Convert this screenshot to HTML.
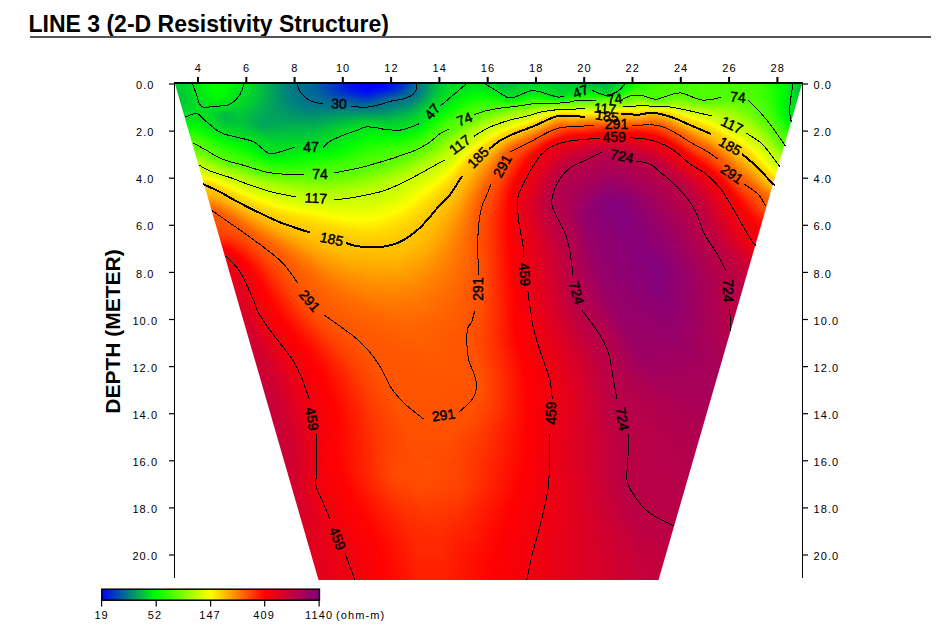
<!DOCTYPE html>
<html><head><meta charset="utf-8"><style>
html,body{margin:0;padding:0;background:#fff;}
body{width:947px;height:637px;position:relative;overflow:hidden;font-family:"Liberation Sans",sans-serif;}
#title{position:absolute;left:28.5px;top:8.8px;font-weight:bold;font-size:23px;line-height:30px;white-space:nowrap;color:#000;}
#rule{position:absolute;left:30px;top:36px;width:901px;height:2px;background:#555;}
#fld{position:absolute;left:175px;top:84px;width:627px;height:496px;clip-path:polygon(0 0,627px 0,483.5px 496px,143.5px 496px);}
#fld i{display:block;height:1px;}
svg{position:absolute;left:0;top:0;}
.t{font-size:11px;letter-spacing:1.1px;}
#cont path{fill:none;stroke:#000;stroke-linejoin:round;shape-rendering:crispEdges;}
#cont text{font-size:14px;stroke:#000;stroke-width:0.45px;text-anchor:middle;dominant-baseline:central;}
</style></head><body>
<div id="title">LINE 3 (2-D Resistivity Structure)</div>
<div id="rule"></div>
<div id="fld">
<i style="background:linear-gradient(90deg,#00c936 0.5px,#00dc23 14.5px,#00fb04 33.5px,#05ff00 41.5px,#00fc03 51.5px,#00e31c 66.5px,#00d827 76.5px,#007e81 112.5px,#00718e 124.5px,#00619e 140.5px,#0010ef 177.5px,#0002fd 190.5px,#0003fc 206.5px,#0014eb 214.5px,#0024db 221.5px,#0031ce 227.5px,#006a95 239.5px,#00906f 250.5px,#00c837 264.5px,#00dd22 275.5px,#00e31c 305.5px,#00de21 317.5px,#00c03f 326.5px,#00c43b 334.5px,#00d926 348.5px,#00d728 373.5px,#00ce31 386.5px,#00d42b 402.5px,#00bc43 422.5px,#00b946 428.5px,#00c738 435.5px,#00df20 444.5px,#00e41b 450.5px,#02ff00 455.5px,#24ff00 462.5px,#36ff00 472.5px,#4eff00 498.5px,#48ff00 560.5px,#48ff00 577.5px,#33ff00 590.5px,#00fe01 608.5px,#00db24 619.5px,#00c33c 625.5px,#00c13e 626.5px)"></i>
<i style="background:linear-gradient(90deg,#00c936 0.5px,#00da25 13.5px,#00f906 32.5px,#05ff00 40.5px,#00fc03 51.5px,#00e31c 65.5px,#00d926 75.5px,#007e81 112.5px,#00718e 124.5px,#00619e 140.5px,#000df2 179.5px,#0001fe 195.5px,#0008f7 209.5px,#0024db 220.5px,#0033cc 227.5px,#006798 238.5px,#00916e 250.5px,#00c837 264.5px,#00dd22 275.5px,#00e41b 306.5px,#00dd22 318.5px,#00c03f 326.5px,#00c33c 333.5px,#00d926 348.5px,#00d728 373.5px,#00cf30 387.5px,#00d629 402.5px,#00c03f 421.5px,#00bb44 428.5px,#00c837 435.5px,#00e01f 444.5px,#00e619 450.5px,#00fe01 454.5px,#23ff00 461.5px,#35ff00 470.5px,#4eff00 498.5px,#48ff00 559.5px,#48ff00 577.5px,#38ff00 588.5px,#00fe01 608.5px,#00db24 619.5px,#00c33c 625.5px,#00c13e 626.5px)"></i>
<i style="background:linear-gradient(90deg,#00c936 0.5px,#00d629 11.5px,#00f906 32.5px,#05ff00 40.5px,#00fc03 51.5px,#00e31c 65.5px,#00d926 75.5px,#00807f 111.5px,#00728d 123.5px,#00649b 139.5px,#000ef1 179.5px,#0003fc 194.5px,#000af5 209.5px,#0029d6 222.5px,#0035ca 227.5px,#00659a 237.5px,#008877 248.5px,#00c639 263.5px,#00dc23 274.5px,#00e619 304.5px,#00dc23 319.5px,#00c03f 326.5px,#00c639 334.5px,#00db24 349.5px,#00d827 373.5px,#00cf30 386.5px,#00d728 403.5px,#00c23d 422.5px,#00bd42 430.5px,#00e01f 444.5px,#00e619 449.5px,#00fd02 453.5px,#23ff00 460.5px,#37ff00 470.5px,#4fff00 499.5px,#48ff00 558.5px,#48ff00 578.5px,#31ff00 591.5px,#00fd02 608.5px,#00da25 619.5px,#00c33c 625.5px,#00c13e 626.5px)"></i>
<i style="background:linear-gradient(90deg,#00c837 0.5px,#00d827 12.5px,#00f609 31.5px,#04ff00 38.5px,#02ff00 48.5px,#00e21d 66.5px,#00d728 76.5px,#00837c 110.5px,#00728d 121.5px,#006996 136.5px,#0048b7 152.5px,#0014eb 176.5px,#0004fb 193.5px,#0010ef 211.5px,#0039c6 227.5px,#006798 237.5px,#00857a 247.5px,#00c33c 262.5px,#00dc23 273.5px,#00e817 304.5px,#00dc23 320.5px,#00c03f 327.5px,#00cc33 337.5px,#00dc23 349.5px,#00d926 373.5px,#00d02f 385.5px,#00d926 403.5px,#00c837 422.5px,#00bf40 430.5px,#00e11e 444.5px,#00e619 448.5px,#00fc03 452.5px,#27ff00 460.5px,#38ff00 469.5px,#43ff00 484.5px,#4fff00 498.5px,#48ff00 556.5px,#4aff00 576.5px,#34ff00 590.5px,#00fd02 608.5px,#00da25 619.5px,#00c23d 625.5px,#00c13e 626.5px)"></i>
<i style="background:linear-gradient(90deg,#00c837 0.5px,#00d52a 11.5px,#00f30c 30.5px,#02ff00 37.5px,#02ff00 48.5px,#00e31c 65.5px,#00d827 75.5px,#007f80 112.5px,#00728d 123.5px,#006699 138.5px,#003ac5 159.5px,#001ae5 173.5px,#0005fa 192.5px,#0015ea 212.5px,#0039c6 226.5px,#006996 237.5px,#007d82 245.5px,#00c43b 262.5px,#00db24 272.5px,#00ea15 304.5px,#00dc23 321.5px,#00c03f 328.5px,#00dd22 348.5px,#00db24 372.5px,#00d02f 385.5px,#00db24 403.5px,#00cf30 422.5px,#00c13e 430.5px,#00e11e 443.5px,#00e619 447.5px,#00fd02 451.5px,#26ff00 458.5px,#39ff00 468.5px,#44ff00 484.5px,#50ff00 499.5px,#4aff00 544.5px,#49ff00 578.5px,#34ff00 590.5px,#00fc03 608.5px,#00da25 619.5px,#00c43b 624.5px,#00c13e 626.5px)"></i>
<i style="background:linear-gradient(90deg,#00c738 0.5px,#00d629 12.5px,#00f50a 31.5px,#02ff00 37.5px,#02ff00 48.5px,#00e31c 64.5px,#00d629 76.5px,#007f80 112.5px,#00718e 126.5px,#00619e 142.5px,#001ee1 172.5px,#0005fa 192.5px,#001de2 214.5px,#002cd3 220.5px,#0050af 230.5px,#006d92 238.5px,#007986 244.5px,#00c23d 261.5px,#00da25 271.5px,#00ec13 304.5px,#00df20 321.5px,#00cf30 325.5px,#00c43b 328.5px,#00df20 350.5px,#00db24 373.5px,#00d12e 385.5px,#00dd22 404.5px,#00d629 422.5px,#00c33c 430.5px,#00e11e 443.5px,#00eb14 447.5px,#00ff00 450.5px,#25ff00 456.5px,#38ff00 464.5px,#43ff00 483.5px,#50ff00 497.5px,#4dff00 519.5px,#4bff00 563.5px,#4aff00 577.5px,#37ff00 589.5px,#00ff00 607.5px,#00d926 619.5px,#00c53a 624.5px,#00c13e 626.5px)"></i>
<i style="background:linear-gradient(90deg,#00c738 0.5px,#00d22d 10.5px,#00f40b 31.5px,#02ff00 37.5px,#03ff00 47.5px,#00e31c 64.5px,#00d728 75.5px,#00827d 111.5px,#00728d 123.5px,#006798 139.5px,#002fd0 165.5px,#001de2 175.5px,#0005fa 192.5px,#001be4 209.5px,#002ed1 219.5px,#006d92 237.5px,#007689 243.5px,#00c33c 261.5px,#00db24 271.5px,#00ec13 295.5px,#00ec13 310.5px,#00dc23 324.5px,#00cb34 328.5px,#00d827 341.5px,#00e11e 355.5px,#00dc23 373.5px,#00d22d 384.5px,#00e01f 405.5px,#00dc23 422.5px,#00c639 430.5px,#00cf30 434.5px,#00de21 440.5px,#00e718 445.5px,#02ff00 449.5px,#2aff00 455.5px,#39ff00 461.5px,#40ff00 473.5px,#44ff00 483.5px,#51ff00 497.5px,#4cff00 522.5px,#4aff00 578.5px,#35ff00 590.5px,#00fe01 607.5px,#00d32c 620.5px,#00c43b 625.5px,#00c33c 626.5px)"></i>
<i style="background:linear-gradient(90deg,#00c639 0.5px,#00d12e 10.5px,#00e21d 20.5px,#00f10e 30.5px,#03ff00 38.5px,#02ff00 47.5px,#00e31c 63.5px,#00d629 75.5px,#00807f 112.5px,#00728d 124.5px,#006699 140.5px,#0035ca 164.5px,#0023dc 173.5px,#0009f6 190.5px,#0009f6 193.5px,#001fe0 206.5px,#0031ce 218.5px,#006f90 237.5px,#007788 243.5px,#00c53a 261.5px,#00dc23 271.5px,#00e916 290.5px,#00f30c 303.5px,#00e01f 324.5px,#00d12e 329.5px,#00d728 339.5px,#00e41b 358.5px,#00da25 377.5px,#00d32c 384.5px,#00e51a 410.5px,#00e21d 421.5px,#00d728 426.5px,#00c936 430.5px,#00d32c 434.5px,#00dd22 438.5px,#00e718 444.5px,#04ff00 448.5px,#2eff00 454.5px,#3bff00 458.5px,#42ff00 470.5px,#44ff00 482.5px,#52ff00 497.5px,#4eff00 519.5px,#4bff00 578.5px,#35ff00 590.5px,#00fd02 607.5px,#00c639 624.5px,#00c43b 626.5px)"></i>
<i style="background:linear-gradient(90deg,#00c53a 0.5px,#00d02f 10.5px,#00e21d 20.5px,#00f10e 30.5px,#02ff00 38.5px,#03ff00 46.5px,#00f609 52.5px,#00e31c 63.5px,#00d629 75.5px,#00807f 112.5px,#00718e 127.5px,#006699 141.5px,#0028d7 173.5px,#000cf3 192.5px,#0026d9 206.5px,#0039c6 218.5px,#006f90 236.5px,#007887 243.5px,#00c33c 260.5px,#00db24 270.5px,#00e817 288.5px,#00f609 303.5px,#00ed12 315.5px,#00da25 327.5px,#00d629 335.5px,#00e817 360.5px,#00d827 379.5px,#00d42b 384.5px,#00e11e 399.5px,#00ed12 412.5px,#00e916 419.5px,#00dc23 426.5px,#00cd32 430.5px,#00d728 434.5px,#00e01f 437.5px,#00e41b 442.5px,#00fe01 446.5px,#2dff00 452.5px,#40ff00 456.5px,#46ff00 469.5px,#44ff00 481.5px,#52ff00 495.5px,#50ff00 516.5px,#4cff00 536.5px,#4cff00 577.5px,#39ff00 589.5px,#00fd02 607.5px,#00c738 624.5px,#00c53a 626.5px)"></i>
<i style="background:linear-gradient(90deg,#00c53a 0.5px,#00cd32 9.5px,#00e21d 21.5px,#00f609 33.5px,#03ff00 40.5px,#00fd02 48.5px,#00e41b 61.5px,#00d728 74.5px,#00817e 112.5px,#00728d 125.5px,#006798 141.5px,#003ac5 165.5px,#0012ed 192.5px,#002fd0 207.5px,#0044bb 219.5px,#006f90 235.5px,#007a85 243.5px,#00c53a 260.5px,#00dc23 270.5px,#00e916 287.5px,#00fa05 302.5px,#00f20d 314.5px,#00d827 333.5px,#00e817 353.5px,#00ef10 359.5px,#00e31c 369.5px,#00d827 380.5px,#00d728 385.5px,#00dd22 391.5px,#00eb14 403.5px,#00f609 411.5px,#00f00f 419.5px,#00db24 427.5px,#00d42b 431.5px,#00e619 438.5px,#00ec13 442.5px,#02ff00 445.5px,#33ff00 451.5px,#48ff00 456.5px,#4aff00 469.5px,#44ff00 480.5px,#53ff00 495.5px,#52ff00 514.5px,#4dff00 534.5px,#4dff00 577.5px,#3cff00 588.5px,#08ff00 604.5px,#00f906 608.5px,#00c738 625.5px,#00c639 626.5px)"></i>
<i style="background:linear-gradient(90deg,#00c43b 1.5px,#00d02f 11.5px,#00e11e 20.5px,#00ef10 30.5px,#01ff00 40.5px,#00fb04 48.5px,#00e31c 61.5px,#00d629 74.5px,#00817e 112.5px,#00728d 127.5px,#006699 143.5px,#0034cb 172.5px,#0019e6 191.5px,#003ac5 209.5px,#0050af 220.5px,#006e91 233.5px,#007986 242.5px,#00c738 260.5px,#00dd22 270.5px,#00e916 286.5px,#00fd02 300.5px,#00fa05 312.5px,#00e01f 328.5px,#00dc23 338.5px,#00e51a 349.5px,#00f609 358.5px,#00e11e 374.5px,#00da25 380.5px,#00d926 385.5px,#00e01f 390.5px,#00e31c 396.5px,#00fe01 408.5px,#00fd02 418.5px,#00eb14 424.5px,#00df20 427.5px,#00df20 434.5px,#01ff00 443.5px,#39ff00 450.5px,#50ff00 456.5px,#50ff00 468.5px,#45ff00 480.5px,#53ff00 492.5px,#55ff00 508.5px,#4dff00 531.5px,#4fff00 576.5px,#3dff00 588.5px,#04ff00 605.5px,#00f50a 609.5px,#00c837 625.5px)"></i>
<i style="background:linear-gradient(90deg,#00c33c 1.5px,#00cd32 10.5px,#00e11e 20.5px,#00f10e 32.5px,#00ff00 42.5px,#00f30c 51.5px,#00e21d 62.5px,#00d728 73.5px,#00827d 112.5px,#00728d 126.5px,#006897 142.5px,#0048b7 162.5px,#0020df 191.5px,#0044bb 210.5px,#00708f 233.5px,#007986 241.5px,#009f60 250.5px,#00cf30 262.5px,#00e01f 272.5px,#00e817 284.5px,#00ff00 298.5px,#03ff00 309.5px,#00f708 317.5px,#00e31c 327.5px,#00df20 339.5px,#00ea15 349.5px,#00fe01 357.5px,#00f807 363.5px,#00e51a 373.5px,#00db24 384.5px,#00eb14 396.5px,#00ff00 403.5px,#0cff00 412.5px,#05ff00 421.5px,#00ff00 423.5px,#00f00f 426.5px,#00f20d 436.5px,#02ff00 439.5px,#18ff00 444.5px,#44ff00 450.5px,#56ff00 458.5px,#56ff00 467.5px,#4eff00 473.5px,#47ff00 480.5px,#53ff00 490.5px,#59ff00 506.5px,#4eff00 530.5px,#52ff00 569.5px,#48ff00 583.5px,#29ff00 595.5px,#00ff00 606.5px,#00cb34 624.5px,#00ca35 625.5px)"></i>
<i style="background:linear-gradient(90deg,#00c23d 1.5px,#00ca35 9.5px,#00e11e 21.5px,#00fc03 41.5px,#00f30c 50.5px,#00e21d 61.5px,#00da25 71.5px,#00847b 111.5px,#00728d 127.5px,#006897 144.5px,#003fc0 173.5px,#0027d8 191.5px,#004bb4 209.5px,#00708f 230.5px,#007689 239.5px,#00946b 247.5px,#00cb34 260.5px,#00df20 270.5px,#00eb14 284.5px,#02ff00 296.5px,#08ff00 308.5px,#00fb04 318.5px,#00e11e 331.5px,#00e31c 342.5px,#00f807 351.5px,#03ff00 354.5px,#09ff00 359.5px,#00fb04 366.5px,#00e01f 380.5px,#00e31c 388.5px,#02ff00 398.5px,#16ff00 409.5px,#17ff00 423.5px,#0cff00 427.5px,#0cff00 436.5px,#2fff00 445.5px,#4fff00 450.5px,#5aff00 458.5px,#60ff00 464.5px,#52ff00 471.5px,#49ff00 480.5px,#53ff00 488.5px,#5eff00 505.5px,#4fff00 525.5px,#52ff00 572.5px,#45ff00 585.5px,#1eff00 598.5px,#00ff00 606.5px,#00d12e 622.5px,#00cb34 625.5px)"></i>
<i style="background:linear-gradient(90deg,#00c13e 1.5px,#00cc33 10.5px,#00e11e 21.5px,#00f906 42.5px,#00ec13 53.5px,#00e11e 64.5px,#00cf30 76.5px,#00837c 112.5px,#00728d 129.5px,#006699 147.5px,#0046b9 172.5px,#002fd0 190.5px,#0038c7 196.5px,#0050af 207.5px,#006d92 225.5px,#007986 239.5px,#00a15e 249.5px,#00d02f 261.5px,#00e11e 271.5px,#00e817 281.5px,#02ff00 293.5px,#0eff00 306.5px,#02ff00 318.5px,#00e41b 332.5px,#00e619 341.5px,#03ff00 351.5px,#14ff00 357.5px,#0bff00 364.5px,#00fd02 370.5px,#00e916 379.5px,#00eb14 388.5px,#01ff00 393.5px,#17ff00 400.5px,#25ff00 414.5px,#2bff00 422.5px,#2eff00 424.5px,#26ff00 432.5px,#2cff00 438.5px,#42ff00 446.5px,#54ff00 450.5px,#59ff00 456.5px,#69ff00 462.5px,#63ff00 467.5px,#57ff00 471.5px,#4dff00 479.5px,#60ff00 498.5px,#63ff00 505.5px,#51ff00 523.5px,#54ff00 568.5px,#4aff00 583.5px,#31ff00 593.5px,#00fe01 606.5px,#00d926 619.5px,#00cd32 625.5px)"></i>
<i style="background:linear-gradient(90deg,#00c13e 2.5px,#00cb34 10.5px,#00e11e 21.5px,#00f10e 35.5px,#00f609 44.5px,#00e11e 62.5px,#00d629 72.5px,#00847b 112.5px,#00728d 129.5px,#006798 149.5px,#004eb1 170.5px,#0041be 181.5px,#0037c8 191.5px,#0059a6 208.5px,#00708f 224.5px,#007a85 238.5px,#009b64 247.5px,#00cf30 260.5px,#00e11e 270.5px,#00eb14 281.5px,#02ff00 291.5px,#13ff00 304.5px,#0dff00 316.5px,#00fb04 324.5px,#00e31c 336.5px,#01ff00 347.5px,#1fff00 356.5px,#1bff00 362.5px,#00fc03 376.5px,#00f609 381.5px,#00fa05 388.5px,#0cff00 392.5px,#21ff00 396.5px,#31ff00 410.5px,#37ff00 420.5px,#47ff00 424.5px,#47ff00 439.5px,#57ff00 451.5px,#65ff00 457.5px,#74ff00 462.5px,#6dff00 467.5px,#53ff00 474.5px,#55ff00 486.5px,#6bff00 502.5px,#5bff00 515.5px,#53ff00 524.5px,#53ff00 540.5px,#58ff00 559.5px,#4cff00 582.5px,#35ff00 592.5px,#00fe01 606.5px,#00de21 617.5px,#00d22d 624.5px)"></i>
<i style="background:linear-gradient(90deg,#00c13e 2.5px,#00cb34 10.5px,#00e21d 22.5px,#00f30c 42.5px,#00e11e 62.5px,#00d12e 74.5px,#00837c 113.5px,#00728d 131.5px,#00649b 154.5px,#0054ab 171.5px,#0048b7 181.5px,#003ec1 190.5px,#0052ad 200.5px,#006a95 215.5px,#00738c 227.5px,#007d82 238.5px,#00ac53 250.5px,#00d12e 260.5px,#00e11e 269.5px,#00ec13 280.5px,#02ff00 289.5px,#17ff00 302.5px,#16ff00 314.5px,#00fd02 327.5px,#00e916 335.5px,#00ff00 342.5px,#22ff00 353.5px,#2cff00 357.5px,#14ff00 373.5px,#08ff00 380.5px,#0cff00 388.5px,#22ff00 393.5px,#35ff00 396.5px,#3fff00 414.5px,#47ff00 421.5px,#57ff00 425.5px,#5eff00 438.5px,#5aff00 450.5px,#72ff00 458.5px,#7fff00 462.5px,#7bff00 466.5px,#5cff00 474.5px,#59ff00 486.5px,#72ff00 501.5px,#68ff00 511.5px,#56ff00 522.5px,#53ff00 531.5px,#5bff00 556.5px,#4dff00 582.5px,#36ff00 592.5px,#00fe01 606.5px,#00e51a 614.5px,#00d42b 624.5px)"></i>
<i style="background:linear-gradient(90deg,#00c03f 2.5px,#00d02f 12.5px,#00e11e 22.5px,#00f00f 42.5px,#00d629 71.5px,#008c73 108.5px,#00748b 128.5px,#006798 154.5px,#005aa5 171.5px,#0050af 180.5px,#0046b9 190.5px,#0054ab 198.5px,#006699 207.5px,#00708f 218.5px,#007d82 236.5px,#009a65 245.5px,#00ce31 258.5px,#00e11e 268.5px,#00eb14 278.5px,#02ff00 287.5px,#1bff00 301.5px,#1eff00 313.5px,#09ff00 327.5px,#00fd02 331.5px,#00f609 336.5px,#03ff00 339.5px,#1bff00 347.5px,#32ff00 354.5px,#39ff00 358.5px,#1dff00 380.5px,#20ff00 388.5px,#33ff00 393.5px,#4aff00 396.5px,#51ff00 422.5px,#6cff00 429.5px,#72ff00 437.5px,#64ff00 450.5px,#78ff00 457.5px,#8cff00 462.5px,#86ff00 467.5px,#68ff00 476.5px,#61ff00 485.5px,#7aff00 500.5px,#6eff00 512.5px,#5bff00 522.5px,#53ff00 530.5px,#5fff00 554.5px,#4dff00 583.5px,#34ff00 593.5px,#00fd02 606.5px,#00e41b 614.5px,#00d52a 624.5px)"></i>
<i style="background:linear-gradient(90deg,#00c23d 3.5px,#00ce31 11.5px,#00e11e 22.5px,#00ed12 42.5px,#00d827 69.5px,#008e71 107.5px,#00748b 129.5px,#006a95 154.5px,#00609f 172.5px,#0056a9 180.5px,#004db2 190.5px,#006b94 207.5px,#00738c 218.5px,#007f80 235.5px,#009a65 244.5px,#00d12e 258.5px,#00e11e 268.5px,#00eb14 277.5px,#03ff00 286.5px,#1eff00 299.5px,#25ff00 313.5px,#12ff00 328.5px,#04ff00 335.5px,#24ff00 344.5px,#35ff00 352.5px,#44ff00 356.5px,#32ff00 383.5px,#3aff00 391.5px,#49ff00 394.5px,#59ff00 396.5px,#5aff00 423.5px,#7aff00 429.5px,#83ff00 438.5px,#6fff00 450.5px,#84ff00 457.5px,#99ff00 462.5px,#94ff00 467.5px,#70ff00 479.5px,#6eff00 487.5px,#84ff00 499.5px,#7aff00 510.5px,#57ff00 528.5px,#63ff00 553.5px,#4eff00 583.5px,#35ff00 593.5px,#00fd02 606.5px,#00e41b 614.5px,#00d728 623.5px)"></i>
<i style="background:linear-gradient(90deg,#00c23d 3.5px,#00d728 15.5px,#00e31c 27.5px,#00eb14 42.5px,#00da25 67.5px,#00926d 105.5px,#007689 128.5px,#006d92 154.5px,#006699 172.5px,#005ba4 181.5px,#0054ab 190.5px,#00649b 199.5px,#00708f 209.5px,#007689 219.5px,#00847b 235.5px,#009f60 244.5px,#00d12e 257.5px,#00e11e 267.5px,#00e916 275.5px,#02ff00 284.5px,#22ff00 298.5px,#2cff00 313.5px,#1fff00 328.5px,#13ff00 335.5px,#27ff00 340.5px,#33ff00 344.5px,#3fff00 352.5px,#4eff00 356.5px,#49ff00 388.5px,#4eff00 393.5px,#66ff00 397.5px,#69ff00 409.5px,#66ff00 423.5px,#84ff00 429.5px,#93ff00 437.5px,#7cff00 449.5px,#87ff00 455.5px,#a7ff00 462.5px,#9dff00 470.5px,#8eff00 475.5px,#7dff00 480.5px,#7aff00 486.5px,#8fff00 500.5px,#7dff00 513.5px,#5eff00 529.5px,#68ff00 553.5px,#4aff00 586.5px,#2bff00 596.5px,#00fd02 606.5px,#00e31c 614.5px,#00d827 623.5px)"></i>
<i style="background:linear-gradient(90deg,#00c33c 3.5px,#00e11e 22.5px,#00e817 43.5px,#00da25 66.5px,#00916e 106.5px,#007689 130.5px,#00708f 153.5px,#006a95 176.5px,#005ca3 186.5px,#005fa0 194.5px,#00708f 204.5px,#007a85 221.5px,#008a75 236.5px,#00b44b 248.5px,#00d629 258.5px,#00e21d 268.5px,#00ef10 276.5px,#04ff00 283.5px,#24ff00 296.5px,#33ff00 312.5px,#2cff00 328.5px,#22ff00 335.5px,#36ff00 340.5px,#40ff00 343.5px,#48ff00 352.5px,#57ff00 358.5px,#5eff00 386.5px,#5dff00 393.5px,#73ff00 397.5px,#78ff00 404.5px,#74ff00 423.5px,#94ff00 431.5px,#a0ff00 438.5px,#8aff00 449.5px,#93ff00 455.5px,#b4ff00 462.5px,#aaff00 473.5px,#8eff00 479.5px,#88ff00 486.5px,#9bff00 499.5px,#84ff00 514.5px,#66ff00 530.5px,#6cff00 554.5px,#58ff00 572.5px,#49ff00 587.5px,#27ff00 597.5px,#00fd02 606.5px,#00e41b 613.5px,#00da25 623.5px)"></i>
<i style="background:linear-gradient(90deg,#00c53a 3.5px,#00e11e 22.5px,#00e51a 43.5px,#00db24 64.5px,#00936c 105.5px,#007788 130.5px,#00718e 155.5px,#006e91 176.5px,#00629d 188.5px,#006c93 198.5px,#007d82 219.5px,#008d72 235.5px,#00ad52 245.5px,#00d42b 256.5px,#00e11e 265.5px,#00ea15 273.5px,#03ff00 281.5px,#27ff00 295.5px,#3aff00 314.5px,#38ff00 328.5px,#32ff00 335.5px,#3eff00 339.5px,#4dff00 342.5px,#53ff00 355.5px,#69ff00 363.5px,#72ff00 378.5px,#6fff00 390.5px,#72ff00 394.5px,#82ff00 398.5px,#86ff00 410.5px,#82ff00 423.5px,#acff00 437.5px,#9aff00 450.5px,#a3ff00 456.5px,#c0ff00 462.5px,#bdff00 473.5px,#a0ff00 478.5px,#98ff00 486.5px,#a6ff00 500.5px,#8bff00 515.5px,#6fff00 530.5px,#71ff00 554.5px,#54ff00 578.5px,#48ff00 588.5px,#24ff00 598.5px,#00fd02 606.5px,#00e31c 613.5px,#00db24 623.5px)"></i>
<i style="background:linear-gradient(90deg,#00c738 4.5px,#00e11e 22.5px,#00e31c 44.5px,#00d926 64.5px,#009768 103.5px,#007986 130.5px,#00718e 176.5px,#006897 189.5px,#007d82 213.5px,#008c73 232.5px,#00a659 242.5px,#00d42b 255.5px,#00e11e 264.5px,#00e817 271.5px,#01ff00 279.5px,#28ff00 293.5px,#41ff00 313.5px,#42ff00 323.5px,#44ff00 328.5px,#41ff00 336.5px,#57ff00 344.5px,#5cff00 356.5px,#74ff00 362.5px,#7cff00 368.5px,#7fff00 375.5px,#89ff00 381.5px,#81ff00 393.5px,#93ff00 400.5px,#92ff00 424.5px,#b7ff00 438.5px,#abff00 451.5px,#b6ff00 458.5px,#c8ff00 463.5px,#cbff00 470.5px,#c3ff00 474.5px,#b0ff00 478.5px,#aaff00 486.5px,#b2ff00 500.5px,#a4ff00 507.5px,#7aff00 530.5px,#75ff00 555.5px,#54ff00 578.5px,#49ff00 588.5px,#2aff00 597.5px,#00fd02 606.5px,#00e31c 613.5px,#00dd22 622.5px)"></i>
<i style="background:linear-gradient(90deg,#00c837 4.5px,#00e11e 22.5px,#00e01f 47.5px,#00d629 65.5px,#009a65 101.5px,#007a85 131.5px,#00758a 173.5px,#006f90 187.5px,#007689 205.5px,#00956a 234.5px,#00b649 245.5px,#00d926 256.5px,#00e916 270.5px,#02ff00 278.5px,#2eff00 293.5px,#47ff00 315.5px,#49ff00 323.5px,#4fff00 328.5px,#50ff00 339.5px,#64ff00 349.5px,#67ff00 356.5px,#87ff00 364.5px,#8eff00 375.5px,#9dff00 380.5px,#94ff00 393.5px,#a2ff00 401.5px,#a2ff00 425.5px,#baff00 436.5px,#c1ff00 439.5px,#beff00 455.5px,#c8ff00 462.5px,#d8ff00 467.5px,#d3ff00 471.5px,#c3ff00 475.5px,#bcff00 485.5px,#c0ff00 499.5px,#b0ff00 504.5px,#a8ff00 511.5px,#84ff00 531.5px,#7bff00 555.5px,#54ff00 579.5px,#48ff00 589.5px,#27ff00 598.5px,#00fd02 606.5px,#00e51a 612.5px,#00dd22 622.5px)"></i>
<i style="background:linear-gradient(90deg,#00c936 4.5px,#00e11e 21.5px,#00dd22 47.5px,#00d32c 66.5px,#009d62 99.5px,#007b84 133.5px,#007986 172.5px,#00748b 182.5px,#007788 202.5px,#009867 233.5px,#00c23d 247.5px,#00dd22 257.5px,#00e916 269.5px,#03ff00 277.5px,#2fff00 291.5px,#4dff00 314.5px,#4eff00 323.5px,#59ff00 334.5px,#5cff00 342.5px,#6eff00 348.5px,#73ff00 356.5px,#95ff00 364.5px,#99ff00 370.5px,#9fff00 376.5px,#aeff00 380.5px,#a9ff00 394.5px,#b1ff00 407.5px,#b2ff00 427.5px,#c0ff00 436.5px,#d0ff00 444.5px,#d0ff00 462.5px,#e6ff00 467.5px,#e3ff00 470.5px,#cfff00 474.5px,#ccff00 497.5px,#c6ff00 500.5px,#baff00 503.5px,#b5ff00 510.5px,#a7ff00 517.5px,#8dff00 533.5px,#7fff00 556.5px,#55ff00 579.5px,#47ff00 590.5px,#23ff00 599.5px,#00fe01 606.5px,#00e31c 613.5px,#00dd22 622.5px)"></i>
<i style="background:linear-gradient(90deg,#00cd32 5.5px,#00e11e 21.5px,#00db24 46.5px,#00d728 56.5px,#00cc33 70.5px,#00a15e 96.5px,#007d82 133.5px,#007d82 172.5px,#007986 180.5px,#007b84 203.5px,#009d62 233.5px,#00dc23 255.5px,#00ea15 268.5px,#01ff00 275.5px,#32ff00 290.5px,#51ff00 314.5px,#55ff00 326.5px,#64ff00 333.5px,#66ff00 342.5px,#79ff00 348.5px,#81ff00 356.5px,#a8ff00 366.5px,#a7ff00 374.5px,#b5ff00 378.5px,#beff00 381.5px,#c1ff00 433.5px,#c9ff00 438.5px,#e1ff00 443.5px,#e5ff00 454.5px,#dcff00 461.5px,#f4ff00 467.5px,#eeff00 471.5px,#e1ff00 474.5px,#e4ff00 487.5px,#d6ff00 498.5px,#c2ff00 502.5px,#beff00 510.5px,#b3ff00 514.5px,#abff00 521.5px,#96ff00 534.5px,#83ff00 557.5px,#55ff00 580.5px,#48ff00 590.5px,#20ff00 600.5px,#00fe01 606.5px,#00e31c 613.5px,#00de21 621.5px)"></i>
<i style="background:linear-gradient(90deg,#00d02f 5.5px,#00e11e 22.5px,#00d926 44.5px,#00d22d 53.5px,#00d02f 65.5px,#009f60 98.5px,#007f80 133.5px,#00827d 171.5px,#007e81 179.5px,#007e81 196.5px,#00827d 206.5px,#00a25d 233.5px,#00dd22 254.5px,#00eb14 267.5px,#02ff00 274.5px,#32ff00 288.5px,#44ff00 299.5px,#57ff00 320.5px,#5aff00 326.5px,#6dff00 332.5px,#71ff00 342.5px,#86ff00 349.5px,#8eff00 356.5px,#b5ff00 366.5px,#b5ff00 375.5px,#ceff00 383.5px,#ceff00 401.5px,#cfff00 437.5px,#f4ff00 443.5px,#faff00 449.5px,#f6ff00 456.5px,#ebff00 461.5px,#fffe00 466.5px,#fffa00 469.5px,#faff00 472.5px,#f4ff00 476.5px,#faff00 486.5px,#e2ff00 498.5px,#ccff00 502.5px,#c6ff00 510.5px,#bcff00 513.5px,#b5ff00 521.5px,#a8ff00 528.5px,#86ff00 558.5px,#56ff00 580.5px,#4aff00 590.5px,#27ff00 599.5px,#00ff00 606.5px,#00e31c 613.5px,#00de21 621.5px)"></i>
<i style="background:linear-gradient(90deg,#00d32c 5.5px,#00e11e 21.5px,#00db24 39.5px,#00cd32 52.5px,#00cf30 64.5px,#00b748 80.5px,#009b64 102.5px,#00827d 133.5px,#008679 171.5px,#00837c 179.5px,#00857a 193.5px,#00857a 204.5px,#00a758 233.5px,#00df20 254.5px,#00ec13 266.5px,#03ff00 273.5px,#37ff00 288.5px,#49ff00 300.5px,#62ff00 326.5px,#76ff00 332.5px,#81ff00 343.5px,#95ff00 351.5px,#9eff00 357.5px,#c0ff00 366.5px,#c3ff00 378.5px,#d1ff00 381.5px,#e1ff00 384.5px,#e7ff00 392.5px,#dbff00 407.5px,#e0ff00 430.5px,#e1ff00 437.5px,#fffc00 442.5px,#fff100 445.5px,#fff300 456.5px,#fdff00 460.5px,#fff900 464.5px,#ffe900 468.5px,#fff600 476.5px,#fff000 486.5px,#fdff00 494.5px,#e3ff00 500.5px,#d8ff00 503.5px,#ccff00 510.5px,#c3ff00 512.5px,#c0ff00 520.5px,#b4ff00 526.5px,#89ff00 559.5px,#56ff00 581.5px,#49ff00 591.5px,#28ff00 599.5px,#01ff00 606.5px,#00e31c 613.5px,#00de21 621.5px)"></i>
<i style="background:linear-gradient(90deg,#00d629 5.5px,#00e21d 23.5px,#00d827 40.5px,#00c936 50.5px,#00cd32 65.5px,#00a25d 95.5px,#00847b 134.5px,#008b74 170.5px,#008b74 183.5px,#008a75 195.5px,#008c73 206.5px,#00ac53 233.5px,#00df20 253.5px,#00ee11 265.5px,#01ff00 271.5px,#39ff00 287.5px,#4bff00 298.5px,#5dff00 316.5px,#6fff00 327.5px,#84ff00 334.5px,#8dff00 343.5px,#a3ff00 353.5px,#aeff00 358.5px,#c7ff00 366.5px,#d0ff00 379.5px,#f5ff00 384.5px,#fcff00 391.5px,#ebff00 403.5px,#edff00 427.5px,#f4ff00 434.5px,#f8ff00 438.5px,#fff900 440.5px,#ffdf00 444.5px,#ffe100 456.5px,#fff100 460.5px,#ffeb00 464.5px,#ffda00 468.5px,#ffe200 477.5px,#ffdf00 486.5px,#fff900 496.5px,#f6ff00 499.5px,#e5ff00 503.5px,#d4ff00 510.5px,#caff00 513.5px,#c0ff00 522.5px,#b5ff00 532.5px,#8cff00 560.5px,#55ff00 582.5px,#4aff00 591.5px,#2aff00 599.5px,#02ff00 606.5px,#00e31c 613.5px,#00de21 621.5px)"></i>
<i style="background:linear-gradient(90deg,#00d827 6.5px,#00e21d 24.5px,#00d827 39.5px,#00c43b 50.5px,#00cb34 64.5px,#00b748 79.5px,#00a05f 97.5px,#008778 135.5px,#00906f 170.5px,#00916e 183.5px,#008f70 198.5px,#009669 210.5px,#00b14e 233.5px,#00df20 252.5px,#00ef10 264.5px,#03ff00 270.5px,#3bff00 286.5px,#4dff00 296.5px,#5eff00 314.5px,#79ff00 327.5px,#8eff00 334.5px,#99ff00 343.5px,#aeff00 352.5px,#b4ff00 357.5px,#c1ff00 360.5px,#c8ff00 366.5px,#deff00 372.5px,#e4ff00 379.5px,#fcff00 382.5px,#fff200 385.5px,#ffee00 393.5px,#fdff00 400.5px,#f8ff00 415.5px,#feff00 427.5px,#fff400 433.5px,#fff200 438.5px,#ffce00 444.5px,#ffd100 456.5px,#ffe200 460.5px,#ffde00 464.5px,#ffcd00 468.5px,#ffd000 486.5px,#ffe000 492.5px,#fff100 497.5px,#feff00 500.5px,#ddff00 510.5px,#d2ff00 514.5px,#c3ff00 523.5px,#beff00 531.5px,#94ff00 559.5px,#54ff00 583.5px,#4cff00 591.5px,#2dff00 599.5px,#00fd02 607.5px,#00e31c 613.5px,#00df20 620.5px)"></i>
<i style="background:linear-gradient(90deg,#00d926 6.5px,#00e21d 22.5px,#00da25 37.5px,#00bf40 50.5px,#00ca35 64.5px,#00b649 79.5px,#00a15e 96.5px,#008a75 134.5px,#00946b 171.5px,#009867 193.5px,#009867 207.5px,#00b44b 232.5px,#00e11e 252.5px,#00ea15 260.5px,#01ff00 268.5px,#40ff00 286.5px,#50ff00 296.5px,#5cff00 308.5px,#80ff00 326.5px,#97ff00 334.5px,#abff00 346.5px,#b9ff00 353.5px,#bcff00 357.5px,#caff00 361.5px,#d0ff00 366.5px,#ebff00 371.5px,#f7ff00 377.5px,#feff00 380.5px,#ffe100 384.5px,#ffdd00 393.5px,#fff400 401.5px,#fff800 419.5px,#ffef00 428.5px,#ffe000 432.5px,#ffdf00 438.5px,#ffc400 445.5px,#ffc500 455.5px,#ffd600 460.5px,#ffd000 465.5px,#ffc400 469.5px,#ffc100 481.5px,#ffc800 486.5px,#ffd400 492.5px,#ffe900 498.5px,#ffff00 503.5px,#e8ff00 510.5px,#c9ff00 521.5px,#c3ff00 531.5px,#99ff00 559.5px,#55ff00 583.5px,#4bff00 592.5px,#2fff00 599.5px,#00fe01 607.5px,#00e31c 613.5px,#00df20 620.5px)"></i>
<i style="background:linear-gradient(90deg,#00da25 6.5px,#00e21d 20.5px,#00db24 36.5px,#00bc43 49.5px,#00c837 64.5px,#00ba45 76.5px,#00a45b 92.5px,#008d72 135.5px,#009966 172.5px,#009f60 192.5px,#009c63 204.5px,#00ba45 233.5px,#00e11e 251.5px,#00e817 258.5px,#03ff00 267.5px,#42ff00 285.5px,#52ff00 296.5px,#61ff00 308.5px,#91ff00 328.5px,#a4ff00 336.5px,#bcff00 350.5px,#c6ff00 358.5px,#d4ff00 362.5px,#ddff00 366.5px,#fcff00 371.5px,#ffeb00 380.5px,#ffcf00 384.5px,#ffd000 394.5px,#ffe300 399.5px,#ffea00 412.5px,#ffe500 426.5px,#ffcf00 432.5px,#ffc900 442.5px,#ffb900 449.5px,#ffc000 454.5px,#ffcb00 459.5px,#ffc700 467.5px,#ffb400 474.5px,#ffb600 481.5px,#ffc800 487.5px,#ffcd00 494.5px,#fff500 504.5px,#fcff00 508.5px,#d4ff00 519.5px,#c3ff00 534.5px,#a0ff00 558.5px,#76ff00 573.5px,#55ff00 584.5px,#4dff00 592.5px,#31ff00 599.5px,#01ff00 607.5px,#00e31c 613.5px,#00df20 620.5px)"></i>
<i style="background:linear-gradient(90deg,#00dd22 7.5px,#00e21d 22.5px,#00db24 36.5px,#00ba45 49.5px,#00c738 64.5px,#00b946 76.5px,#00a55a 91.5px,#008f70 135.5px,#009f60 175.5px,#00a55a 191.5px,#00a55a 209.5px,#00bd42 232.5px,#00e11e 250.5px,#00e916 257.5px,#01ff00 265.5px,#44ff00 284.5px,#54ff00 296.5px,#5dff00 303.5px,#81ff00 318.5px,#adff00 336.5px,#ceff00 358.5px,#dfff00 362.5px,#ecff00 366.5px,#fffe00 369.5px,#ffe100 375.5px,#ffda00 380.5px,#ffc500 384.5px,#ffc500 393.5px,#ffd700 399.5px,#ffdb00 419.5px,#ffd700 427.5px,#ffc200 434.5px,#ffbf00 444.5px,#ffb100 448.5px,#ffb700 453.5px,#ffc100 457.5px,#ffbf00 468.5px,#ffa900 474.5px,#ffaa00 480.5px,#ffc200 487.5px,#ffc800 494.5px,#ffff00 510.5px,#d9ff00 521.5px,#cbff00 529.5px,#bcff00 544.5px,#9eff00 561.5px,#73ff00 575.5px,#55ff00 585.5px,#4cff00 593.5px,#34ff00 599.5px,#00fc03 608.5px,#00e41b 613.5px,#00df20 619.5px)"></i>
<i style="background:linear-gradient(90deg,#00de21 7.5px,#00e31c 22.5px,#00db24 36.5px,#00ba45 48.5px,#00c639 65.5px,#00b54a 78.5px,#00a45b 92.5px,#00926d 135.5px,#00ac53 191.5px,#00aa55 207.5px,#00c13e 232.5px,#00e11e 249.5px,#00e916 256.5px,#03ff00 264.5px,#45ff00 283.5px,#53ff00 293.5px,#5dff00 301.5px,#b2ff00 334.5px,#c3ff00 347.5px,#c7ff00 352.5px,#deff00 359.5px,#fffd00 367.5px,#ffda00 373.5px,#ffce00 377.5px,#ffc700 383.5px,#ffbb00 388.5px,#ffcc00 399.5px,#ffca00 429.5px,#ffb600 437.5px,#ffb500 444.5px,#ffa900 450.5px,#ffb800 457.5px,#ffb500 468.5px,#ffa000 474.5px,#ff9f00 479.5px,#ffaf00 484.5px,#ffba00 488.5px,#ffd100 499.5px,#ffeb00 508.5px,#feff00 513.5px,#e3ff00 521.5px,#ceff00 532.5px,#c4ff00 540.5px,#a9ff00 558.5px,#86ff00 571.5px,#59ff00 584.5px,#4bff00 594.5px,#2bff00 601.5px,#00fe01 608.5px,#00e51a 613.5px,#00df20 619.5px)"></i>
<i style="background:linear-gradient(90deg,#00e01f 7.5px,#00e31c 23.5px,#00db24 36.5px,#00ba45 48.5px,#00bf40 56.5px,#00c53a 66.5px,#00a55a 90.5px,#009669 136.5px,#00b24d 190.5px,#00b04f 209.5px,#00c936 234.5px,#00e11e 249.5px,#00ec13 256.5px,#04ff00 263.5px,#47ff00 282.5px,#54ff00 292.5px,#5bff00 298.5px,#b0ff00 329.5px,#beff00 338.5px,#cdff00 352.5px,#eeff00 360.5px,#fffe00 364.5px,#ffcf00 373.5px,#ffc300 378.5px,#ffbf00 384.5px,#ffb300 388.5px,#ffbb00 392.5px,#ffc100 396.5px,#ffbd00 432.5px,#ffac00 436.5px,#ffab00 444.5px,#ffa100 450.5px,#ffae00 457.5px,#ffab00 468.5px,#ff9500 475.5px,#ff9900 481.5px,#ffb000 488.5px,#ffc200 494.5px,#ffc600 498.5px,#ffd100 502.5px,#ffe900 510.5px,#fdff00 516.5px,#d6ff00 530.5px,#c4ff00 543.5px,#acff00 559.5px,#7cff00 575.5px,#59ff00 585.5px,#4dff00 594.5px,#34ff00 600.5px,#02ff00 608.5px,#00e41b 614.5px,#00df20 619.5px)"></i>
<i style="background:linear-gradient(90deg,#00e31c 7.5px,#00e31c 24.5px,#00dc23 36.5px,#00bb44 48.5px,#00bf40 56.5px,#00c43b 66.5px,#00b24d 79.5px,#00a55a 90.5px,#009966 139.5px,#00b946 190.5px,#00b649 210.5px,#00c936 232.5px,#00e21d 249.5px,#00ef10 256.5px,#02ff00 261.5px,#45ff00 280.5px,#53ff00 288.5px,#5cff00 297.5px,#b2ff00 326.5px,#c3ff00 337.5px,#c7ff00 344.5px,#daff00 353.5px,#ffff00 361.5px,#ffca00 372.5px,#ffc000 377.5px,#ffab00 389.5px,#ffb800 395.5px,#ffaf00 415.5px,#ffb200 432.5px,#ffa100 437.5px,#ff9e00 445.5px,#ff9900 451.5px,#ffa300 457.5px,#ffa000 468.5px,#ff8d00 475.5px,#ff8e00 480.5px,#ffbd00 496.5px,#ffc900 501.5px,#ffd400 507.5px,#fdff00 519.5px,#d9ff00 533.5px,#c5ff00 543.5px,#b6ff00 556.5px,#93ff00 570.5px,#5bff00 585.5px,#4cff00 595.5px,#31ff00 601.5px,#00fd02 609.5px,#00e51a 614.5px,#00df20 619.5px)"></i>
<i style="background:linear-gradient(90deg,#00e51a 8.5px,#00e51a 23.5px,#00dc23 36.5px,#00bb44 49.5px,#00c43b 67.5px,#00a659 87.5px,#009c63 138.5px,#00bf40 190.5px,#00bc43 211.5px,#00cd32 232.5px,#00e21d 248.5px,#00ec13 254.5px,#00ff00 259.5px,#46ff00 279.5px,#53ff00 286.5px,#5cff00 295.5px,#b3ff00 323.5px,#c8ff00 338.5px,#ccff00 344.5px,#e5ff00 353.5px,#fffe00 359.5px,#ffce00 369.5px,#ffbf00 376.5px,#ffaf00 380.5px,#ffa200 389.5px,#ffad00 395.5px,#ffa000 414.5px,#ffa500 432.5px,#ff9500 438.5px,#ff9200 446.5px,#ff9100 452.5px,#ff9800 459.5px,#ff9500 468.5px,#ff8300 477.5px,#ff8b00 483.5px,#ffad00 493.5px,#ffc400 501.5px,#ffd400 509.5px,#feff00 522.5px,#c8ff00 542.5px,#bbff00 555.5px,#9bff00 569.5px,#59ff00 587.5px,#4bff00 596.5px,#22ff00 604.5px,#01ff00 609.5px,#00e31c 615.5px,#00df20 618.5px)"></i>
<i style="background:linear-gradient(90deg,#00e718 8.5px,#00e916 20.5px,#00db24 37.5px,#00bd42 49.5px,#00c43b 67.5px,#00a659 87.5px,#009f60 127.5px,#00a35c 145.5px,#00c53a 189.5px,#00c13e 211.5px,#00cf30 231.5px,#00e718 251.5px,#01ff00 258.5px,#3fff00 275.5px,#53ff00 284.5px,#5cff00 293.5px,#b6ff00 321.5px,#c3ff00 329.5px,#ceff00 340.5px,#dbff00 346.5px,#f9ff00 355.5px,#fff700 358.5px,#ffcd00 367.5px,#ffbc00 375.5px,#ffa500 380.5px,#ff9800 388.5px,#ffa200 396.5px,#ff9100 413.5px,#ff9800 431.5px,#ff8900 439.5px,#ff8700 452.5px,#ff8c00 462.5px,#ff8300 471.5px,#ff7a00 479.5px,#ff8a00 487.5px,#ffc200 502.5px,#ffd000 510.5px,#fcff00 526.5px,#ccff00 543.5px,#bbff00 557.5px,#9dff00 570.5px,#5bff00 587.5px,#4dff00 596.5px,#25ff00 604.5px,#00fd02 610.5px,#00e11e 616.5px,#00de21 618.5px)"></i>
<i style="background:linear-gradient(90deg,#00e817 8.5px,#00ed12 17.5px,#00db24 38.5px,#00c03f 49.5px,#00c43b 67.5px,#00b24d 79.5px,#00a659 87.5px,#00a35c 122.5px,#00a45b 141.5px,#00ca35 188.5px,#00c738 214.5px,#00d728 235.5px,#00e718 250.5px,#01ff00 257.5px,#38ff00 271.5px,#53ff00 283.5px,#5bff00 291.5px,#80ff00 302.5px,#bdff00 321.5px,#c9ff00 334.5px,#e5ff00 346.5px,#fffe00 354.5px,#ffcd00 365.5px,#ffbc00 373.5px,#ff9800 381.5px,#ff8e00 388.5px,#ff9600 396.5px,#ff8600 408.5px,#ff8300 416.5px,#ff8800 432.5px,#ff7e00 440.5px,#ff7e00 454.5px,#ff7d00 468.5px,#ff7100 479.5px,#ff7b00 486.5px,#ffc300 504.5px,#ffd200 513.5px,#fcff00 529.5px,#cfff00 544.5px,#b2ff00 564.5px,#93ff00 574.5px,#5bff00 588.5px,#4bff00 597.5px,#29ff00 604.5px,#02ff00 610.5px,#00e21d 616.5px,#00df20 618.5px)"></i>
<i style="background:linear-gradient(90deg,#00ed12 9.5px,#00ef10 19.5px,#00d827 40.5px,#00c23d 50.5px,#00c43b 68.5px,#00ae51 81.5px,#00a659 89.5px,#00a659 121.5px,#00a758 141.5px,#00d02f 189.5px,#00cb34 213.5px,#00d926 234.5px,#00e718 249.5px,#02ff00 256.5px,#36ff00 269.5px,#52ff00 281.5px,#5dff00 290.5px,#b6ff00 316.5px,#c4ff00 323.5px,#d2ff00 336.5px,#fffd00 351.5px,#ffc900 364.5px,#ffbf00 370.5px,#ff8c00 381.5px,#ff8300 387.5px,#ff8a00 397.5px,#ff7c00 407.5px,#ff7400 412.5px,#ff7800 433.5px,#ff7000 449.5px,#ff7300 467.5px,#ff6900 481.5px,#ff7200 487.5px,#ffbe00 504.5px,#ffd700 518.5px,#fcff00 532.5px,#d4ff00 544.5px,#c4ff00 554.5px,#afff00 567.5px,#88ff00 578.5px,#5bff00 589.5px,#46ff00 599.5px,#20ff00 606.5px,#00fe01 611.5px,#00e51a 616.5px,#00e31c 617.5px)"></i>
<i style="background:linear-gradient(90deg,#00f00f 9.5px,#00f30c 18.5px,#00da25 40.5px,#00c53a 50.5px,#00c53a 68.5px,#00b04f 80.5px,#00a659 88.5px,#00aa55 115.5px,#00aa55 141.5px,#00d52a 188.5px,#00d02f 216.5px,#00e51a 247.5px,#03ff00 255.5px,#39ff00 268.5px,#53ff00 281.5px,#62ff00 290.5px,#b1ff00 312.5px,#c5ff00 321.5px,#cdff00 329.5px,#e2ff00 338.5px,#fffe00 347.5px,#ffc800 363.5px,#ffbc00 369.5px,#ff8000 381.5px,#ff7700 387.5px,#ff7e00 397.5px,#ff7400 406.5px,#ff6700 411.5px,#ff6900 434.5px,#ff6400 472.5px,#ff6400 486.5px,#ff9400 497.5px,#ffbe00 506.5px,#ffd500 520.5px,#feff00 534.5px,#d8ff00 545.5px,#c7ff00 553.5px,#b3ff00 567.5px,#92ff00 577.5px,#5cff00 590.5px,#49ff00 599.5px,#24ff00 606.5px,#00fd02 612.5px,#00e619 617.5px)"></i>
<i style="background:linear-gradient(90deg,#00f40b 9.5px,#00f609 19.5px,#00e11e 35.5px,#00d12e 45.5px,#00c738 53.5px,#00c639 69.5px,#00a659 86.5px,#00ac53 116.5px,#00ad52 140.5px,#00d926 188.5px,#00d42b 218.5px,#00e51a 246.5px,#00fe01 253.5px,#37ff00 266.5px,#4fff00 276.5px,#5cff00 286.5px,#82ff00 297.5px,#afff00 309.5px,#c5ff00 319.5px,#d3ff00 329.5px,#fffe00 344.5px,#ffd400 357.5px,#ffc900 361.5px,#ffbc00 367.5px,#ff7800 380.5px,#ff6c00 385.5px,#ff7100 400.5px,#ff6700 407.5px,#ff5b00 411.5px,#ff5b00 486.5px,#ff8500 496.5px,#ffbb00 507.5px,#ffc700 513.5px,#ffcf00 520.5px,#fff700 534.5px,#fbff00 537.5px,#ccff00 551.5px,#b5ff00 568.5px,#93ff00 578.5px,#5bff00 591.5px,#48ff00 600.5px,#15ff00 609.5px,#00fd02 613.5px,#00e916 617.5px)"></i>
<i style="background:linear-gradient(90deg,#00f807 10.5px,#00fb04 18.5px,#00e21d 35.5px,#00d02f 47.5px,#00ca35 57.5px,#00c639 70.5px,#00a758 87.5px,#00af50 115.5px,#00af50 139.5px,#00dd22 189.5px,#00d827 205.5px,#00da25 226.5px,#00e619 245.5px,#00ff00 252.5px,#39ff00 265.5px,#50ff00 275.5px,#5bff00 284.5px,#82ff00 295.5px,#b2ff00 308.5px,#c6ff00 318.5px,#d2ff00 326.5px,#fffd00 341.5px,#ffd200 354.5px,#ffcb00 358.5px,#ffc300 361.5px,#ffbb00 365.5px,#ff9100 373.5px,#ff7100 379.5px,#ff6200 385.5px,#ff6500 402.5px,#ff5b00 408.5px,#ff5100 411.5px,#ff5200 481.5px,#ff5d00 489.5px,#ff8f00 500.5px,#ffbb00 509.5px,#ffc400 514.5px,#ffd300 524.5px,#ffef00 534.5px,#fcff00 539.5px,#cfff00 552.5px,#c1ff00 563.5px,#aeff00 572.5px,#81ff00 583.5px,#58ff00 593.5px,#47ff00 601.5px,#00fe01 614.5px,#00f50a 616.5px)"></i>
<i style="background:linear-gradient(90deg,#00fb04 10.5px,#00ff00 18.5px,#00e21d 36.5px,#00d32c 47.5px,#00cd32 57.5px,#00c639 71.5px,#00a956 87.5px,#00b14e 115.5px,#00b24d 139.5px,#00e01f 188.5px,#00dd22 203.5px,#00dd22 228.5px,#00e718 244.5px,#01ff00 251.5px,#3bff00 264.5px,#50ff00 273.5px,#5cff00 283.5px,#92ff00 297.5px,#b8ff00 308.5px,#c5ff00 316.5px,#d1ff00 323.5px,#fffd00 338.5px,#ffd500 350.5px,#ffc900 356.5px,#ffb100 365.5px,#ff6a00 378.5px,#ff5a00 384.5px,#ff5800 407.5px,#ff4800 412.5px,#ff4300 433.5px,#ff4800 476.5px,#ff5400 485.5px,#ff5e00 491.5px,#ff8500 500.5px,#ffb700 510.5px,#ffc700 520.5px,#ffdd00 531.5px,#fcff00 541.5px,#d1ff00 553.5px,#c1ff00 565.5px,#adff00 574.5px,#6eff00 588.5px,#55ff00 595.5px,#4aff00 601.5px,#02ff00 615.5px,#00fe01 616.5px)"></i>
<i style="background:linear-gradient(90deg,#00fd02 10.5px,#06ff00 16.5px,#00fb04 24.5px,#00e21d 36.5px,#00d629 47.5px,#00cf30 58.5px,#00c738 72.5px,#00ac53 86.5px,#00b34c 116.5px,#00b54a 139.5px,#00e21d 187.5px,#00e01f 203.5px,#00de21 225.5px,#00e817 243.5px,#02ff00 250.5px,#3dff00 263.5px,#50ff00 271.5px,#5aff00 280.5px,#77ff00 289.5px,#b6ff00 305.5px,#c8ff00 316.5px,#d4ff00 322.5px,#fffd00 335.5px,#ffcf00 349.5px,#ffc000 358.5px,#ff9c00 367.5px,#ff6400 377.5px,#ff5300 386.5px,#ff4d00 408.5px,#ff3e00 413.5px,#ff3600 430.5px,#ff3a00 452.5px,#ff3c00 471.5px,#ff4800 482.5px,#ff5400 488.5px,#ff6100 494.5px,#ff8a00 503.5px,#ffb600 512.5px,#ffc500 520.5px,#ffd300 530.5px,#fcff00 543.5px,#d0ff00 555.5px,#c1ff00 567.5px,#aeff00 575.5px,#78ff00 587.5px,#56ff00 595.5px,#4dff00 601.5px,#09ff00 615.5px,#07ff00 616.5px)"></i>
<i style="background:linear-gradient(90deg,#00ff00 10.5px,#0aff00 12.5px,#06ff00 21.5px,#00fb04 26.5px,#00e21d 37.5px,#00d22d 57.5px,#00c837 73.5px,#00af50 86.5px,#00b649 120.5px,#00b847 139.5px,#00de21 179.5px,#00e619 199.5px,#00e01f 211.5px,#00e21d 234.5px,#00ef10 244.5px,#03ff00 249.5px,#3fff00 262.5px,#53ff00 272.5px,#58ff00 278.5px,#7aff00 288.5px,#b6ff00 303.5px,#cbff00 315.5px,#daff00 322.5px,#fffd00 332.5px,#ffca00 348.5px,#ffc100 355.5px,#ff9a00 365.5px,#ff6300 375.5px,#ff5800 379.5px,#ff5100 385.5px,#ff4500 394.5px,#ff4400 408.5px,#ff3400 414.5px,#ff2b00 430.5px,#ff3000 450.5px,#ff3000 467.5px,#ff3c00 480.5px,#ff5400 489.5px,#ff5e00 495.5px,#ff7a00 502.5px,#ffad00 512.5px,#ffc500 521.5px,#ffce00 530.5px,#ffed00 540.5px,#fcff00 545.5px,#d2ff00 556.5px,#c5ff00 563.5px,#bbff00 572.5px,#97ff00 582.5px,#5bff00 594.5px,#4bff00 602.5px,#0fff00 615.5px,#0eff00 616.5px)"></i>
<i style="background:linear-gradient(90deg,#0cff00 11.5px,#10ff00 15.5px,#07ff00 23.5px,#00fa05 28.5px,#00e41b 37.5px,#00d42b 57.5px,#00ca35 73.5px,#00b24d 87.5px,#00b847 120.5px,#00bb44 140.5px,#00df20 177.5px,#00e916 198.5px,#00e31c 210.5px,#00e11e 225.5px,#00e916 239.5px,#00ff00 247.5px,#44ff00 262.5px,#52ff00 270.5px,#5bff00 278.5px,#b9ff00 302.5px,#d5ff00 318.5px,#ffff00 329.5px,#ffcd00 344.5px,#ffbc00 355.5px,#ff5c00 375.5px,#ff5300 381.5px,#ff4900 386.5px,#ff3b00 394.5px,#ff3900 408.5px,#ff2700 418.5px,#ff2000 430.5px,#ff2600 449.5px,#ff2400 464.5px,#ff3200 479.5px,#ff5200 490.5px,#ff5500 494.5px,#ff7000 502.5px,#ffb000 515.5px,#ffc400 522.5px,#ffcf00 533.5px,#fff600 544.5px,#fbff00 547.5px,#ceff00 559.5px,#c6ff00 565.5px,#bcff00 573.5px,#a1ff00 581.5px,#5aff00 595.5px,#4aff00 603.5px,#15ff00 615.5px)"></i>
<i style="background:linear-gradient(90deg,#14ff00 11.5px,#11ff00 21.5px,#00fb04 29.5px,#00e51a 38.5px,#00d629 59.5px,#00cb34 74.5px,#00b54a 88.5px,#00bb44 121.5px,#00be41 140.5px,#00df20 174.5px,#00eb14 199.5px,#00e11e 224.5px,#00ef10 240.5px,#02ff00 246.5px,#45ff00 261.5px,#53ff00 268.5px,#5cff00 277.5px,#bbff00 301.5px,#ceff00 313.5px,#e6ff00 321.5px,#fffe00 327.5px,#ffd600 338.5px,#ffc700 346.5px,#ffb800 354.5px,#ff5b00 373.5px,#ff4900 384.5px,#ff3300 392.5px,#ff3000 404.5px,#ff2900 411.5px,#ff1600 427.5px,#ff1c00 449.5px,#ff1a00 463.5px,#ff2a00 479.5px,#ff4e00 491.5px,#ff6300 501.5px,#ffb400 518.5px,#ffc400 526.5px,#ffd100 536.5px,#feff00 548.5px,#cfff00 560.5px,#c5ff00 568.5px,#b8ff00 576.5px,#98ff00 584.5px,#5dff00 595.5px,#49ff00 604.5px,#1aff00 615.5px)"></i>
<i style="background:linear-gradient(90deg,#1aff00 11.5px,#16ff00 21.5px,#00fd02 30.5px,#00e41b 40.5px,#00ce31 74.5px,#00b946 88.5px,#00bd42 130.5px,#00c738 146.5px,#00e01f 172.5px,#00e718 187.5px,#00ee11 198.5px,#00e31c 222.5px,#00ef10 237.5px,#04ff00 245.5px,#4aff00 261.5px,#5eff00 276.5px,#baff00 299.5px,#c6ff00 306.5px,#ccff00 311.5px,#f8ff00 323.5px,#fff900 326.5px,#ffd400 336.5px,#ffbb00 350.5px,#ff9f00 357.5px,#ff5f00 370.5px,#ff5400 376.5px,#ff3e00 385.5px,#ff2a00 392.5px,#ff2600 404.5px,#ff1d00 413.5px,#ff0c00 428.5px,#ff1300 448.5px,#ff0f00 461.5px,#ff2100 479.5px,#ff4800 491.5px,#ff6400 503.5px,#ffb300 520.5px,#ffc500 529.5px,#ffcf00 537.5px,#ffef00 546.5px,#fdff00 550.5px,#ceff00 562.5px,#bcff00 576.5px,#9eff00 584.5px,#5cff00 596.5px,#48ff00 605.5px,#22ff00 615.5px)"></i>
<i style="background:linear-gradient(90deg,#1fff00 12.5px,#1cff00 21.5px,#00fc03 32.5px,#00e31c 42.5px,#00cf30 75.5px,#00bb44 90.5px,#00c03f 123.5px,#00c43b 141.5px,#00e11e 171.5px,#00e916 187.5px,#00f10e 198.5px,#00e619 221.5px,#00f00f 235.5px,#00ff00 242.5px,#4aff00 260.5px,#53ff00 266.5px,#5dff00 274.5px,#85ff00 284.5px,#b9ff00 297.5px,#c5ff00 303.5px,#d0ff00 311.5px,#fffd00 323.5px,#ffd200 334.5px,#ffc800 340.5px,#ffbe00 347.5px,#ff9900 356.5px,#ff6200 367.5px,#ff5700 371.5px,#ff4500 380.5px,#ff2100 392.5px,#ff1b00 403.5px,#ff1500 413.5px,#ff0300 428.5px,#ff0a00 447.5px,#ff0500 460.5px,#ff1600 478.5px,#ff5600 498.5px,#ff6000 504.5px,#ffaf00 521.5px,#ffc500 531.5px,#ffcf00 539.5px,#fffa00 550.5px,#fbff00 552.5px,#d0ff00 563.5px,#c5ff00 571.5px,#b8ff00 579.5px,#98ff00 586.5px,#5fff00 596.5px,#53ff00 601.5px,#44ff00 607.5px,#2eff00 614.5px)"></i>
<i style="background:linear-gradient(90deg,#23ff00 12.5px,#23ff00 20.5px,#09ff00 30.5px,#00fa05 34.5px,#00e31c 44.5px,#00d12e 76.5px,#00bf40 90.5px,#00c53a 139.5px,#00e01f 167.5px,#00e916 185.5px,#00f40b 197.5px,#00e916 223.5px,#00f906 237.5px,#06ff00 242.5px,#4eff00 260.5px,#5cff00 272.5px,#79ff00 280.5px,#abff00 291.5px,#c5ff00 301.5px,#cdff00 308.5px,#eaff00 316.5px,#fffe00 321.5px,#ffd200 332.5px,#ffc400 340.5px,#ffbe00 345.5px,#ff9300 355.5px,#ff6100 365.5px,#ff5300 372.5px,#ff4500 378.5px,#ff1a00 391.5px,#ff1000 403.5px,#ff0c00 414.5px,#fc0003 426.5px,#ff0300 466.5px,#ff0b00 477.5px,#ff3000 488.5px,#ff5300 498.5px,#ff5d00 505.5px,#ff8700 514.5px,#ffb100 524.5px,#ffc400 532.5px,#ffcf00 541.5px,#fdff00 553.5px,#d1ff00 564.5px,#c5ff00 572.5px,#b9ff00 580.5px,#98ff00 587.5px,#5eff00 597.5px,#54ff00 601.5px,#47ff00 607.5px,#35ff00 614.5px)"></i>
<i style="background:linear-gradient(90deg,#27ff00 12.5px,#2bff00 18.5px,#19ff00 27.5px,#00ff00 34.5px,#00e619 44.5px,#00d32c 77.5px,#00c23d 90.5px,#00c43b 130.5px,#00ce31 146.5px,#00e11e 166.5px,#00ea15 184.5px,#00f609 197.5px,#00ed12 223.5px,#02ff00 238.5px,#24ff00 248.5px,#4bff00 258.5px,#56ff00 266.5px,#67ff00 274.5px,#b1ff00 291.5px,#c4ff00 299.5px,#d1ff00 308.5px,#fffe00 319.5px,#ffd100 330.5px,#ffb600 345.5px,#ff8800 355.5px,#ff6100 363.5px,#ff5600 368.5px,#ff4800 375.5px,#ff1300 390.5px,#ff0600 402.5px,#ff0400 414.5px,#f90006 430.5px,#fc0003 465.5px,#ff0300 477.5px,#ff2000 486.5px,#ff5100 499.5px,#ff5d00 507.5px,#ffa600 523.5px,#ffc300 533.5px,#ffce00 542.5px,#fffe00 554.5px,#d3ff00 565.5px,#c5ff00 573.5px,#bdff00 580.5px,#a3ff00 586.5px,#5cff00 598.5px,#47ff00 608.5px,#3bff00 614.5px)"></i>
<i style="background:linear-gradient(90deg,#29ff00 12.5px,#31ff00 16.5px,#2aff00 23.5px,#00fe01 36.5px,#00ea15 44.5px,#00df20 60.5px,#00d42b 78.5px,#00c53a 93.5px,#00c738 133.5px,#00d42b 149.5px,#00e21d 168.5px,#00ec13 184.5px,#00f906 197.5px,#00f20d 223.5px,#03ff00 236.5px,#22ff00 246.5px,#4cff00 257.5px,#5fff00 270.5px,#87ff00 280.5px,#b4ff00 290.5px,#c4ff00 298.5px,#d0ff00 306.5px,#faff00 316.5px,#fffb00 318.5px,#ffd100 328.5px,#ffba00 341.5px,#ffa100 348.5px,#ff6000 361.5px,#ff5400 367.5px,#ff4800 373.5px,#ff0c00 389.5px,#fe0001 401.5px,#f90006 422.5px,#f60009 433.5px,#f80007 463.5px,#ff0200 480.5px,#ff3700 494.5px,#ff5200 501.5px,#ff5900 507.5px,#ff7a00 515.5px,#ffb400 529.5px,#ffc500 537.5px,#ffcf00 544.5px,#feff00 556.5px,#cfff00 568.5px,#c6ff00 574.5px,#beff00 581.5px,#a3ff00 587.5px,#60ff00 598.5px,#54ff00 602.5px,#3fff00 614.5px)"></i>
<i style="background:linear-gradient(90deg,#32ff00 13.5px,#37ff00 18.5px,#25ff00 27.5px,#00fd02 38.5px,#00e718 49.5px,#00d728 78.5px,#00c837 93.5px,#00cc33 139.5px,#00e11e 163.5px,#00ec13 182.5px,#00fd02 198.5px,#00f708 223.5px,#04ff00 233.5px,#1dff00 243.5px,#4cff00 256.5px,#61ff00 269.5px,#89ff00 279.5px,#b6ff00 289.5px,#c5ff00 297.5px,#cfff00 304.5px,#f3ff00 313.5px,#fffc00 316.5px,#ffce00 327.5px,#ffbc00 338.5px,#ff9600 348.5px,#ff5d00 360.5px,#ff4800 371.5px,#ff0900 387.5px,#fe0001 392.5px,#fa0005 410.5px,#f3000c 432.5px,#f5000a 462.5px,#fc0003 480.5px,#ff0600 484.5px,#ff3900 496.5px,#ff4f00 502.5px,#ff6100 511.5px,#ffb400 531.5px,#ffc600 540.5px,#ffd700 548.5px,#fcff00 558.5px,#d1ff00 569.5px,#c5ff00 577.5px,#bfff00 582.5px,#9cff00 589.5px,#5fff00 599.5px,#43ff00 613.5px)"></i>
<i style="background:linear-gradient(90deg,#38ff00 13.5px,#3dff00 17.5px,#31ff00 25.5px,#00fd02 40.5px,#00e718 52.5px,#00d926 79.5px,#00ca35 95.5px,#00cc33 127.5px,#00d22d 144.5px,#00e21d 161.5px,#00eb14 179.5px,#01ff00 197.5px,#00fd02 224.5px,#0dff00 235.5px,#32ff00 247.5px,#4fff00 256.5px,#5dff00 266.5px,#7cff00 275.5px,#b9ff00 288.5px,#c6ff00 296.5px,#cdff00 302.5px,#f6ff00 312.5px,#fff900 315.5px,#ffce00 325.5px,#ffbf00 335.5px,#ff8b00 348.5px,#ff5d00 358.5px,#ff4b00 368.5px,#ff0900 384.5px,#fe0001 388.5px,#f60009 406.5px,#f2000d 424.5px,#f1000e 460.5px,#fa0005 481.5px,#ff0500 486.5px,#ff2b00 495.5px,#ff4d00 503.5px,#ff6200 513.5px,#ffbb00 535.5px,#ffd200 548.5px,#feff00 559.5px,#d0ff00 571.5px,#c6ff00 579.5px,#bbff00 584.5px,#88ff00 593.5px,#5fff00 600.5px,#47ff00 612.5px,#46ff00 613.5px)"></i>
<i style="background:linear-gradient(90deg,#3fff00 13.5px,#3fff00 21.5px,#27ff00 30.5px,#01ff00 41.5px,#00e718 55.5px,#00db24 79.5px,#00cd32 96.5px,#00d12e 140.5px,#00e21d 160.5px,#00ef10 180.5px,#02ff00 194.5px,#02ff00 214.5px,#08ff00 228.5px,#23ff00 241.5px,#50ff00 255.5px,#5dff00 265.5px,#83ff00 275.5px,#bbff00 287.5px,#c5ff00 294.5px,#cfff00 301.5px,#f8ff00 311.5px,#fffb00 313.5px,#ffd000 323.5px,#ffc600 329.5px,#ffb900 335.5px,#ff5800 358.5px,#ff4900 367.5px,#ff0600 382.5px,#fc0003 386.5px,#f3000d 406.5px,#ef0010 427.5px,#eb0014 450.5px,#f2000d 471.5px,#f90006 483.5px,#ff0300 488.5px,#ff4c00 504.5px,#ff5700 510.5px,#ff6000 514.5px,#ffbc00 537.5px,#ffc700 544.5px,#ffd400 550.5px,#fdff00 561.5px,#d2ff00 572.5px,#c6ff00 580.5px,#bbff00 585.5px,#8dff00 593.5px,#5eff00 601.5px,#4eff00 609.5px,#48ff00 613.5px)"></i>
<i style="background:linear-gradient(90deg,#45ff00 14.5px,#43ff00 22.5px,#26ff00 32.5px,#00fe01 44.5px,#00e916 57.5px,#00db24 82.5px,#00cf30 97.5px,#00d12e 126.5px,#00d52a 143.5px,#00e31c 160.5px,#00f20d 180.5px,#03ff00 191.5px,#08ff00 206.5px,#0aff00 224.5px,#23ff00 239.5px,#51ff00 254.5px,#5bff00 263.5px,#84ff00 274.5px,#bcff00 286.5px,#c7ff00 294.5px,#d7ff00 302.5px,#fffe00 311.5px,#ffd500 320.5px,#ffc500 327.5px,#ffb900 333.5px,#ff6300 353.5px,#ff5400 359.5px,#ff4c00 364.5px,#ff2f00 371.5px,#ff0300 380.5px,#f4000b 394.5px,#eb0014 429.5px,#e70018 448.5px,#f0000f 466.5px,#f60009 483.5px,#ff0200 490.5px,#ff4e00 506.5px,#ff5b00 514.5px,#ff9000 528.5px,#ffc000 540.5px,#ffcd00 549.5px,#fffa00 561.5px,#f7ff00 564.5px,#d4ff00 573.5px,#c6ff00 581.5px,#bbff00 586.5px,#7fff00 596.5px,#5dff00 602.5px,#4dff00 611.5px,#4cff00 612.5px)"></i>
<i style="background:linear-gradient(90deg,#48ff00 14.5px,#48ff00 22.5px,#21ff00 35.5px,#00ff00 46.5px,#00eb14 59.5px,#00d728 87.5px,#00d22d 103.5px,#00d52a 141.5px,#00e51a 162.5px,#00f807 182.5px,#05ff00 190.5px,#0dff00 206.5px,#10ff00 224.5px,#29ff00 239.5px,#52ff00 253.5px,#5bff00 262.5px,#8fff00 275.5px,#c1ff00 286.5px,#d0ff00 298.5px,#f4ff00 307.5px,#fffb00 310.5px,#ffd300 319.5px,#ffba00 331.5px,#ff6500 350.5px,#ff5100 360.5px,#ff3a00 367.5px,#ff0100 378.5px,#f2000d 393.5px,#ec0014 420.5px,#e90016 428.5px,#e2001d 442.5px,#ec0013 459.5px,#f60009 486.5px,#ff0100 492.5px,#ff4d00 507.5px,#ff6500 519.5px,#ff9a00 532.5px,#ffc100 542.5px,#ffd100 552.5px,#feff00 564.5px,#d2ff00 575.5px,#c5ff00 583.5px,#b5ff00 588.5px,#5cff00 603.5px,#53ff00 607.5px,#4eff00 612.5px)"></i>
<i style="background:linear-gradient(90deg,#4aff00 14.5px,#4eff00 20.5px,#3cff00 29.5px,#08ff00 45.5px,#00fa05 51.5px,#00e31c 73.5px,#00d42b 100.5px,#00d827 143.5px,#00f708 179.5px,#05ff00 188.5px,#11ff00 203.5px,#16ff00 224.5px,#32ff00 240.5px,#53ff00 253.5px,#5cff00 261.5px,#90ff00 274.5px,#c1ff00 285.5px,#d2ff00 297.5px,#f1ff00 305.5px,#fffe00 308.5px,#ffcd00 319.5px,#ffbd00 328.5px,#ff9b00 336.5px,#ff6700 347.5px,#ff5500 356.5px,#ff4400 363.5px,#ff0100 376.5px,#f3000c 386.5px,#ec0013 404.5px,#e80017 422.5px,#de0021 442.5px,#e90017 458.5px,#f70008 489.5px,#ff0200 494.5px,#ff4700 507.5px,#ff6b00 523.5px,#ffb900 541.5px,#ffd500 555.5px,#fcff00 566.5px,#d1ff00 577.5px,#bdff00 587.5px,#98ff00 594.5px,#5aff00 604.5px,#50ff00 612.5px)"></i>
<i style="background:linear-gradient(90deg,#4bff00 14.5px,#52ff00 18.5px,#46ff00 27.5px,#02ff00 50.5px,#00e11e 80.5px,#00d629 100.5px,#00d827 125.5px,#00db24 144.5px,#00f609 176.5px,#03ff00 184.5px,#15ff00 201.5px,#1cff00 223.5px,#35ff00 239.5px,#54ff00 253.5px,#5dff00 260.5px,#8dff00 272.5px,#c1ff00 284.5px,#d1ff00 295.5px,#fffc00 307.5px,#ffcf00 317.5px,#ffb800 328.5px,#ff6600 345.5px,#ff5800 351.5px,#ff5000 358.5px,#ff2e00 366.5px,#ff0100 374.5px,#f2000d 383.5px,#e90016 405.5px,#e4001c 420.5px,#dd0022 432.5px,#dd0022 449.5px,#e80017 464.5px,#f60009 491.5px,#ff0300 496.5px,#ff4400 508.5px,#ff5700 516.5px,#ff6500 523.5px,#ff8e00 533.5px,#ffb600 542.5px,#ffc800 551.5px,#ffe900 562.5px,#ffff00 567.5px,#cfff00 579.5px,#bdff00 588.5px,#97ff00 595.5px,#5dff00 604.5px,#52ff00 609.5px,#51ff00 612.5px)"></i>
<i style="background:linear-gradient(90deg,#52ff00 15.5px,#50ff00 24.5px,#2dff00 37.5px,#06ff00 51.5px,#00fb04 57.5px,#00e11e 83.5px,#00d827 101.5px,#00da25 127.5px,#00de21 147.5px,#00fb04 177.5px,#08ff00 185.5px,#19ff00 202.5px,#23ff00 224.5px,#41ff00 242.5px,#54ff00 252.5px,#60ff00 260.5px,#a1ff00 275.5px,#c1ff00 283.5px,#d3ff00 294.5px,#fffe00 305.5px,#ffce00 316.5px,#ffb900 326.5px,#ff8c00 335.5px,#ff6200 344.5px,#ff5400 351.5px,#ff4f00 357.5px,#ff2500 366.5px,#ff0200 372.5px,#f1000e 382.5px,#e70018 404.5px,#df0020 420.5px,#d70029 443.5px,#e60019 467.5px,#f80007 494.5px,#ff0000 497.5px,#ff4100 509.5px,#ff5500 517.5px,#ff6500 525.5px,#ff8b00 534.5px,#ffb700 544.5px,#ffc700 552.5px,#ffe200 562.5px,#fdff00 569.5px,#cdff00 581.5px,#bdff00 589.5px,#96ff00 596.5px,#5cff00 605.5px,#52ff00 611.5px)"></i>
<i style="background:linear-gradient(90deg,#54ff00 15.5px,#4eff00 27.5px,#0aff00 52.5px,#00fc03 60.5px,#00e11e 83.5px,#00da25 102.5px,#00dc23 128.5px,#00e01f 148.5px,#00f50a 170.5px,#03ff00 179.5px,#1cff00 199.5px,#29ff00 224.5px,#50ff00 248.5px,#5fff00 258.5px,#8fff00 270.5px,#c1ff00 282.5px,#d5ff00 293.5px,#fffc00 304.5px,#ffd000 314.5px,#ffba00 324.5px,#ff9400 332.5px,#ff6900 340.5px,#ff5800 346.5px,#ff4900 357.5px,#ff1600 367.5px,#fe0001 371.5px,#f1000e 380.5px,#e4001b 404.5px,#db0024 419.5px,#d3002c 443.5px,#f1000e 489.5px,#ff0200 499.5px,#ff3e00 510.5px,#ff5400 517.5px,#ff5f00 525.5px,#ff8700 535.5px,#ffb800 546.5px,#ffca00 555.5px,#ffe300 564.5px,#ffff00 570.5px,#ceff00 582.5px,#bdff00 590.5px,#96ff00 597.5px,#60ff00 605.5px,#53ff00 610.5px,#52ff00 611.5px)"></i>
<i style="background:linear-gradient(90deg,#56ff00 15.5px,#4fff00 28.5px,#0eff00 53.5px,#00fd02 63.5px,#00e11e 84.5px,#00db24 103.5px,#00de21 133.5px,#00e51a 155.5px,#03ff00 177.5px,#20ff00 199.5px,#2fff00 224.5px,#5eff00 256.5px,#79ff00 264.5px,#bbff00 279.5px,#c7ff00 285.5px,#ddff00 294.5px,#fffe00 302.5px,#ffd200 312.5px,#ffbe00 322.5px,#ff9100 331.5px,#ff6a00 338.5px,#ff5800 344.5px,#ff4b00 354.5px,#ff3500 360.5px,#ff0200 369.5px,#f1000e 377.5px,#e3001d 403.5px,#d70029 417.5px,#cf0030 443.5px,#f1000e 490.5px,#fa0005 498.5px,#ff0000 500.5px,#ff4000 512.5px,#ff5300 518.5px,#ff5f00 527.5px,#ff8900 537.5px,#ffbd00 549.5px,#ffd900 563.5px,#fdff00 572.5px,#d2ff00 582.5px,#b9ff00 592.5px,#8dff00 599.5px,#5fff00 606.5px,#53ff00 610.5px,#53ff00 611.5px)"></i>
<i style="background:linear-gradient(90deg,#57ff00 16.5px,#50ff00 29.5px,#10ff00 55.5px,#00fb04 67.5px,#00e21d 84.5px,#00dd22 104.5px,#00e01f 137.5px,#00e619 154.5px,#03ff00 174.5px,#24ff00 199.5px,#35ff00 225.5px,#5fff00 255.5px,#7fff00 264.5px,#b8ff00 277.5px,#caff00 285.5px,#dfff00 293.5px,#fffc00 301.5px,#ffd000 311.5px,#ffbe00 321.5px,#ff8800 331.5px,#ff6200 338.5px,#ff5600 344.5px,#ff4900 353.5px,#ff2d00 360.5px,#ff0000 368.5px,#f2000d 375.5px,#de0021 404.5px,#d2002e 420.5px,#cc0034 443.5px,#f1000e 492.5px,#f90006 499.5px,#ff0300 502.5px,#ff4600 515.5px,#ff5300 520.5px,#ff5f00 529.5px,#ffbf00 551.5px,#ffd100 562.5px,#ffff00 573.5px,#d7ff00 582.5px,#b9ff00 593.5px,#8cff00 600.5px,#62ff00 606.5px,#54ff00 610.5px)"></i>
<i style="background:linear-gradient(90deg,#58ff00 16.5px,#50ff00 30.5px,#2aff00 46.5px,#01ff00 67.5px,#00e21d 84.5px,#00de21 104.5px,#00e31c 146.5px,#00e817 154.5px,#02ff00 171.5px,#28ff00 199.5px,#3dff00 227.5px,#61ff00 254.5px,#85ff00 264.5px,#bfff00 278.5px,#daff00 290.5px,#fffe00 299.5px,#ffcc00 311.5px,#ffbe00 320.5px,#ff8600 330.5px,#ff5f00 337.5px,#ff5400 344.5px,#ff4900 351.5px,#ff2f00 358.5px,#fe0001 367.5px,#f1000e 374.5px,#dc0023 403.5px,#ce0032 419.5px,#c80037 443.5px,#f1000e 494.5px,#fa0005 501.5px,#ff0600 504.5px,#ff4900 517.5px,#ff5500 524.5px,#ff6000 531.5px,#ffbd00 552.5px,#ffd200 564.5px,#fffe00 574.5px,#d4ff00 584.5px,#b9ff00 594.5px,#5cff00 608.5px,#56ff00 610.5px)"></i>
<i style="background:linear-gradient(90deg,#59ff00 16.5px,#52ff00 30.5px,#3aff00 42.5px,#12ff00 60.5px,#00fd02 71.5px,#00e21d 85.5px,#00e01f 107.5px,#00e51a 143.5px,#00e916 153.5px,#03ff00 169.5px,#2bff00 198.5px,#44ff00 229.5px,#61ff00 252.5px,#7eff00 261.5px,#bdff00 276.5px,#dbff00 289.5px,#fffc00 298.5px,#ffcb00 310.5px,#ffc100 318.5px,#ff9e00 325.5px,#ff6100 335.5px,#ff5700 339.5px,#ff4d00 348.5px,#ff2d00 357.5px,#ff0000 365.5px,#f1000e 373.5px,#d90027 403.5px,#c90037 420.5px,#c5003a 444.5px,#f1000e 496.5px,#ff0300 505.5px,#ff4300 517.5px,#ff5500 525.5px,#ff5b00 531.5px,#ff8d00 543.5px,#ffb800 552.5px,#ffc700 559.5px,#ffce00 564.5px,#fff700 574.5px,#f8ff00 577.5px,#cdff00 587.5px,#bdff00 594.5px,#98ff00 600.5px,#61ff00 608.5px,#5bff00 610.5px)"></i>
<i style="background:linear-gradient(90deg,#5aff00 16.5px,#5aff00 23.5px,#46ff00 39.5px,#14ff00 62.5px,#00fd02 73.5px,#00e21d 86.5px,#00e21d 111.5px,#00e916 141.5px,#00ec13 153.5px,#02ff00 166.5px,#2eff00 197.5px,#4aff00 230.5px,#5dff00 248.5px,#7bff00 259.5px,#bdff00 275.5px,#dcff00 288.5px,#ffff00 296.5px,#ffd000 307.5px,#ffc600 313.5px,#ffba00 319.5px,#ff6000 334.5px,#ff5500 338.5px,#ff4e00 346.5px,#ff2f00 355.5px,#fe0001 364.5px,#f0000f 373.5px,#d90027 400.5px,#c4003b 421.5px,#c3003d 444.5px,#e1001e 479.5px,#f1000e 497.5px,#ff0100 506.5px,#ff4000 518.5px,#ff5400 526.5px,#ff5a00 532.5px,#ff8000 542.5px,#ffb700 553.5px,#ffc500 559.5px,#ffcd00 565.5px,#fff600 575.5px,#f9ff00 578.5px,#c8ff00 589.5px,#bdff00 595.5px,#8fff00 602.5px,#67ff00 608.5px,#61ff00 610.5px)"></i>
<i style="background:linear-gradient(90deg,#5fff00 17.5px,#5dff00 24.5px,#46ff00 41.5px,#00fd02 75.5px,#00e21d 87.5px,#00e41b 116.5px,#00ec13 137.5px,#00ef10 152.5px,#03ff00 164.5px,#31ff00 197.5px,#5bff00 245.5px,#76ff00 256.5px,#bdff00 274.5px,#cfff00 283.5px,#fffd00 295.5px,#ffd300 305.5px,#ffc600 311.5px,#ffbd00 317.5px,#ff9e00 323.5px,#ff6000 333.5px,#ff5600 337.5px,#ff4a00 346.5px,#ff2d00 354.5px,#ff0100 362.5px,#ef0010 372.5px,#e1001f 390.5px,#c1003e 420.5px,#c00040 444.5px,#dd0022 478.5px,#fa0005 505.5px,#ff0400 508.5px,#ff4200 520.5px,#ff5500 529.5px,#ff6400 537.5px,#ff8d00 546.5px,#ffb900 555.5px,#ffc600 561.5px,#ffcf00 567.5px,#fff400 576.5px,#ffff00 578.5px,#caff00 589.5px,#bcff00 596.5px,#6eff00 608.5px,#69ff00 609.5px)"></i>
<i style="background:linear-gradient(90deg,#63ff00 17.5px,#62ff00 24.5px,#46ff00 43.5px,#03ff00 75.5px,#00e31c 88.5px,#00e41b 112.5px,#00ef10 135.5px,#00f30c 152.5px,#03ff00 162.5px,#34ff00 196.5px,#5bff00 243.5px,#7cff00 256.5px,#beff00 273.5px,#ceff00 282.5px,#fffc00 294.5px,#ffd400 303.5px,#ffc500 311.5px,#ffb900 317.5px,#ff9800 323.5px,#ff5f00 332.5px,#ff5500 337.5px,#ff4600 346.5px,#ff2100 355.5px,#ff0000 361.5px,#f1000e 369.5px,#d4002c 399.5px,#bd0043 422.5px,#be0041 445.5px,#da0025 478.5px,#f0000f 498.5px,#fd0002 508.5px,#ff1e00 514.5px,#ff4300 522.5px,#ff5400 531.5px,#ff6500 539.5px,#ff9100 548.5px,#ffbc00 557.5px,#ffd400 570.5px,#fffe00 579.5px,#cdff00 589.5px,#c0ff00 596.5px,#6fff00 609.5px)"></i>
<i style="background:linear-gradient(90deg,#68ff00 17.5px,#66ff00 25.5px,#53ff00 35.5px,#49ff00 43.5px,#08ff00 75.5px,#00fc03 79.5px,#00e51a 88.5px,#00e21d 105.5px,#00f30c 135.5px,#00f708 152.5px,#04ff00 160.5px,#38ff00 196.5px,#54ff00 235.5px,#64ff00 245.5px,#89ff00 258.5px,#c1ff00 273.5px,#cdff00 281.5px,#feff00 292.5px,#ffd300 302.5px,#ffc400 311.5px,#ffb400 317.5px,#ff8400 325.5px,#ff5f00 331.5px,#ff5500 336.5px,#ff3f00 347.5px,#ff0f00 357.5px,#fe0001 360.5px,#f2000d 366.5px,#d5002a 395.5px,#ba0046 422.5px,#bc0043 445.5px,#d70028 478.5px,#f0000f 499.5px,#fa0005 508.5px,#ff0000 510.5px,#ff3900 521.5px,#ff5100 530.5px,#ff5f00 539.5px,#ff8400 547.5px,#ffbb00 558.5px,#ffd300 571.5px,#fff300 578.5px,#fffe00 580.5px,#ccff00 590.5px,#beff00 597.5px,#75ff00 609.5px)"></i>
<i style="background:linear-gradient(90deg,#6dff00 18.5px,#6dff00 24.5px,#55ff00 35.5px,#44ff00 48.5px,#10ff00 74.5px,#00fb04 81.5px,#00e51a 90.5px,#00e51a 107.5px,#00f609 134.5px,#00fb04 152.5px,#08ff00 160.5px,#3aff00 195.5px,#55ff00 234.5px,#63ff00 243.5px,#93ff00 259.5px,#c1ff00 272.5px,#ccff00 280.5px,#ffff00 291.5px,#ffd100 301.5px,#ffbb00 314.5px,#ff9f00 320.5px,#ff5f00 330.5px,#ff5400 335.5px,#ff4700 343.5px,#ff2400 352.5px,#fe0001 359.5px,#f1000e 366.5px,#d90027 390.5px,#b80047 421.5px,#bc0044 447.5px,#d3002c 477.5px,#ef0010 499.5px,#f70008 508.5px,#ff0000 511.5px,#ff3a00 523.5px,#ff5300 533.5px,#ff6000 541.5px,#ff9900 552.5px,#ffbd00 560.5px,#ffd100 572.5px,#ffff00 581.5px,#cfff00 590.5px,#bdff00 598.5px,#85ff00 608.5px)"></i>
<i style="background:linear-gradient(90deg,#71ff00 18.5px,#76ff00 23.5px,#54ff00 37.5px,#40ff00 53.5px,#16ff00 74.5px,#00fd02 82.5px,#00e51a 92.5px,#00e51a 104.5px,#00fa05 135.5px,#03ff00 154.5px,#3dff00 194.5px,#5cff00 238.5px,#8eff00 256.5px,#c1ff00 271.5px,#ccff00 279.5px,#faff00 289.5px,#fff900 291.5px,#ffcd00 301.5px,#ffbd00 312.5px,#ffa500 318.5px,#ff5b00 330.5px,#ff4300 343.5px,#ff1e00 352.5px,#fe0001 358.5px,#f1000e 365.5px,#da0025 387.5px,#ba0046 416.5px,#b70049 436.5px,#c70039 468.5px,#e3001c 490.5px,#f90006 510.5px,#ff0300 513.5px,#ff3b00 525.5px,#ff5400 535.5px,#ff5b00 541.5px,#ff8100 549.5px,#ffb500 559.5px,#ffc300 565.5px,#ffd100 573.5px,#fff900 581.5px,#f9ff00 583.5px,#cfff00 591.5px,#bbff00 599.5px,#91ff00 608.5px)"></i>
<i style="background:linear-gradient(90deg,#75ff00 18.5px,#7eff00 21.5px,#75ff00 27.5px,#56ff00 37.5px,#3eff00 57.5px,#19ff00 75.5px,#00fd02 84.5px,#00e718 93.5px,#00e718 101.5px,#00fe01 136.5px,#08ff00 154.5px,#40ff00 194.5px,#54ff00 226.5px,#60ff00 238.5px,#a5ff00 261.5px,#c3ff00 271.5px,#ceff00 279.5px,#ffff00 289.5px,#ffd300 298.5px,#ffc600 304.5px,#ffba00 312.5px,#ff9a00 319.5px,#ff5c00 329.5px,#ff5000 336.5px,#ff3c00 344.5px,#ff0900 355.5px,#fe0001 357.5px,#f1000e 364.5px,#dc0023 384.5px,#bc0044 411.5px,#b4004b 432.5px,#c6003a 470.5px,#e5001a 493.5px,#f90006 511.5px,#ff0200 514.5px,#ff3800 526.5px,#ff5400 536.5px,#ff5a00 542.5px,#ff8000 550.5px,#ffb400 560.5px,#ffc500 567.5px,#ffcd00 573.5px,#ffe800 579.5px,#feff00 583.5px,#d3ff00 591.5px,#b2ff00 602.5px,#9bff00 608.5px)"></i>
<i style="background:linear-gradient(90deg,#77ff00 18.5px,#86ff00 20.5px,#80ff00 26.5px,#56ff00 38.5px,#41ff00 58.5px,#1cff00 76.5px,#00fc03 86.5px,#00e817 95.5px,#02ff00 132.5px,#0eff00 155.5px,#42ff00 193.5px,#55ff00 225.5px,#63ff00 237.5px,#b1ff00 263.5px,#c5ff00 272.5px,#ceff00 278.5px,#ffff00 288.5px,#ffcf00 298.5px,#ffb900 311.5px,#ff9500 319.5px,#ff5900 329.5px,#ff4500 340.5px,#ff1d00 350.5px,#fe0001 356.5px,#f1000e 364.5px,#d2002d 389.5px,#b90047 414.5px,#b4004c 434.5px,#c4003c 471.5px,#e0001f 491.5px,#f1000e 506.5px,#ff0100 515.5px,#ff4000 530.5px,#ff5300 537.5px,#ff5d00 544.5px,#ff9100 554.5px,#ffb700 562.5px,#ffc600 570.5px,#ffd400 576.5px,#fdff00 584.5px,#d2ff00 592.5px,#b3ff00 603.5px,#a2ff00 608.5px)"></i>
<i style="background:linear-gradient(90deg,#8aff00 19.5px,#8fff00 21.5px,#85ff00 27.5px,#57ff00 39.5px,#41ff00 61.5px,#1dff00 78.5px,#00fd02 88.5px,#00ed12 96.5px,#03ff00 128.5px,#13ff00 155.5px,#46ff00 194.5px,#5bff00 230.5px,#75ff00 242.5px,#c1ff00 268.5px,#ceff00 277.5px,#f3ff00 285.5px,#feff00 287.5px,#ffcf00 297.5px,#ffb800 310.5px,#ff9b00 317.5px,#ff5b00 328.5px,#ff4200 340.5px,#ff1d00 349.5px,#fe0001 355.5px,#f1000e 363.5px,#dc0023 381.5px,#bf0041 403.5px,#b2004d 432.5px,#c2003d 472.5px,#dd0022 491.5px,#f1000e 506.5px,#fa0005 514.5px,#ff0300 517.5px,#ff4900 534.5px,#ff5600 542.5px,#ff6900 548.5px,#ffaf00 561.5px,#ffc500 569.5px,#ffcd00 575.5px,#fff000 582.5px,#fcff00 585.5px,#d2ff00 593.5px,#b0ff00 605.5px,#aaff00 607.5px)"></i>
<i style="background:linear-gradient(90deg,#96ff00 19.5px,#93ff00 25.5px,#67ff00 36.5px,#56ff00 42.5px,#49ff00 58.5px,#2dff00 74.5px,#00fd02 90.5px,#00f20d 97.5px,#03ff00 122.5px,#19ff00 156.5px,#49ff00 194.5px,#5dff00 229.5px,#78ff00 241.5px,#bbff00 264.5px,#c6ff00 271.5px,#d1ff00 277.5px,#feff00 286.5px,#ffcf00 296.5px,#ffbb00 308.5px,#ff9b00 316.5px,#ff5d00 327.5px,#ff3f00 340.5px,#ff0f00 351.5px,#ff0000 354.5px,#f1000e 362.5px,#e0001f 377.5px,#bf0041 401.5px,#b1004e 432.5px,#c1003e 474.5px,#e0001f 494.5px,#f1000e 507.5px,#fa0005 515.5px,#ff0100 518.5px,#ff4d00 537.5px,#ff5d00 546.5px,#ff8a00 555.5px,#ffb200 563.5px,#ffc600 571.5px,#ffcd00 576.5px,#fff700 584.5px,#fbff00 586.5px,#d1ff00 594.5px,#c5ff00 599.5px,#aeff00 607.5px)"></i>
<i style="background:linear-gradient(90deg,#9fff00 19.5px,#9cff00 25.5px,#7cff00 33.5px,#5cff00 41.5px,#51ff00 52.5px,#3fff00 68.5px,#1bff00 83.5px,#00ff00 92.5px,#00f807 100.5px,#04ff00 118.5px,#20ff00 157.5px,#4bff00 194.5px,#5aff00 224.5px,#78ff00 239.5px,#baff00 262.5px,#ceff00 275.5px,#f2ff00 283.5px,#fffb00 286.5px,#ffcf00 295.5px,#ffbb00 307.5px,#ff9600 316.5px,#ff5b00 327.5px,#ff4000 339.5px,#ff0000 353.5px,#f1000e 361.5px,#e3001c 374.5px,#bf0040 398.5px,#b1004f 432.5px,#c1003f 476.5px,#f00010 506.5px,#fb0004 517.5px,#ff0300 520.5px,#ff4900 537.5px,#ff5500 543.5px,#ff6000 548.5px,#ffad00 563.5px,#ffc500 571.5px,#ffcd00 577.5px,#fffe00 586.5px,#c8ff00 597.5px,#bcff00 604.5px,#b4ff00 607.5px)"></i>
<i style="background:linear-gradient(90deg,#a7ff00 20.5px,#a3ff00 26.5px,#66ff00 40.5px,#56ff00 48.5px,#47ff00 66.5px,#25ff00 82.5px,#01ff00 95.5px,#05ff00 113.5px,#26ff00 158.5px,#4eff00 194.5px,#5cff00 222.5px,#75ff00 236.5px,#b5ff00 258.5px,#c6ff00 269.5px,#d4ff00 276.5px,#fffc00 285.5px,#ffd000 294.5px,#ffc600 300.5px,#ffb500 308.5px,#ff8c00 317.5px,#ff5a00 327.5px,#ff4100 338.5px,#ff0100 352.5px,#f1000e 361.5px,#e3001c 373.5px,#be0041 397.5px,#b00050 433.5px,#bf0040 477.5px,#f00010 507.5px,#fa0005 518.5px,#ff0500 522.5px,#ff4f00 540.5px,#ff5c00 548.5px,#ff9500 559.5px,#ffb800 567.5px,#ffc600 574.5px,#ffd200 579.5px,#ffff00 587.5px,#cbff00 597.5px,#bcff00 606.5px)"></i>
<i style="background:linear-gradient(90deg,#adff00 20.5px,#aeff00 25.5px,#88ff00 34.5px,#64ff00 43.5px,#55ff00 52.5px,#48ff00 68.5px,#29ff00 83.5px,#08ff00 95.5px,#0aff00 113.5px,#2aff00 158.5px,#4fff00 193.5px,#5bff00 219.5px,#76ff00 234.5px,#b7ff00 257.5px,#c7ff00 269.5px,#d4ff00 275.5px,#fffd00 284.5px,#ffd000 293.5px,#ffc600 299.5px,#ffb800 306.5px,#ff9200 315.5px,#ff5b00 326.5px,#ff4800 335.5px,#ff1600 347.5px,#fe0001 352.5px,#f1000e 360.5px,#e4001c 372.5px,#c00040 394.5px,#b80047 410.5px,#af0050 433.5px,#be0041 478.5px,#f00010 508.5px,#fe0001 522.5px,#ff2a00 532.5px,#ff5100 542.5px,#ff5c00 549.5px,#ff9000 559.5px,#ffb800 568.5px,#ffc600 575.5px,#ffcf00 579.5px,#ffff00 588.5px,#cdff00 597.5px,#c0ff00 606.5px)"></i>
<i style="background:linear-gradient(90deg,#b3ff00 20.5px,#b6ff00 25.5px,#9aff00 32.5px,#6cff00 43.5px,#56ff00 54.5px,#4dff00 67.5px,#36ff00 81.5px,#10ff00 95.5px,#0dff00 105.5px,#22ff00 142.5px,#51ff00 193.5px,#5bff00 216.5px,#76ff00 232.5px,#b7ff00 255.5px,#c7ff00 267.5px,#d5ff00 274.5px,#fffe00 283.5px,#ffd100 292.5px,#ffc600 297.5px,#ffbc00 304.5px,#ff9300 314.5px,#ff5c00 325.5px,#ff4700 335.5px,#ff0800 349.5px,#fc0003 352.5px,#f0000f 361.5px,#e0001f 373.5px,#be0042 394.5px,#af0051 434.5px,#bd0042 479.5px,#ef0010 509.5px,#fb0004 522.5px,#ff0300 525.5px,#ff4b00 541.5px,#ff5600 547.5px,#ff6400 552.5px,#ffa800 565.5px,#ffc200 573.5px,#ffd000 580.5px,#feff00 589.5px,#cdff00 598.5px,#c2ff00 606.5px)"></i>
<i style="background:linear-gradient(90deg,#baff00 21.5px,#bbff00 26.5px,#6fff00 45.5px,#56ff00 57.5px,#4bff00 71.5px,#3aff00 82.5px,#17ff00 95.5px,#14ff00 110.5px,#28ff00 143.5px,#52ff00 193.5px,#5bff00 213.5px,#77ff00 230.5px,#b9ff00 254.5px,#c6ff00 264.5px,#d2ff00 272.5px,#f5ff00 280.5px,#fffe00 282.5px,#ffce00 292.5px,#ffb900 304.5px,#ff9300 313.5px,#ff5e00 324.5px,#ff4c00 333.5px,#ff1300 346.5px,#ff0000 350.5px,#f1000e 359.5px,#e60019 369.5px,#be0041 392.5px,#b80048 409.5px,#ae0052 434.5px,#b80048 470.5px,#c0003f 483.5px,#ee0011 509.5px,#fa0005 523.5px,#ff0500 527.5px,#ff4e00 543.5px,#ff6000 552.5px,#ffab00 567.5px,#ffc300 575.5px,#ffcc00 580.5px,#fdff00 590.5px,#d0ff00 598.5px,#c3ff00 605.5px)"></i>
<i style="background:linear-gradient(90deg,#beff00 21.5px,#c3ff00 25.5px,#a6ff00 33.5px,#72ff00 47.5px,#5bff00 57.5px,#44ff00 80.5px,#1dff00 96.5px,#1cff00 120.5px,#48ff00 176.5px,#53ff00 195.5px,#5eff00 213.5px,#7fff00 231.5px,#baff00 252.5px,#d0ff00 270.5px,#f4ff00 279.5px,#ffff00 281.5px,#ffd300 290.5px,#ffc500 297.5px,#ffb700 304.5px,#ff8500 315.5px,#ff5f00 323.5px,#ff4a00 333.5px,#ff1400 345.5px,#fd0002 350.5px,#f1000e 359.5px,#e1001e 371.5px,#bd0043 392.5px,#ad0052 434.5px,#bc0044 481.5px,#ef0010 511.5px,#f90006 524.5px,#ff0300 528.5px,#ff4e00 544.5px,#ff5d00 552.5px,#ffab00 568.5px,#ffc100 576.5px,#ffd100 582.5px,#fdff00 591.5px,#d0ff00 599.5px,#c4ff00 605.5px)"></i>
<i style="background:linear-gradient(90deg,#c3ff00 21.5px,#c3ff00 27.5px,#72ff00 50.5px,#56ff00 64.5px,#50ff00 72.5px,#46ff00 82.5px,#24ff00 96.5px,#22ff00 122.5px,#53ff00 189.5px,#5eff00 210.5px,#82ff00 230.5px,#bcff00 251.5px,#cfff00 268.5px,#eaff00 276.5px,#ffff00 280.5px,#ffd300 289.5px,#ffc600 295.5px,#ffba00 302.5px,#ff9000 312.5px,#ff5c00 323.5px,#ff4c00 332.5px,#ff0c00 346.5px,#fe0001 349.5px,#f1000e 358.5px,#e2001d 370.5px,#bd0042 390.5px,#ac0053 434.5px,#bd0043 483.5px,#ed0012 511.5px,#fa0005 526.5px,#ff0100 529.5px,#ff4e00 545.5px,#ff5a00 552.5px,#ffa500 568.5px,#ffbd00 576.5px,#ffd100 583.5px,#fdff00 592.5px,#d0ff00 600.5px,#c5ff00 605.5px)"></i>
<i style="background:linear-gradient(90deg,#c7ff00 21.5px,#c3ff00 28.5px,#6bff00 56.5px,#5bff00 66.5px,#52ff00 75.5px,#45ff00 85.5px,#2bff00 96.5px,#26ff00 120.5px,#38ff00 144.5px,#53ff00 189.5px,#62ff00 210.5px,#88ff00 230.5px,#bcff00 249.5px,#d0ff00 267.5px,#eaff00 275.5px,#feff00 279.5px,#ffd000 289.5px,#ffb800 302.5px,#ff8200 314.5px,#ff5a00 323.5px,#ff4e00 331.5px,#ff1d00 342.5px,#fe0001 348.5px,#f0000f 359.5px,#de0021 371.5px,#bc0044 390.5px,#ae0052 424.5px,#ae0051 443.5px,#bd0043 484.5px,#e1001e 504.5px,#f1000e 517.5px,#f70008 526.5px,#ff0000 530.5px,#ff4d00 546.5px,#ff5c00 553.5px,#ffa800 570.5px,#ffd100 584.5px,#fdff00 593.5px,#ceff00 601.5px,#c6ff00 605.5px)"></i>
<i style="background:linear-gradient(90deg,#caff00 22.5px,#c1ff00 30.5px,#6bff00 60.5px,#55ff00 74.5px,#48ff00 86.5px,#30ff00 98.5px,#2cff00 122.5px,#3eff00 146.5px,#55ff00 190.5px,#65ff00 209.5px,#93ff00 232.5px,#bdff00 248.5px,#d0ff00 266.5px,#efff00 275.5px,#fffb00 279.5px,#ffcd00 289.5px,#ffbc00 300.5px,#ff9200 310.5px,#ff5e00 321.5px,#ff5500 327.5px,#ff4100 334.5px,#ff0000 347.5px,#f1000e 357.5px,#e1001e 369.5px,#bd0043 388.5px,#ab0055 435.5px,#bc0043 485.5px,#e0001f 505.5px,#f0000f 518.5px,#fa0005 529.5px,#ff0600 533.5px,#ff4900 546.5px,#ff5e00 554.5px,#ffb000 574.5px,#ffd500 586.5px,#fcff00 594.5px,#ceff00 602.5px,#c8ff00 604.5px)"></i>
<i style="background:linear-gradient(90deg,#cbff00 22.5px,#c2ff00 32.5px,#9dff00 46.5px,#6aff00 64.5px,#53ff00 79.5px,#4cff00 86.5px,#37ff00 97.5px,#31ff00 121.5px,#3dff00 141.5px,#44ff00 152.5px,#56ff00 188.5px,#6eff00 212.5px,#9eff00 234.5px,#c1ff00 248.5px,#d2ff00 265.5px,#ebff00 273.5px,#feff00 277.5px,#ffce00 288.5px,#ffc600 294.5px,#ffb600 301.5px,#ff8400 312.5px,#ff5c00 321.5px,#ff4e00 330.5px,#ff2100 340.5px,#fe0001 347.5px,#f0000f 357.5px,#e2001d 368.5px,#bd0043 387.5px,#aa0056 435.5px,#bc0044 486.5px,#ed0012 515.5px,#f90006 530.5px,#ff0000 533.5px,#ff4d00 548.5px,#ff6900 557.5px,#ffb100 576.5px,#ffd900 588.5px,#fcff00 595.5px,#cfff00 603.5px,#cdff00 604.5px)"></i>
<i style="background:linear-gradient(90deg,#ccff00 22.5px,#cbff00 28.5px,#b4ff00 41.5px,#71ff00 65.5px,#56ff00 79.5px,#4aff00 90.5px,#3eff00 97.5px,#37ff00 111.5px,#3aff00 132.5px,#48ff00 151.5px,#5dff00 195.5px,#79ff00 215.5px,#a9ff00 236.5px,#c3ff00 248.5px,#cfff00 262.5px,#e8ff00 271.5px,#feff00 276.5px,#ffce00 287.5px,#ffc600 293.5px,#ffb700 300.5px,#ff8100 312.5px,#ff5a00 321.5px,#ff4c00 330.5px,#ff1300 342.5px,#ff0000 346.5px,#f1000e 355.5px,#e60019 365.5px,#bc0044 387.5px,#a90057 435.5px,#bd0043 488.5px,#ee0011 517.5px,#f80007 531.5px,#ff0300 535.5px,#ff4800 548.5px,#ff8f00 568.5px,#ffdd00 590.5px,#fcff00 596.5px,#d5ff00 603.5px,#d3ff00 604.5px)"></i>
<i style="background:linear-gradient(90deg,#d1ff00 23.5px,#c9ff00 32.5px,#b5ff00 44.5px,#68ff00 72.5px,#57ff00 81.5px,#4cff00 91.5px,#44ff00 99.5px,#40ff00 108.5px,#3bff00 120.5px,#45ff00 141.5px,#4cff00 150.5px,#5eff00 193.5px,#82ff00 217.5px,#c3ff00 246.5px,#d0ff00 261.5px,#ecff00 271.5px,#fffc00 276.5px,#ffcb00 287.5px,#ffbe00 297.5px,#ff9600 307.5px,#ff5f00 319.5px,#ff5300 326.5px,#ff3e00 333.5px,#ff0100 345.5px,#f1000e 355.5px,#e1001e 367.5px,#bc0044 386.5px,#a80058 435.5px,#bd0042 490.5px,#ec0013 517.5px,#f80007 532.5px,#ff0100 536.5px,#ff4700 549.5px,#ff9100 570.5px,#ffd800 590.5px,#fdff00 597.5px,#dbff00 603.5px)"></i>
<i style="background:linear-gradient(90deg,#d5ff00 23.5px,#cfff00 31.5px,#b7ff00 46.5px,#5eff00 79.5px,#56ff00 87.5px,#4aff00 99.5px,#47ff00 107.5px,#40ff00 118.5px,#49ff00 141.5px,#4fff00 151.5px,#5eff00 188.5px,#77ff00 208.5px,#b9ff00 239.5px,#c5ff00 247.5px,#cfff00 259.5px,#e9ff00 269.5px,#fffc00 275.5px,#ffcc00 286.5px,#ffbc00 297.5px,#ff9300 307.5px,#ff6000 318.5px,#ff5500 324.5px,#ff4400 331.5px,#fe0001 345.5px,#f1000e 354.5px,#e4001b 365.5px,#bb0045 386.5px,#aa0055 423.5px,#a80057 441.5px,#be0041 492.5px,#eb0015 517.5px,#f70008 533.5px,#ff0000 537.5px,#ff4600 550.5px,#ff8b00 570.5px,#ffc700 586.5px,#ffdc00 592.5px,#feff00 598.5px,#e1ff00 603.5px)"></i>
<i style="background:linear-gradient(90deg,#dbff00 23.5px,#d2ff00 32.5px,#c4ff00 40.5px,#bdff00 46.5px,#7dff00 70.5px,#5dff00 83.5px,#54ff00 91.5px,#4fff00 106.5px,#46ff00 115.5px,#4dff00 142.5px,#52ff00 152.5px,#5fff00 185.5px,#79ff00 206.5px,#c5ff00 244.5px,#ceff00 257.5px,#eeff00 269.5px,#fffc00 274.5px,#ffca00 286.5px,#ffbd00 296.5px,#ff9400 306.5px,#ff5e00 318.5px,#ff4900 329.5px,#ff1500 340.5px,#ff0000 344.5px,#f1000e 353.5px,#e5001a 364.5px,#bb0044 385.5px,#a90057 424.5px,#a90057 445.5px,#bd0043 492.5px,#eb0014 519.5px,#fa0005 536.5px,#ff0400 539.5px,#ff4600 551.5px,#ff6c00 563.5px,#ffb800 582.5px,#ffc700 587.5px,#ffd700 592.5px,#ffff00 599.5px,#e7ff00 603.5px)"></i>
<i style="background:linear-gradient(90deg,#e0ff00 23.5px,#daff00 31.5px,#c8ff00 39.5px,#baff00 51.5px,#7cff00 73.5px,#61ff00 85.5px,#57ff00 95.5px,#54ff00 106.5px,#4cff00 111.5px,#50ff00 142.5px,#55ff00 157.5px,#63ff00 185.5px,#7eff00 206.5px,#c5ff00 243.5px,#cfff00 256.5px,#efff00 268.5px,#fffc00 273.5px,#ffce00 284.5px,#ffbb00 296.5px,#ff8700 308.5px,#ff5c00 318.5px,#ff4a00 328.5px,#ff1c00 338.5px,#fe0001 344.5px,#f1000e 353.5px,#e6001a 363.5px,#bb0044 384.5px,#a5005b 435.5px,#bd0043 493.5px,#ea0015 520.5px,#f90006 537.5px,#ff0300 540.5px,#ff4500 552.5px,#ff6000 560.5px,#ff7b00 569.5px,#ffc500 586.5px,#ffce00 591.5px,#fdff00 601.5px,#f2ff00 603.5px)"></i>
<i style="background:linear-gradient(90deg,#e6ff00 24.5px,#e1ff00 31.5px,#cbff00 40.5px,#bdff00 52.5px,#9bff00 66.5px,#6bff00 83.5px,#5dff00 95.5px,#59ff00 105.5px,#51ff00 111.5px,#55ff00 147.5px,#5eff00 171.5px,#72ff00 195.5px,#a9ff00 225.5px,#c5ff00 242.5px,#d4ff00 257.5px,#faff00 270.5px,#fffb00 272.5px,#ffcc00 284.5px,#ffbb00 295.5px,#ff9300 305.5px,#ff5d00 317.5px,#ff4b00 327.5px,#ff2400 336.5px,#ff0000 343.5px,#f1000e 352.5px,#e60019 362.5px,#bc0044 383.5px,#a4005c 435.5px,#be0042 495.5px,#eb0014 522.5px,#f70008 537.5px,#ff0200 541.5px,#ff4500 553.5px,#ff5c00 560.5px,#ff7200 568.5px,#ffad00 581.5px,#ffc400 586.5px,#ffce00 592.5px,#fffa00 602.5px)"></i>
<i style="background:linear-gradient(90deg,#ebff00 24.5px,#ebff00 30.5px,#c8ff00 44.5px,#bdff00 56.5px,#71ff00 84.5px,#64ff00 95.5px,#5eff00 105.5px,#57ff00 109.5px,#58ff00 148.5px,#61ff00 170.5px,#7aff00 197.5px,#c4ff00 239.5px,#d5ff00 256.5px,#ffff00 270.5px,#ffcc00 283.5px,#ffbc00 294.5px,#ff9400 304.5px,#ff5e00 316.5px,#ff4600 328.5px,#fe0001 343.5px,#f1000e 352.5px,#e5001a 362.5px,#bb0045 383.5px,#a80058 421.5px,#a4005c 441.5px,#be0042 496.5px,#eb0015 523.5px,#f60009 538.5px,#ff0200 542.5px,#ff4a00 555.5px,#ff5900 560.5px,#ff6900 567.5px,#ff9e00 579.5px,#ffc100 586.5px,#ffd100 594.5px,#fff000 602.5px)"></i>
<i style="background:linear-gradient(90deg,#f0ff00 24.5px,#f5ff00 28.5px,#e6ff00 35.5px,#ccff00 45.5px,#bcff00 59.5px,#78ff00 85.5px,#6bff00 96.5px,#61ff00 106.5px,#5dff00 114.5px,#5aff00 147.5px,#5fff00 159.5px,#76ff00 190.5px,#a2ff00 216.5px,#c5ff00 238.5px,#d6ff00 255.5px,#ffff00 269.5px,#ffca00 283.5px,#ffbd00 293.5px,#ff9100 304.5px,#ff5f00 315.5px,#ff4700 327.5px,#ff1400 338.5px,#ff0000 342.5px,#f1000e 351.5px,#e60019 361.5px,#bb0045 382.5px,#a90057 418.5px,#a2005e 438.5px,#bd0042 497.5px,#ea0015 524.5px,#f80007 540.5px,#ff0200 543.5px,#ff4a00 556.5px,#ff5700 560.5px,#ff6500 567.5px,#ff8f00 577.5px,#ffbe00 586.5px,#ffd100 595.5px,#ffe900 602.5px)"></i>
<i style="background:linear-gradient(90deg,#f9ff00 25.5px,#fdff00 29.5px,#e8ff00 37.5px,#cfff00 46.5px,#c7ff00 54.5px,#b8ff00 64.5px,#81ff00 85.5px,#72ff00 96.5px,#67ff00 106.5px,#62ff00 121.5px,#5fff00 148.5px,#6bff00 172.5px,#85ff00 197.5px,#bfff00 231.5px,#d7ff00 254.5px,#fffe00 268.5px,#ffcb00 282.5px,#ffbd00 292.5px,#ff9c00 301.5px,#ff5d00 315.5px,#ff4500 327.5px,#fe0001 342.5px,#f1000e 351.5px,#e5001a 361.5px,#bb0044 381.5px,#a90057 416.5px,#a1005f 438.5px,#bd0042 498.5px,#eb0014 526.5px,#f80007 541.5px,#ff0100 544.5px,#ff4b00 557.5px,#ff6700 569.5px,#ff9500 579.5px,#ffc200 588.5px,#ffd000 596.5px,#ffe100 601.5px)"></i>
<i style="background:linear-gradient(90deg,#fffd00 25.5px,#fff700 28.5px,#fcff00 34.5px,#d3ff00 47.5px,#c5ff00 57.5px,#bdff00 64.5px,#82ff00 89.5px,#69ff00 112.5px,#63ff00 148.5px,#72ff00 175.5px,#8fff00 200.5px,#bdff00 227.5px,#d7ff00 252.5px,#f6ff00 264.5px,#fffa00 268.5px,#ffc900 282.5px,#ffbc00 292.5px,#ff8b00 304.5px,#ff5f00 314.5px,#ff4600 326.5px,#ff1800 336.5px,#ff0000 341.5px,#f1000e 350.5px,#e60019 360.5px,#bc0044 380.5px,#a5005b 421.5px,#a0005f 440.5px,#b90047 494.5px,#cb0034 508.5px,#ec0013 528.5px,#f80007 542.5px,#ff0100 545.5px,#ff4c00 558.5px,#ff5600 563.5px,#ff6a00 571.5px,#ff8f00 579.5px,#ffbf00 588.5px,#ffd300 598.5px,#ffdd00 601.5px)"></i>
<i style="background:linear-gradient(90deg,#fff400 25.5px,#ffee00 28.5px,#fffc00 35.5px,#d0ff00 51.5px,#beff00 66.5px,#87ff00 91.5px,#70ff00 112.5px,#67ff00 147.5px,#76ff00 174.5px,#96ff00 201.5px,#bfff00 226.5px,#d8ff00 251.5px,#faff00 264.5px,#fff600 268.5px,#ffca00 281.5px,#ffbc00 291.5px,#ff9b00 300.5px,#ff6000 313.5px,#ff5500 319.5px,#ff4100 327.5px,#ff0200 340.5px,#f1000e 350.5px,#e5001a 360.5px,#bb0045 380.5px,#a90057 414.5px,#9e0061 435.5px,#ae0052 468.5px,#bf0041 502.5px,#ec0013 529.5px,#f80007 543.5px,#ff0200 546.5px,#ff4d00 559.5px,#ff6300 570.5px,#ff8400 578.5px,#ffbb00 588.5px,#ffc700 594.5px,#ffd700 601.5px)"></i>
<i style="background:linear-gradient(90deg,#ffe900 25.5px,#ffe900 32.5px,#fdff00 39.5px,#d6ff00 51.5px,#c5ff00 63.5px,#abff00 78.5px,#8aff00 95.5px,#76ff00 113.5px,#6cff00 147.5px,#7bff00 174.5px,#9dff00 202.5px,#c1ff00 225.5px,#d6ff00 248.5px,#f4ff00 261.5px,#fffd00 265.5px,#ffcb00 280.5px,#ffba00 291.5px,#ff8a00 303.5px,#ff5f00 313.5px,#ff4600 325.5px,#ff0e00 337.5px,#ff0000 340.5px,#f1000e 349.5px,#e60019 359.5px,#bb0044 379.5px,#a90057 412.5px,#9d0063 436.5px,#b90047 495.5px,#c5003a 507.5px,#ed0012 531.5px,#f80007 544.5px,#ff0200 547.5px,#ff4900 559.5px,#ff5400 563.5px,#ff6200 571.5px,#ff8400 579.5px,#ffbb00 589.5px,#ffc700 595.5px,#ffcf00 601.5px)"></i>
<i style="background:linear-gradient(90deg,#ffe000 26.5px,#ffe000 32.5px,#feff00 41.5px,#d5ff00 54.5px,#c7ff00 64.5px,#b2ff00 78.5px,#8fff00 97.5px,#7bff00 117.5px,#72ff00 149.5px,#80ff00 173.5px,#a2ff00 202.5px,#c3ff00 224.5px,#d7ff00 247.5px,#f8ff00 261.5px,#fff900 265.5px,#ffcb00 279.5px,#ffbb00 290.5px,#ff8700 303.5px,#ff5d00 313.5px,#ff4400 325.5px,#ff0b00 337.5px,#fd0002 340.5px,#f1000e 349.5px,#e5001a 359.5px,#bb0045 379.5px,#a90057 411.5px,#9c0064 435.5px,#ad0053 469.5px,#be0041 504.5px,#ec0013 531.5px,#f80007 545.5px,#ff0300 548.5px,#ff4a00 560.5px,#ff5600 566.5px,#ff6700 574.5px,#ff9000 582.5px,#ffbb00 590.5px,#ffc600 595.5px,#ffcb00 600.5px)"></i>
<i style="background:linear-gradient(90deg,#ffda00 26.5px,#ffd600 31.5px,#ffef00 39.5px,#ffff00 43.5px,#d5ff00 57.5px,#c4ff00 70.5px,#a1ff00 90.5px,#83ff00 114.5px,#77ff00 148.5px,#85ff00 173.5px,#adff00 206.5px,#c5ff00 224.5px,#d7ff00 245.5px,#f6ff00 259.5px,#fffc00 263.5px,#ffca00 279.5px,#ffb900 290.5px,#ff8900 302.5px,#ff5e00 312.5px,#ff4500 324.5px,#ff1800 334.5px,#ff0000 339.5px,#f1000e 348.5px,#e70019 358.5px,#bb0044 378.5px,#a80058 411.5px,#9b0065 435.5px,#a6005a 460.5px,#b80048 494.5px,#c00040 506.5px,#ec0013 532.5px,#f70008 545.5px,#ff0400 549.5px,#ff4b00 561.5px,#ff5700 568.5px,#ff6300 574.5px,#ff8900 582.5px,#ffbb00 591.5px,#ffc600 596.5px,#ffc900 600.5px)"></i>
<i style="background:linear-gradient(90deg,#ffd600 26.5px,#ffcf00 29.5px,#ffd500 34.5px,#fdff00 46.5px,#d4ff00 60.5px,#c5ff00 72.5px,#aaff00 89.5px,#8cff00 111.5px,#7cff00 148.5px,#8bff00 174.5px,#baff00 212.5px,#c6ff00 225.5px,#daff00 245.5px,#faff00 259.5px,#fff500 264.5px,#ffc800 279.5px,#ffba00 289.5px,#ff8600 302.5px,#ff5a00 313.5px,#ff4700 323.5px,#ff1100 335.5px,#fe0001 339.5px,#f1000e 347.5px,#e80018 357.5px,#bb0045 378.5px,#a90057 409.5px,#9a0066 433.5px,#a2005e 456.5px,#b80048 493.5px,#bd0043 505.5px,#ed0012 534.5px,#f70008 546.5px,#ff0000 549.5px,#ff4700 561.5px,#ff5400 566.5px,#ff5f00 574.5px,#ff8300 582.5px,#ffbb00 592.5px,#ffc700 598.5px,#ffc800 600.5px)"></i>
<i style="background:linear-gradient(90deg,#ffcd00 27.5px,#ffc900 31.5px,#ffde00 39.5px,#ffff00 48.5px,#d6ff00 62.5px,#c5ff00 73.5px,#baff00 84.5px,#96ff00 108.5px,#84ff00 138.5px,#85ff00 157.5px,#99ff00 182.5px,#c5ff00 220.5px,#d1ff00 236.5px,#ebff00 252.5px,#fffd00 260.5px,#ffcb00 277.5px,#ffbb00 288.5px,#ff9600 298.5px,#ff5e00 311.5px,#ff4500 323.5px,#ff1400 334.5px,#ff0000 338.5px,#f1000e 347.5px,#e5001a 358.5px,#bb0044 377.5px,#a80058 409.5px,#980068 434.5px,#a70059 464.5px,#b80048 496.5px,#bf0040 508.5px,#ec0013 534.5px,#f5000a 546.5px,#ff0100 550.5px,#ff4700 562.5px,#ff5500 569.5px,#ff5e00 575.5px,#ff7d00 582.5px,#ffb600 592.5px,#ffc700 598.5px,#ffc800 599.5px)"></i>
<i style="background:linear-gradient(90deg,#ffc800 27.5px,#ffc800 33.5px,#ffec00 45.5px,#fdff00 51.5px,#d3ff00 66.5px,#c7ff00 74.5px,#b6ff00 90.5px,#9aff00 111.5px,#8bff00 135.5px,#89ff00 153.5px,#99ff00 177.5px,#c6ff00 220.5px,#d1ff00 235.5px,#f1ff00 253.5px,#fffd00 259.5px,#ffc900 277.5px,#ffbc00 287.5px,#ff9300 298.5px,#ff6000 310.5px,#ff4000 324.5px,#fe0001 338.5px,#f1000e 347.5px,#e4001b 358.5px,#bb0045 377.5px,#a90057 407.5px,#970069 434.5px,#a1005f 457.5px,#b70048 495.5px,#bd0043 507.5px,#ed0012 536.5px,#f60009 547.5px,#ff0200 551.5px,#ff4200 562.5px,#ff5200 568.5px,#ff5e00 576.5px,#ff7700 582.5px,#ffb500 593.5px,#ffc700 599.5px)"></i>
<i style="background:linear-gradient(90deg,#ffc400 27.5px,#ffcc00 37.5px,#ffff00 53.5px,#d1ff00 69.5px,#c4ff00 82.5px,#9aff00 117.5px,#8dff00 149.5px,#9bff00 174.5px,#c6ff00 218.5px,#d0ff00 232.5px,#eeff00 250.5px,#fffc00 258.5px,#ffcc00 275.5px,#ffba00 287.5px,#ff9500 297.5px,#ff6100 309.5px,#ff4500 322.5px,#ff0f00 334.5px,#ff0000 337.5px,#f1000e 346.5px,#e5001a 357.5px,#bc0044 376.5px,#a80058 407.5px,#96006a 433.5px,#9e0062 455.5px,#b70048 495.5px,#bd0043 508.5px,#ed0012 537.5px,#f90006 549.5px,#ff0300 552.5px,#ff3e00 562.5px,#ff5400 570.5px,#ff5f00 578.5px,#ff8800 586.5px,#ffb800 595.5px,#ffc500 599.5px)"></i>
<i style="background:linear-gradient(90deg,#ffc100 27.5px,#ffce00 40.5px,#fdff00 56.5px,#cfff00 72.5px,#c6ff00 82.5px,#b7ff00 96.5px,#98ff00 128.5px,#93ff00 152.5px,#a5ff00 179.5px,#c6ff00 216.5px,#d0ff00 231.5px,#f3ff00 251.5px,#fffb00 257.5px,#ffca00 275.5px,#ffbc00 286.5px,#ff8e00 298.5px,#ff5c00 310.5px,#ff4300 322.5px,#ff1700 332.5px,#fe0001 337.5px,#f1000e 346.5px,#e60019 356.5px,#ba0046 377.5px,#ac0054 402.5px,#95006b 432.5px,#9c0064 454.5px,#b70049 494.5px,#bd0043 509.5px,#ec0013 537.5px,#f90006 550.5px,#ff0400 553.5px,#ff3d00 563.5px,#ff5200 570.5px,#ff5e00 579.5px,#ff8d00 588.5px,#ffb500 596.5px,#ffbf00 599.5px)"></i>
<i style="background:linear-gradient(90deg,#ffc100 28.5px,#ffcc00 41.5px,#feff00 58.5px,#d2ff00 73.5px,#c5ff00 86.5px,#9dff00 129.5px,#99ff00 154.5px,#abff00 180.5px,#c5ff00 212.5px,#cfff00 228.5px,#f2ff00 249.5px,#fffd00 255.5px,#ffca00 274.5px,#ffbd00 285.5px,#ff9000 297.5px,#ff5e00 309.5px,#ff4500 321.5px,#ff1a00 331.5px,#ff0100 336.5px,#f1000e 345.5px,#e5001a 356.5px,#bb0045 376.5px,#a90057 404.5px,#93006d 433.5px,#9c0064 455.5px,#b70049 496.5px,#bd0042 510.5px,#ec0013 538.5px,#f70008 550.5px,#ff0000 553.5px,#ff3d00 564.5px,#ff5100 571.5px,#ff5d00 580.5px,#ffab00 595.5px,#ffb300 598.5px)"></i>
<i style="background:linear-gradient(90deg,#ffc000 28.5px,#ffc900 41.5px,#ffe700 53.5px,#fbff00 61.5px,#d5ff00 74.5px,#c7ff00 86.5px,#a3ff00 128.5px,#9eff00 154.5px,#b0ff00 180.5px,#c6ff00 211.5px,#ceff00 226.5px,#f3ff00 248.5px,#fffc00 254.5px,#ffc900 274.5px,#ffbe00 284.5px,#ff9a00 294.5px,#ff5c00 309.5px,#ff4400 321.5px,#ff0500 335.5px,#fd0002 337.5px,#f1000e 345.5px,#e60019 355.5px,#ba0045 376.5px,#aa0055 402.5px,#92006e 432.5px,#9a0066 454.5px,#b70049 496.5px,#bd0042 511.5px,#ed0013 539.5px,#fa0005 552.5px,#ff0100 554.5px,#ff3800 564.5px,#ff5000 572.5px,#ff5d00 581.5px,#ffa700 596.5px,#ffac00 598.5px)"></i>
<i style="background:linear-gradient(90deg,#ffbf00 28.5px,#ffc600 41.5px,#ffda00 51.5px,#ffff00 62.5px,#d6ff00 76.5px,#c6ff00 90.5px,#b3ff00 115.5px,#a8ff00 129.5px,#a3ff00 153.5px,#b1ff00 176.5px,#c5ff00 207.5px,#cdff00 224.5px,#f4ff00 247.5px,#fffb00 253.5px,#ffc900 273.5px,#ffbf00 283.5px,#ff9c00 293.5px,#ff5e00 308.5px,#ff4600 320.5px,#ff1200 332.5px,#fe0001 336.5px,#f1000e 345.5px,#e1001e 357.5px,#ba0046 376.5px,#aa0055 401.5px,#91006f 432.5px,#970069 451.5px,#b70049 497.5px,#bf0041 513.5px,#ee0011 541.5px,#f80007 552.5px,#ff0200 555.5px,#ff3800 565.5px,#ff4f00 573.5px,#ff5d00 582.5px,#ffa000 596.5px,#ffa500 598.5px)"></i>
<i style="background:linear-gradient(90deg,#ffbd00 29.5px,#ffc600 44.5px,#ffdf00 55.5px,#ffff00 64.5px,#dcff00 76.5px,#c7ff00 90.5px,#b9ff00 114.5px,#adff00 128.5px,#a8ff00 153.5px,#b8ff00 180.5px,#c6ff00 208.5px,#cfff00 224.5px,#f5ff00 246.5px,#fffd00 251.5px,#ffcb00 271.5px,#ffbe00 283.5px,#ff9600 294.5px,#ff5c00 308.5px,#ff4800 319.5px,#ff1f00 329.5px,#fd0002 336.5px,#f1000e 344.5px,#e5001b 355.5px,#bb0045 375.5px,#a90057 402.5px,#900070 431.5px,#95006b 450.5px,#b60049 497.5px,#bf0041 514.5px,#ed0012 541.5px,#f90006 553.5px,#ff0300 556.5px,#ff3800 566.5px,#ff4f00 574.5px,#ff5d00 583.5px,#ff9d00 597.5px)"></i>
<i style="background:linear-gradient(90deg,#ffbb00 29.5px,#ffc200 42.5px,#ffd600 54.5px,#ffff00 66.5px,#d9ff00 80.5px,#caff00 92.5px,#bdff00 114.5px,#b2ff00 127.5px,#adff00 154.5px,#bbff00 179.5px,#c7ff00 208.5px,#d1ff00 224.5px,#fdff00 248.5px,#ffca00 271.5px,#ffbf00 282.5px,#ff9800 293.5px,#ff5e00 307.5px,#ff4a00 318.5px,#ff1e00 329.5px,#ff0000 335.5px,#f0000f 345.5px,#e2001e 356.5px,#ba0045 375.5px,#ab0055 399.5px,#8f0071 431.5px,#93006d 449.5px,#b5004a 496.5px,#be0042 514.5px,#ed0012 542.5px,#f70008 553.5px,#ff0000 556.5px,#ff3b00 568.5px,#ff5300 577.5px,#ff5a00 583.5px,#ff9800 597.5px)"></i>
<i style="background:linear-gradient(90deg,#ffb900 29.5px,#ffbd00 41.5px,#ffd300 55.5px,#ffff00 68.5px,#d8ff00 83.5px,#c7ff00 100.5px,#beff00 116.5px,#b6ff00 132.5px,#b2ff00 155.5px,#c0ff00 182.5px,#ceff00 219.5px,#edff00 239.5px,#fffd00 248.5px,#ffca00 270.5px,#ffbd00 282.5px,#ff9600 293.5px,#ff6000 306.5px,#ff5400 313.5px,#ff4300 320.5px,#ff0000 335.5px,#f1000f 344.5px,#e1001e 356.5px,#bb0044 374.5px,#a90057 401.5px,#8d0073 432.5px,#94006c 452.5px,#b6004a 497.5px,#be0042 515.5px,#ee0011 543.5px,#f60009 553.5px,#ff0100 557.5px,#ff3b00 569.5px,#ff5300 578.5px,#ff5a00 584.5px,#ff8f00 597.5px)"></i>
<i style="background:linear-gradient(90deg,#ffb500 29.5px,#ffb800 40.5px,#ffc700 50.5px,#ffd700 58.5px,#fdff00 71.5px,#daff00 85.5px,#c5ff00 107.5px,#bfff00 118.5px,#b7ff00 143.5px,#baff00 169.5px,#c5ff00 192.5px,#d0ff00 219.5px,#f0ff00 239.5px,#fffd00 247.5px,#ffca00 269.5px,#ffbe00 281.5px,#ff9800 292.5px,#ff5e00 306.5px,#ff4900 318.5px,#ff1600 330.5px,#fe0001 335.5px,#f0000f 345.5px,#dc0023 358.5px,#ba0046 375.5px,#ac0054 397.5px,#8c0074 432.5px,#92006e 451.5px,#b5004a 497.5px,#bd0043 515.5px,#ee0011 544.5px,#f90006 555.5px,#ff0200 558.5px,#ff3b00 570.5px,#ff5100 578.5px,#ff5c00 586.5px,#ff8000 596.5px,#ff8100 597.5px)"></i>
<i style="background:linear-gradient(90deg,#ffb200 30.5px,#ffb300 39.5px,#ffc500 49.5px,#ffcf00 57.5px,#feff00 73.5px,#daff00 88.5px,#c7ff00 109.5px,#bfff00 133.5px,#bbff00 143.5px,#beff00 171.5px,#c6ff00 191.5px,#d1ff00 218.5px,#f1ff00 238.5px,#fffc00 246.5px,#ffca00 268.5px,#ffbd00 281.5px,#ff9600 292.5px,#ff6000 305.5px,#ff4800 318.5px,#ff1500 330.5px,#fe0001 335.5px,#ef0010 345.5px,#d90026 359.5px,#ba0046 375.5px,#ab0055 398.5px,#8b0075 431.5px,#91006f 451.5px,#b5004b 497.5px,#be0041 517.5px,#ec0013 543.5px,#f90006 556.5px,#ff0300 559.5px,#ff3b00 571.5px,#ff5000 579.5px,#ff5f00 588.5px,#ff7700 596.5px)"></i>
<i style="background:linear-gradient(90deg,#ffaf00 30.5px,#ffac00 37.5px,#ffc400 50.5px,#ffcb00 57.5px,#fcff00 76.5px,#ddff00 90.5px,#c6ff00 113.5px,#c1ff00 141.5px,#beff00 156.5px,#d0ff00 215.5px,#eeff00 235.5px,#fffd00 244.5px,#ffca00 267.5px,#ffbe00 280.5px,#ff9800 291.5px,#ff5c00 306.5px,#ff4a00 317.5px,#ff1900 329.5px,#ff0100 334.5px,#ef0010 344.5px,#db0025 358.5px,#b90046 375.5px,#ab0055 397.5px,#8a0076 431.5px,#900070 451.5px,#b5004b 498.5px,#bd0042 517.5px,#ee0011 545.5px,#fa0005 557.5px,#ff0400 560.5px,#ff3f00 573.5px,#ff5300 582.5px,#ff5f00 589.5px,#ff7100 596.5px)"></i>
<i style="background:linear-gradient(90deg,#ffad00 30.5px,#ffa600 34.5px,#ffaf00 42.5px,#ffc500 52.5px,#ffcd00 59.5px,#fdff00 78.5px,#dbff00 95.5px,#c7ff00 115.5px,#c6ff00 140.5px,#c1ff00 150.5px,#cdff00 207.5px,#e0ff00 226.5px,#fffd00 243.5px,#ffca00 266.5px,#ffc000 278.5px,#ffa600 287.5px,#ff5d00 305.5px,#ff4c00 316.5px,#ff1c00 328.5px,#ff0000 334.5px,#ed0012 346.5px,#d6002a 360.5px,#ba0045 374.5px,#aa0056 398.5px,#890077 432.5px,#8e0072 450.5px,#b4004b 498.5px,#be0042 518.5px,#ee0011 546.5px,#f80007 557.5px,#ff0000 560.5px,#ff3f00 574.5px,#ff5400 583.5px,#ff5c00 589.5px,#ff6c00 596.5px)"></i>
<i style="background:linear-gradient(90deg,#ffa500 31.5px,#ffa000 35.5px,#ffad00 43.5px,#ffc300 53.5px,#ffd600 65.5px,#feff00 80.5px,#ddff00 97.5px,#cbff00 115.5px,#c9ff00 139.5px,#c4ff00 149.5px,#cbff00 197.5px,#daff00 220.5px,#fffc00 242.5px,#ffca00 265.5px,#ffbf00 278.5px,#ffa000 288.5px,#ff5c00 305.5px,#ff4b00 316.5px,#ff2000 327.5px,#ff0000 334.5px,#ef0011 344.5px,#d90026 358.5px,#ba0046 374.5px,#ab0054 396.5px,#880078 432.5px,#8d0073 450.5px,#b5004b 499.5px,#bd0043 518.5px,#ed0012 546.5px,#fb0004 559.5px,#ff0600 562.5px,#ff3f00 575.5px,#ff5400 584.5px,#ff5e00 591.5px,#ff6700 595.5px)"></i>
<i style="background:linear-gradient(90deg,#ff9f00 31.5px,#ff9c00 37.5px,#ffb000 46.5px,#ffc500 56.5px,#ffd600 67.5px,#fdff00 83.5px,#d9ff00 103.5px,#ceff00 117.5px,#cdff00 138.5px,#c7ff00 150.5px,#cbff00 191.5px,#daff00 218.5px,#fffd00 240.5px,#ffc900 265.5px,#ffbe00 278.5px,#ff9600 290.5px,#ff5b00 305.5px,#ff4a00 316.5px,#ff1600 329.5px,#fe0001 334.5px,#d70029 359.5px,#ba0046 374.5px,#ac0054 395.5px,#880078 431.5px,#8b0075 448.5px,#b5004a 501.5px,#bd0043 519.5px,#ee0011 547.5px,#f90006 559.5px,#ff0200 562.5px,#ff3f00 576.5px,#ff5300 584.5px,#ff6300 595.5px)"></i>
<i style="background:linear-gradient(90deg,#ff9800 31.5px,#ff9800 39.5px,#ffc100 55.5px,#ffd600 69.5px,#fcff00 86.5px,#d8ff00 108.5px,#d3ff00 118.5px,#d0ff00 138.5px,#cbff00 148.5px,#c8ff00 164.5px,#d4ff00 208.5px,#eaff00 227.5px,#fffc00 239.5px,#ffca00 263.5px,#ffbe00 277.5px,#ffa000 287.5px,#ff5d00 304.5px,#ff5500 310.5px,#ff4000 319.5px,#fe0001 334.5px,#d60029 359.5px,#ba0046 374.5px,#ac0054 395.5px,#890077 428.5px,#890077 446.5px,#b5004a 502.5px,#bd0042 520.5px,#ed0012 547.5px,#fa0005 560.5px,#ff0300 563.5px,#ff4000 577.5px,#ff5400 585.5px,#ff6100 595.5px)"></i>
<i style="background:linear-gradient(90deg,#ff9200 31.5px,#ff9000 38.5px,#ffb100 50.5px,#ffc500 60.5px,#ffd300 70.5px,#feff00 88.5px,#daff00 110.5px,#d4ff00 137.5px,#c9ff00 162.5px,#d5ff00 206.5px,#e8ff00 224.5px,#fffc00 238.5px,#ffca00 262.5px,#ffbd00 277.5px,#ff9a00 288.5px,#ff5f00 303.5px,#ff5300 311.5px,#ff3b00 320.5px,#fe0001 334.5px,#d6002a 359.5px,#b90046 374.5px,#ad0053 394.5px,#8a0076 426.5px,#86007a 443.5px,#b5004b 502.5px,#be0042 521.5px,#ec0013 547.5px,#f90007 560.5px,#ff0400 564.5px,#ff4400 579.5px,#ff5500 587.5px,#ff5f00 595.5px)"></i>
<i style="background:linear-gradient(90deg,#ff8d00 32.5px,#ff8800 37.5px,#ff9b00 45.5px,#ffbc00 57.5px,#ffda00 75.5px,#feff00 91.5px,#ddff00 112.5px,#d8ff00 137.5px,#cbff00 163.5px,#d7ff00 206.5px,#eeff00 226.5px,#fffd00 236.5px,#ffc900 262.5px,#ffbe00 276.5px,#ff9c00 287.5px,#ff5e00 303.5px,#ff4700 316.5px,#ff0b00 331.5px,#fe0001 334.5px,#d1002e 361.5px,#b90047 375.5px,#ae0052 393.5px,#8b0075 424.5px,#85007b 443.5px,#b6004a 504.5px,#be0041 522.5px,#ed0012 548.5px,#fb0004 562.5px,#ff0500 565.5px,#ff4100 579.5px,#ff5500 587.5px,#ff5b00 594.5px)"></i>
<i style="background:linear-gradient(90deg,#ff8a00 32.5px,#ff8100 35.5px,#ff8800 41.5px,#ffbd00 59.5px,#ffd700 76.5px,#feff00 94.5px,#e2ff00 112.5px,#dcff00 136.5px,#cdff00 162.5px,#d8ff00 203.5px,#efff00 225.5px,#fffc00 235.5px,#ffc900 261.5px,#ffbe00 275.5px,#ff9a00 287.5px,#ff5d00 303.5px,#ff4900 315.5px,#ff1c00 327.5px,#fe0001 334.5px,#d1002e 361.5px,#b90047 375.5px,#ad0052 393.5px,#8c0074 422.5px,#84007c 442.5px,#b6004a 505.5px,#bd0042 522.5px,#ec0013 548.5px,#fa0005 562.5px,#ff0600 566.5px,#ff4200 580.5px,#ff5500 588.5px,#ff5a00 594.5px)"></i>
<i style="background:linear-gradient(90deg,#ff8800 32.5px,#ff7900 34.5px,#ff8100 41.5px,#ffc000 62.5px,#ffd600 78.5px,#feff00 97.5px,#e6ff00 114.5px,#dfff00 137.5px,#d0ff00 163.5px,#daff00 203.5px,#efff00 223.5px,#fffd00 233.5px,#ffc900 260.5px,#ffc000 273.5px,#ffa700 283.5px,#ff5c00 303.5px,#ff4800 315.5px,#ff1700 328.5px,#fe0001 334.5px,#d3002c 360.5px,#ba0046 374.5px,#ad0052 393.5px,#8f0071 418.5px,#83007d 442.5px,#b5004a 505.5px,#be0042 523.5px,#ee0011 550.5px,#f80007 562.5px,#ff0300 566.5px,#ff4600 582.5px,#ff5700 591.5px,#ff5900 594.5px)"></i>
<i style="background:linear-gradient(90deg,#ff7600 33.5px,#ff7300 36.5px,#ff8300 44.5px,#ffbf00 63.5px,#ffd400 79.5px,#ffff00 100.5px,#ebff00 115.5px,#e2ff00 138.5px,#d3ff00 163.5px,#dbff00 200.5px,#f2ff00 223.5px,#fffb00 233.5px,#ffc900 259.5px,#ffbf00 273.5px,#ffa500 283.5px,#ff5b00 303.5px,#ff4700 315.5px,#ff1200 329.5px,#fd0002 334.5px,#d3002c 360.5px,#ba0046 374.5px,#ae0051 392.5px,#8d0073 420.5px,#83007d 442.5px,#b6004a 506.5px,#bd0042 523.5px,#ed0012 550.5px,#fb0004 564.5px,#ff0400 567.5px,#ff4600 583.5px,#ff5600 591.5px,#ff5800 593.5px)"></i>
<i style="background:linear-gradient(90deg,#ff6d00 33.5px,#ff6f00 39.5px,#ff9400 51.5px,#ffc100 66.5px,#ffd200 80.5px,#fdff00 104.5px,#eeff00 120.5px,#e4ff00 140.5px,#d6ff00 163.5px,#ddff00 199.5px,#f6ff00 224.5px,#fffc00 231.5px,#ffc800 259.5px,#ffbf00 272.5px,#ffa300 283.5px,#ff5d00 302.5px,#ff4300 316.5px,#fd0002 334.5px,#d5002a 359.5px,#ba0046 374.5px,#ae0051 392.5px,#8f0071 417.5px,#82007d 441.5px,#980068 469.5px,#b70049 509.5px,#bc0043 523.5px,#ee0011 551.5px,#f90006 564.5px,#ff0500 568.5px,#ff4300 583.5px,#ff5800 593.5px)"></i>
<i style="background:linear-gradient(90deg,#ff6500 33.5px,#ff6d00 41.5px,#ffbc00 65.5px,#ffd200 82.5px,#feff00 107.5px,#f2ff00 123.5px,#dfff00 152.5px,#d9ff00 168.5px,#e0ff00 200.5px,#f7ff00 223.5px,#fff900 231.5px,#ffc800 258.5px,#ffbe00 272.5px,#ff9e00 284.5px,#ff5c00 302.5px,#ff4200 316.5px,#ff0c00 330.5px,#fd0002 334.5px,#d3002c 360.5px,#ba0045 374.5px,#ae0051 392.5px,#900070 416.5px,#82007e 441.5px,#9b0065 473.5px,#b70049 510.5px,#be0041 525.5px,#ed0012 551.5px,#fc0003 566.5px,#ff0600 569.5px,#ff4600 585.5px,#ff5500 593.5px)"></i>
<i style="background:linear-gradient(90deg,#ff6000 34.5px,#ff6700 41.5px,#ff9d00 57.5px,#ffbc00 67.5px,#ffd400 85.5px,#ffff00 111.5px,#dfff00 156.5px,#deff00 189.5px,#efff00 215.5px,#fffd00 227.5px,#ffc800 257.5px,#ffbd00 272.5px,#ff9900 285.5px,#ff5e00 301.5px,#ff4400 315.5px,#ff1000 329.5px,#ff0000 333.5px,#d1002e 361.5px,#b90046 375.5px,#b00050 391.5px,#8f0071 416.5px,#83007d 441.5px,#93006d 465.5px,#b6004a 508.5px,#bc0043 524.5px,#ee0011 552.5px,#f90006 565.5px,#ff0300 569.5px,#ff4300 585.5px,#ff5100 592.5px)"></i>
<i style="background:linear-gradient(90deg,#ff5b00 34.5px,#ff6200 41.5px,#ff8800 53.5px,#ffb500 66.5px,#ffc500 75.5px,#ffd000 85.5px,#fffd00 114.5px,#efff00 141.5px,#dfff00 165.5px,#e4ff00 198.5px,#fdff00 223.5px,#ffc800 257.5px,#ffbd00 271.5px,#ff9e00 283.5px,#ff5e00 301.5px,#ff3e00 317.5px,#ff0000 333.5px,#d1002e 361.5px,#ba0046 375.5px,#b00050 391.5px,#900070 415.5px,#83007d 441.5px,#900070 463.5px,#b5004a 508.5px,#bd0043 525.5px,#ed0012 552.5px,#f90006 566.5px,#ff0400 570.5px,#ff4300 586.5px,#ff4d00 592.5px)"></i>
<i style="background:linear-gradient(90deg,#ff5800 34.5px,#ff5b00 40.5px,#ff7700 50.5px,#ffb600 68.5px,#ffc600 77.5px,#ffd100 88.5px,#fffa00 116.5px,#faff00 133.5px,#e3ff00 164.5px,#e6ff00 196.5px,#fbff00 220.5px,#fff300 230.5px,#ffca00 254.5px,#ffbc00 271.5px,#ff9900 284.5px,#ff5d00 301.5px,#ff4300 315.5px,#ff0000 333.5px,#d5002a 359.5px,#ba0046 375.5px,#af0051 392.5px,#900070 414.5px,#83007d 441.5px,#8e0072 461.5px,#b5004a 509.5px,#be0042 526.5px,#ee0011 553.5px,#fa0005 567.5px,#ff0500 571.5px,#ff3c00 585.5px,#ff4a00 592.5px)"></i>
<i style="background:linear-gradient(90deg,#ff5600 34.5px,#ff5800 40.5px,#ff7100 50.5px,#ffb700 70.5px,#ffc500 79.5px,#ffe200 102.5px,#fff800 120.5px,#fbff00 136.5px,#e6ff00 165.5px,#e9ff00 197.5px,#fffd00 222.5px,#ffc900 254.5px,#ffbe00 269.5px,#ff9e00 282.5px,#ff5c00 301.5px,#ff4200 315.5px,#ff0000 333.5px,#d6002a 359.5px,#ba0045 375.5px,#af0051 392.5px,#91006f 413.5px,#83007d 441.5px,#8f0071 463.5px,#b6004a 510.5px,#be0041 527.5px,#ed0012 553.5px,#fa0005 568.5px,#ff0600 572.5px,#ff3b00 586.5px,#ff4600 592.5px)"></i>
<i style="background:linear-gradient(90deg,#ff5300 35.5px,#ff5e00 45.5px,#ff8400 57.5px,#ffb500 71.5px,#ffc200 79.5px,#ffe200 105.5px,#fff800 127.5px,#faff00 142.5px,#e9ff00 166.5px,#ecff00 197.5px,#fffc00 221.5px,#ffc900 253.5px,#ffbd00 269.5px,#ff9900 283.5px,#ff5c00 301.5px,#ff4400 314.5px,#ff0b00 330.5px,#fd0002 334.5px,#d60029 359.5px,#ba0045 375.5px,#b0004f 391.5px,#91006f 412.5px,#83007d 442.5px,#8f0071 464.5px,#b5004a 510.5px,#be0042 527.5px,#ef0010 555.5px,#f80008 567.5px,#ff0300 572.5px,#ff3700 586.5px,#ff4200 591.5px)"></i>
<i style="background:linear-gradient(90deg,#ff5200 35.5px,#ff5e00 47.5px,#ff9100 62.5px,#ffb800 74.5px,#ffe400 110.5px,#fdff00 143.5px,#ecff00 168.5px,#efff00 198.5px,#fffc00 219.5px,#ffc800 253.5px,#ffbd00 268.5px,#ff9b00 282.5px,#ff5b00 301.5px,#ff4600 313.5px,#ff0e00 329.5px,#fd0002 334.5px,#d60029 359.5px,#ba0046 376.5px,#af0050 392.5px,#91006f 412.5px,#83007d 442.5px,#8f0071 464.5px,#b6004a 512.5px,#bd0043 527.5px,#ed0012 554.5px,#fa0005 569.5px,#ff0400 573.5px,#ff3600 587.5px,#ff3f00 591.5px)"></i>
<i style="background:linear-gradient(90deg,#ff5100 35.5px,#ff5f00 49.5px,#ffb300 74.5px,#ffcc00 94.5px,#ffec00 122.5px,#fcff00 148.5px,#efff00 171.5px,#f2ff00 198.5px,#fffd00 216.5px,#ffc800 252.5px,#ffbc00 268.5px,#ff9900 282.5px,#ff5a00 301.5px,#ff4600 313.5px,#fe0001 333.5px,#dc0023 356.5px,#bb0044 375.5px,#b1004f 391.5px,#91006f 412.5px,#83007d 443.5px,#91006f 467.5px,#b60049 513.5px,#be0042 528.5px,#ee0012 555.5px,#f70008 568.5px,#ff0100 573.5px,#ff3200 587.5px,#ff3c00 591.5px)"></i>
<i style="background:linear-gradient(90deg,#ff5100 36.5px,#ff5c00 49.5px,#ff8100 61.5px,#ffae00 74.5px,#ffc600 90.5px,#fff800 141.5px,#faff00 155.5px,#f1ff00 183.5px,#fbff00 207.5px,#fff600 219.5px,#ffc700 252.5px,#ffbe00 266.5px,#ff9e00 280.5px,#ff5a00 301.5px,#ff4800 312.5px,#ff1500 327.5px,#fe0001 333.5px,#db0024 357.5px,#bb0044 375.5px,#b00050 392.5px,#91006f 412.5px,#83007d 444.5px,#92006e 469.5px,#b60049 514.5px,#bf0041 529.5px,#ee0011 556.5px,#f80007 569.5px,#ff0200 574.5px,#ff3000 588.5px,#ff3400 590.5px)"></i>
<i style="background:linear-gradient(90deg,#ff5000 36.5px,#ff5a00 50.5px,#ff7f00 62.5px,#ffae00 76.5px,#ffc700 92.5px,#ffd100 105.5px,#ffff00 153.5px,#f4ff00 181.5px,#fcff00 205.5px,#fff600 217.5px,#ffc700 251.5px,#ffbf00 264.5px,#ffa500 277.5px,#ff5a00 301.5px,#ff4500 313.5px,#fe0001 333.5px,#db0024 357.5px,#bb0045 376.5px,#b1004e 391.5px,#92006e 411.5px,#84007c 442.5px,#8b0075 461.5px,#b6004a 514.5px,#be0042 529.5px,#ed0012 556.5px,#fb0004 572.5px,#ff0600 576.5px,#ff2d00 589.5px,#ff2e00 590.5px)"></i>
<i style="background:linear-gradient(90deg,#ff5000 36.5px,#ff5a00 51.5px,#ff7200 60.5px,#ffa800 76.5px,#ffc500 92.5px,#ffd700 113.5px,#fdff00 161.5px,#f8ff00 192.5px,#fffb00 210.5px,#ffc700 250.5px,#ffbf00 264.5px,#ff9e00 279.5px,#ff5a00 301.5px,#ff4400 313.5px,#fe0001 333.5px,#dc0024 357.5px,#bb0044 376.5px,#b0004f 392.5px,#92006d 411.5px,#84007c 442.5px,#8b0075 462.5px,#b60049 515.5px,#bf0041 530.5px,#ee0011 557.5px,#f70008 570.5px,#ff0300 576.5px,#ff2600 588.5px,#ff2900 590.5px)"></i>
<i style="background:linear-gradient(90deg,#ff5000 36.5px,#ff5a00 53.5px,#ff8200 66.5px,#ffaf00 81.5px,#ffc600 95.5px,#ffd600 115.5px,#ffff00 166.5px,#fbff00 193.5px,#fff900 209.5px,#ffc700 250.5px,#ffbe00 264.5px,#ff9f00 278.5px,#ff5a00 301.5px,#ff3e00 315.5px,#fe0001 333.5px,#dc0023 357.5px,#bc0044 376.5px,#b1004f 392.5px,#93006d 411.5px,#84007c 442.5px,#8a0076 461.5px,#b6004a 515.5px,#be0041 530.5px,#ed0012 557.5px,#fa0005 573.5px,#ff0400 577.5px,#ff2400 589.5px,#ff2500 590.5px)"></i>
<i style="background:linear-gradient(90deg,#ff5100 37.5px,#ff5b00 55.5px,#ff8a00 70.5px,#ffaf00 83.5px,#ffc500 95.5px,#ffd400 116.5px,#fffd00 168.5px,#fffc00 202.5px,#ffe000 228.5px,#ffc600 250.5px,#ffbe00 263.5px,#ff9e00 278.5px,#ff5a00 301.5px,#ff4000 314.5px,#fe0001 333.5px,#de0021 356.5px,#bc0043 376.5px,#b00050 393.5px,#93006d 411.5px,#84007c 444.5px,#8c0074 464.5px,#b70049 517.5px,#be0042 530.5px,#ee0011 558.5px,#f90006 573.5px,#ff0400 578.5px,#ff2000 589.5px)"></i>
<i style="background:linear-gradient(90deg,#ff5100 37.5px,#ff5a00 56.5px,#ff8100 69.5px,#ffad00 84.5px,#ffc400 96.5px,#ffd800 125.5px,#fffa00 169.5px,#fffc00 197.5px,#ffe600 222.5px,#ffc700 247.5px,#ffbe00 262.5px,#ff9f00 277.5px,#ff5c00 300.5px,#ff3d00 315.5px,#fe0001 333.5px,#db0024 358.5px,#bd0043 376.5px,#b0004f 393.5px,#94006c 410.5px,#84007c 444.5px,#8c0074 465.5px,#b6004a 516.5px,#be0041 531.5px,#ed0012 558.5px,#fa0005 574.5px,#ff0600 580.5px,#ff1d00 589.5px)"></i>
<i style="background:linear-gradient(90deg,#ff5100 37.5px,#ff5800 56.5px,#ff7200 66.5px,#ffb000 87.5px,#ffc500 99.5px,#ffd200 121.5px,#fff700 170.5px,#fff900 196.5px,#ffe600 220.5px,#ffc700 246.5px,#ffbf00 261.5px,#ff9e00 277.5px,#ff5e00 299.5px,#ff3f00 314.5px,#fe0001 333.5px,#de0022 357.5px,#bc0044 377.5px,#b1004f 393.5px,#94006b 410.5px,#84007c 445.5px,#8e0072 468.5px,#b70049 518.5px,#be0042 531.5px,#ee0012 559.5px,#fb0004 576.5px,#ff0800 582.5px,#ff1800 589.5px)"></i>
<i style="background:linear-gradient(90deg,#ff5100 38.5px,#ff5a00 59.5px,#ffb600 91.5px,#ffc600 103.5px,#ffd400 128.5px,#fff400 171.5px,#fff700 196.5px,#ffe300 220.5px,#ffc600 247.5px,#ffbe00 261.5px,#ff9f00 276.5px,#ff5c00 300.5px,#ff3c00 315.5px,#fe0001 333.5px,#de0021 357.5px,#bb0044 378.5px,#b1004e 393.5px,#94006c 411.5px,#85007b 444.5px,#8b0075 465.5px,#b60049 518.5px,#bf0041 532.5px,#ee0011 560.5px,#fb0004 577.5px,#ff0500 582.5px,#ff1000 588.5px)"></i>
<i style="background:linear-gradient(90deg,#ff5000 38.5px,#ff5900 60.5px,#ffbb00 95.5px,#ffc600 107.5px,#ffe200 149.5px,#fff400 181.5px,#fff100 203.5px,#ffc600 247.5px,#ffbd00 261.5px,#ff9b00 277.5px,#ff5e00 299.5px,#ff3c00 315.5px,#fe0001 333.5px,#df0021 357.5px,#bc0044 378.5px,#b0004f 394.5px,#93006d 412.5px,#85007b 446.5px,#8b0075 465.5px,#b70048 520.5px,#bf0040 533.5px,#ed0012 560.5px,#fc0003 579.5px,#ff0b00 588.5px)"></i>
<i style="background:linear-gradient(90deg,#ff5000 38.5px,#ff5a00 62.5px,#ffb700 95.5px,#ffc400 105.5px,#ffda00 143.5px,#fff100 180.5px,#ffee00 203.5px,#ffc600 246.5px,#ffbc00 261.5px,#ff9700 278.5px,#ff5b00 300.5px,#ff3e00 314.5px,#fe0001 333.5px,#df0020 357.5px,#bc0043 378.5px,#b1004f 394.5px,#93006d 412.5px,#85007b 447.5px,#8c0074 467.5px,#b70049 520.5px,#c0003f 534.5px,#ee0011 561.5px,#fd0002 581.5px,#ff0700 588.5px)"></i>
<i style="background:linear-gradient(90deg,#ff5000 38.5px,#ff5400 54.5px,#ff5c00 64.5px,#ffa100 88.5px,#ffbe00 101.5px,#ffef00 182.5px,#ffeb00 204.5px,#ffc600 245.5px,#ffbf00 258.5px,#ff9b00 276.5px,#ff5b00 300.5px,#ff3e00 314.5px,#fe0001 333.5px,#e00020 357.5px,#bd0043 378.5px,#b1004e 394.5px,#93006c 412.5px,#85007b 447.5px,#8d0073 469.5px,#b70048 521.5px,#c00040 534.5px,#ed0012 561.5px,#ff0300 588.5px)"></i>
<i style="background:linear-gradient(90deg,#ff4e00 39.5px,#ff5800 63.5px,#ff7a00 77.5px,#ffb600 98.5px,#ffc500 113.5px,#ffdb00 152.5px,#ffed00 189.5px,#ffe300 211.5px,#ffc600 243.5px,#ffbe00 258.5px,#ff9a00 276.5px,#ff5b00 300.5px,#ff3e00 314.5px,#fe0001 333.5px,#e0001f 357.5px,#bd0042 378.5px,#b2004e 394.5px,#94006c 412.5px,#85007b 448.5px,#8d0073 470.5px,#b60049 520.5px,#c0003f 535.5px,#ee0011 562.5px,#fe0001 585.5px,#ff0000 587.5px)"></i>
<i style="background:linear-gradient(90deg,#ff4d00 39.5px,#ff5300 56.5px,#ff5c00 67.5px,#ff8e00 85.5px,#ffb800 101.5px,#ffc600 119.5px,#ffea00 188.5px,#ffe200 210.5px,#ffc600 243.5px,#ffbd00 258.5px,#ff9900 276.5px,#ff5f00 298.5px,#ff3e00 314.5px,#fe0001 333.5px,#e2001d 356.5px,#bd0043 379.5px,#b1004f 395.5px,#94006c 412.5px,#85007b 450.5px,#8f0071 473.5px,#b70048 522.5px,#c00040 535.5px,#ee0011 563.5px,#fe0001 587.5px)"></i>
<i style="background:linear-gradient(90deg,#ff4b00 39.5px,#ff5200 56.5px,#ff5d00 69.5px,#ff9500 89.5px,#ffb600 102.5px,#ffc600 120.5px,#ffd700 154.5px,#ffe800 191.5px,#ffdc00 214.5px,#ffc600 242.5px,#ffbc00 258.5px,#ff9500 277.5px,#ff5c00 299.5px,#ff3e00 314.5px,#fe0001 333.5px,#e1001e 357.5px,#be0041 378.5px,#b00050 396.5px,#94006b 412.5px,#85007b 450.5px,#8f0071 473.5px,#b70048 523.5px,#c2003e 537.5px,#ee0011 563.5px,#fd0002 587.5px)"></i>
<i style="background:linear-gradient(90deg,#ff4a00 40.5px,#ff4e00 53.5px,#ff5e00 71.5px,#ff9600 91.5px,#ffb500 104.5px,#ffc600 122.5px,#ffd300 152.5px,#ffe500 190.5px,#ffdc00 212.5px,#ffc600 241.5px,#ffbc00 257.5px,#ff9400 277.5px,#ff5c00 299.5px,#ff4000 313.5px,#fe0001 333.5px,#f0000f 346.5px,#d5002b 364.5px,#bc0044 381.5px,#b2004e 395.5px,#95006b 412.5px,#85007b 451.5px,#8f0071 474.5px,#b70048 523.5px,#c00040 536.5px,#ee0011 564.5px,#fb0004 586.5px)"></i>
<i style="background:linear-gradient(90deg,#ff4800 40.5px,#ff4b00 52.5px,#ff5d00 72.5px,#ff8800 88.5px,#ffb000 103.5px,#ffc400 121.5px,#ffd400 158.5px,#ffe300 193.5px,#ffd500 218.5px,#ffc600 242.5px,#ffba00 258.5px,#ff9300 277.5px,#ff5b00 299.5px,#ff4600 311.5px,#fe0001 333.5px,#f1000f 346.5px,#d5002a 364.5px,#bb0044 382.5px,#b2004d 395.5px,#94006c 413.5px,#85007b 454.5px,#95006b 482.5px,#b70049 523.5px,#c0003f 537.5px,#ed0012 564.5px,#f90006 586.5px)"></i>
<i style="background:linear-gradient(90deg,#ff4700 40.5px,#ff4700 51.5px,#ff5d00 74.5px,#ffae00 104.5px,#ffc300 121.5px,#ffd200 159.5px,#ffe100 194.5px,#ffcc00 227.5px,#ffbe00 254.5px,#ff9e00 272.5px,#ff5b00 299.5px,#ff4600 311.5px,#fe0001 333.5px,#ee0011 349.5px,#bc0043 381.5px,#b3004d 395.5px,#94006c 413.5px,#86007a 453.5px,#8e0072 474.5px,#b70048 524.5px,#c1003f 538.5px,#ee0011 565.5px,#f80007 586.5px)"></i>
<i style="background:linear-gradient(90deg,#ff4700 40.5px,#ff4200 45.5px,#ff5e00 76.5px,#ffa700 103.5px,#ffc000 120.5px,#ffdb00 180.5px,#ffdc00 203.5px,#ffc600 239.5px,#ffbb00 255.5px,#ff9a00 273.5px,#ff5a00 299.5px,#ff4600 311.5px,#fe0001 333.5px,#e3001c 357.5px,#bd0043 381.5px,#b3004c 395.5px,#94006c 413.5px,#86007a 453.5px,#8f0071 476.5px,#b70048 524.5px,#bf0041 537.5px,#ee0011 566.5px,#f70008 586.5px)"></i>
<i style="background:linear-gradient(90deg,#ff4000 41.5px,#ff4400 53.5px,#ff5e00 77.5px,#ffa700 105.5px,#ffc100 123.5px,#ffd700 177.5px,#ffdc00 198.5px,#ffc600 239.5px,#ffb800 257.5px,#ff8d00 278.5px,#ff5800 300.5px,#ff4800 310.5px,#fe0001 333.5px,#e3001c 357.5px,#bd0042 381.5px,#b1004f 397.5px,#94006b 413.5px,#86007a 454.5px,#900070 478.5px,#b70048 525.5px,#c1003f 539.5px,#ee0012 566.5px,#f60009 585.5px)"></i>
<i style="background:linear-gradient(90deg,#ff3d00 41.5px,#ff4100 53.5px,#ff5600 72.5px,#ff6300 81.5px,#ffa500 106.5px,#ffbe00 122.5px,#ffda00 195.5px,#ffc600 238.5px,#ffb800 256.5px,#ff8c00 278.5px,#ff5900 299.5px,#ff4b00 309.5px,#fe0001 333.5px,#e4001c 357.5px,#be0042 381.5px,#b1004e 397.5px,#94006c 414.5px,#86007a 456.5px,#93006d 482.5px,#b80048 526.5px,#c1003e 540.5px,#ee0011 567.5px,#f6000a 585.5px)"></i>
<i style="background:linear-gradient(90deg,#ff3900 41.5px,#ff3d00 53.5px,#ff5500 71.5px,#ff5e00 80.5px,#ffa900 110.5px,#ffbe00 125.5px,#ffd800 195.5px,#ffbe00 250.5px,#ffa200 268.5px,#ff5700 300.5px,#ff4d00 308.5px,#ff0900 330.5px,#fd0002 334.5px,#e4001b 357.5px,#be0041 381.5px,#b2004e 397.5px,#95006b 413.5px,#86007a 456.5px,#900070 479.5px,#b70048 526.5px,#c1003f 540.5px,#ed0012 567.5px,#f5000a 585.5px)"></i>
<i style="background:linear-gradient(90deg,#ff3700 42.5px,#ff3900 52.5px,#ff5500 72.5px,#ff5f00 82.5px,#ffa700 111.5px,#ffbd00 127.5px,#ffc800 155.5px,#ffd600 197.5px,#ffc500 239.5px,#ffb300 258.5px,#ff8000 282.5px,#ff5700 300.5px,#ff4800 310.5px,#ff0000 333.5px,#ee0011 350.5px,#bd0043 383.5px,#b0004f 398.5px,#95006b 414.5px,#86007a 457.5px,#900070 480.5px,#b70048 526.5px,#c00040 540.5px,#ef0010 569.5px,#f4000b 584.5px)"></i>
<i style="background:linear-gradient(90deg,#ff3400 42.5px,#ff3500 52.5px,#ff5400 72.5px,#ff6000 84.5px,#ffa500 112.5px,#ffbb00 128.5px,#ffc600 150.5px,#ffd400 198.5px,#ffbf00 247.5px,#ffa100 267.5px,#ff5700 300.5px,#ff4700 310.5px,#fd0002 334.5px,#e3001c 358.5px,#be0041 382.5px,#b1004f 398.5px,#95006b 414.5px,#86007a 459.5px,#93006d 484.5px,#b70049 526.5px,#c0003f 541.5px,#ee0011 569.5px,#f3000c 584.5px)"></i>
<i style="background:linear-gradient(90deg,#ff3200 42.5px,#ff2f00 50.5px,#ff5400 73.5px,#ff5f00 85.5px,#ffa700 115.5px,#ffbd00 132.5px,#ffc600 156.5px,#ffd200 197.5px,#ffbe00 247.5px,#ffa000 267.5px,#ff5700 300.5px,#ff4500 311.5px,#ff0000 333.5px,#e5001a 357.5px,#bd0042 383.5px,#b1004f 398.5px,#95006b 414.5px,#86007a 459.5px,#93006d 485.5px,#b70048 527.5px,#c1003f 542.5px,#ed0012 569.5px,#f3000c 584.5px)"></i>
<i style="background:linear-gradient(90deg,#ff3000 42.5px,#ff2a00 48.5px,#ff3900 59.5px,#ff5300 74.5px,#ff5f00 86.5px,#ffa700 117.5px,#ffbf00 137.5px,#ffd100 198.5px,#ffbf00 245.5px,#ffa300 265.5px,#ff5700 300.5px,#ff4200 312.5px,#ff0000 333.5px,#e4001b 358.5px,#bd0043 384.5px,#b00050 399.5px,#96006a 414.5px,#870079 456.5px,#8d0073 478.5px,#b70049 527.5px,#c0003f 542.5px,#ee0011 570.5px,#f3000c 584.5px)"></i>
<i style="background:linear-gradient(90deg,#ff2900 43.5px,#ff2900 52.5px,#ff5300 75.5px,#ff5c00 86.5px,#ffa900 120.5px,#ffc200 145.5px,#ffcf00 200.5px,#ffbe00 245.5px,#ffa000 266.5px,#ff5700 300.5px,#ff4200 312.5px,#fe0001 334.5px,#e4001b 358.5px,#bd0042 384.5px,#b0004f 399.5px,#95006b 415.5px,#870079 458.5px,#8d0073 479.5px,#b70048 528.5px,#bf0040 542.5px,#ef0010 572.5px,#f2000d 583.5px)"></i>
<i style="background:linear-gradient(90deg,#ff2500 43.5px,#ff2200 50.5px,#ff4800 69.5px,#ff6100 90.5px,#ffa500 120.5px,#ffbd00 140.5px,#ffc700 173.5px,#ffcd00 198.5px,#ffbf00 243.5px,#ffa200 264.5px,#ff5400 302.5px,#ff3c00 314.5px,#fe0001 334.5px,#e4001b 358.5px,#bd0043 385.5px,#b1004f 399.5px,#960069 414.5px,#870079 457.5px,#8c0074 478.5px,#b70048 529.5px,#c00040 543.5px,#ee0011 572.5px,#f2000d 583.5px)"></i>
<i style="background:linear-gradient(90deg,#ff1f00 43.5px,#ff2000 52.5px,#ff5200 77.5px,#ff6000 91.5px,#ffa400 121.5px,#ffbd00 142.5px,#ffc600 172.5px,#ffcc00 201.5px,#ffbe00 243.5px,#ffa100 264.5px,#ff5300 303.5px,#ff3600 316.5px,#fe0001 334.5px,#e3001c 359.5px,#be0042 384.5px,#b1004f 399.5px,#95006b 416.5px,#870079 460.5px,#8e0072 481.5px,#b70049 528.5px,#bf0041 543.5px,#ed0012 572.5px,#f2000d 583.5px)"></i>
<i style="background:linear-gradient(90deg,#ff1a00 44.5px,#ff1b00 52.5px,#ff5000 77.5px,#ff6100 93.5px,#ffa400 123.5px,#ffbe00 146.5px,#ffcb00 199.5px,#ffbf00 240.5px,#ffa400 262.5px,#ff5400 302.5px,#ff3900 315.5px,#fe0001 334.5px,#e3001c 359.5px,#bc0043 386.5px,#b1004e 399.5px,#95006b 416.5px,#86007a 465.5px,#95006b 490.5px,#b70049 529.5px,#bf0040 544.5px,#ee0012 573.5px,#f2000d 582.5px)"></i>
<i style="background:linear-gradient(90deg,#ff1700 44.5px,#ff1400 50.5px,#ff2c00 62.5px,#ff5000 78.5px,#ff6200 95.5px,#ffa400 125.5px,#ffbc00 146.5px,#ffc600 178.5px,#ffc600 214.5px,#ffbe00 240.5px,#ffa400 261.5px,#ff5400 302.5px,#ff3900 315.5px,#fe0001 334.5px,#e2001d 360.5px,#bd0043 386.5px,#ae0052 401.5px,#95006a 416.5px,#86007a 465.5px,#94006c 490.5px,#b60049 529.5px,#c00040 545.5px,#ed0012 573.5px,#f1000e 582.5px)"></i>
<i style="background:linear-gradient(90deg,#ff1500 44.5px,#ff0e00 47.5px,#ff1700 55.5px,#ff5000 79.5px,#ff6100 96.5px,#ffa400 127.5px,#ffbc00 149.5px,#ffc800 189.5px,#ffc100 234.5px,#ffa800 258.5px,#ff5400 302.5px,#ff3900 315.5px,#ff0000 334.5px,#df0020 362.5px,#bc0043 387.5px,#ae0051 401.5px,#95006b 417.5px,#86007a 467.5px,#970069 494.5px,#b70049 530.5px,#bf0041 545.5px,#ed0012 574.5px,#f1000e 582.5px)"></i>
<i style="background:linear-gradient(90deg,#ff0c00 45.5px,#ff0c00 52.5px,#ff4e00 79.5px,#ff6000 97.5px,#ffa100 127.5px,#ffbb00 150.5px,#ffc700 188.5px,#ffc100 233.5px,#ffa800 257.5px,#ff6f00 287.5px,#ff3c00 314.5px,#ff0000 334.5px,#de0021 363.5px,#bd0043 387.5px,#af0051 401.5px,#95006b 417.5px,#86007a 468.5px,#95006b 492.5px,#b60049 530.5px,#be0041 545.5px,#ed0013 575.5px,#f0000f 581.5px)"></i>
<i style="background:linear-gradient(90deg,#ff0600 45.5px,#ff0600 51.5px,#ff2800 65.5px,#ff4d00 80.5px,#ff6100 99.5px,#ffa100 129.5px,#ffba00 151.5px,#ffc500 184.5px,#ffc200 229.5px,#ffae00 252.5px,#ff8100 278.5px,#ff5400 302.5px,#ff3700 316.5px,#fe0001 335.5px,#de0021 363.5px,#bc0044 388.5px,#af0051 401.5px,#95006b 417.5px,#86007a 469.5px,#980068 496.5px,#b70049 531.5px,#bf0041 546.5px,#eb0014 575.5px,#f0000f 581.5px)"></i>
<i style="background:linear-gradient(90deg,#ff0000 45.5px,#ff0400 53.5px,#ff4d00 81.5px,#ff6200 101.5px,#ffa000 130.5px,#ffb900 152.5px,#ffc400 183.5px,#ffc200 226.5px,#ffb000 249.5px,#ff8800 274.5px,#ff5400 302.5px,#ff3700 316.5px,#fe0001 335.5px,#dd0022 364.5px,#bc0043 388.5px,#ad0052 402.5px,#95006b 418.5px,#86007a 469.5px,#93006d 491.5px,#b60049 531.5px,#be0042 546.5px,#eb0014 576.5px,#ef0010 581.5px)"></i>
<i style="background:linear-gradient(90deg,#fc0003 45.5px,#ff0200 54.5px,#ff4b00 81.5px,#ff5700 94.5px,#ff6700 105.5px,#ff9d00 130.5px,#ffb700 152.5px,#ffc300 182.5px,#ffc100 226.5px,#ffad00 251.5px,#ff7b00 280.5px,#ff3f00 313.5px,#fe0001 335.5px,#dd0022 364.5px,#bc0044 389.5px,#ae0052 402.5px,#95006b 418.5px,#86007a 470.5px,#95006b 494.5px,#b6004a 531.5px,#be0041 547.5px,#ea0016 576.5px,#ed0012 581.5px)"></i>
<i style="background:linear-gradient(90deg,#f90006 46.5px,#ff0200 56.5px,#ff4800 81.5px,#ff5500 92.5px,#ff6100 103.5px,#ffa300 136.5px,#ffbc00 162.5px,#ffc200 198.5px,#ffbf00 228.5px,#ffa900 253.5px,#ff6d00 287.5px,#ff4200 312.5px,#fe0001 335.5px,#dc0023 365.5px,#bc0044 389.5px,#ae0051 402.5px,#96006a 417.5px,#85007a 469.5px,#91006f 490.5px,#b60049 532.5px,#bf0041 548.5px,#e80017 576.5px,#eb0014 580.5px)"></i>
<i style="background:linear-gradient(90deg,#f80007 46.5px,#ff0300 58.5px,#ff4800 82.5px,#ff5500 93.5px,#ff6000 104.5px,#ffa200 137.5px,#ffbb00 163.5px,#ffc000 194.5px,#ffbf00 226.5px,#ffa900 252.5px,#ff7400 283.5px,#ff4200 312.5px,#fe0001 335.5px,#dc0023 365.5px,#bb0044 390.5px,#ad0053 403.5px,#96006a 417.5px,#85007b 471.5px,#96006a 496.5px,#b6004a 532.5px,#be0042 548.5px,#e70019 576.5px,#e90016 580.5px)"></i>
<i style="background:linear-gradient(90deg,#f60009 46.5px,#fd0002 57.5px,#ff1400 65.5px,#ff4a00 84.5px,#ff5500 95.5px,#ff6300 107.5px,#ffa100 138.5px,#ffb900 163.5px,#ffbf00 193.5px,#ffbe00 225.5px,#ffa900 251.5px,#ff7200 284.5px,#ff4000 313.5px,#fe0001 335.5px,#db0024 366.5px,#bb0045 391.5px,#af0051 402.5px,#96006a 418.5px,#85007b 472.5px,#970069 498.5px,#b6004a 532.5px,#be0041 549.5px,#e60019 577.5px,#e80018 580.5px)"></i>
<i style="background:linear-gradient(90deg,#f4000b 47.5px,#ff0100 60.5px,#ff4500 83.5px,#ff5500 94.5px,#ff5d00 105.5px,#ff9e00 138.5px,#ffb800 164.5px,#ffbe00 198.5px,#ffbd00 225.5px,#ffa900 250.5px,#ff7500 282.5px,#ff4300 312.5px,#fe0001 335.5px,#e0001f 363.5px,#bd0043 389.5px,#af0051 402.5px,#95006b 419.5px,#85007b 473.5px,#960069 498.5px,#b6004a 533.5px,#bf0041 550.5px,#e4001b 577.5px,#e60019 579.5px)"></i>
<i style="background:linear-gradient(90deg,#f2000d 47.5px,#ff0300 62.5px,#ff4700 85.5px,#ff5400 94.5px,#ff5d00 106.5px,#ff9d00 139.5px,#ffb800 167.5px,#ffbd00 222.5px,#ffa900 249.5px,#ff7800 280.5px,#ff5200 304.5px,#ff3800 316.5px,#fe0001 335.5px,#e0001f 363.5px,#bc0043 390.5px,#ac0054 404.5px,#95006b 419.5px,#85007b 474.5px,#970069 499.5px,#b5004a 533.5px,#be0041 550.5px,#e5001a 579.5px)"></i>
<i style="background:linear-gradient(90deg,#f1000e 47.5px,#ff0200 63.5px,#ff4500 85.5px,#ff5400 95.5px,#ff5d00 107.5px,#ff9d00 141.5px,#ffb600 167.5px,#ffbd00 216.5px,#ffad00 244.5px,#ff8400 273.5px,#ff5500 302.5px,#ff3b00 315.5px,#fe0001 335.5px,#df0020 364.5px,#bd0042 389.5px,#ae0052 403.5px,#95006a 419.5px,#85007b 475.5px,#96006a 499.5px,#b5004a 533.5px,#bf0041 551.5px,#e0001f 576.5px,#e3001d 579.5px)"></i>
<i style="background:linear-gradient(90deg,#ef0010 47.5px,#ff0200 64.5px,#ff4500 86.5px,#ff5500 98.5px,#ff5c00 108.5px,#ff9c00 142.5px,#ffb500 168.5px,#ffbb00 219.5px,#ffa900 246.5px,#ff8300 273.5px,#ff5500 302.5px,#ff4300 312.5px,#ff0000 335.5px,#dc0023 366.5px,#bc0044 391.5px,#ab0055 405.5px,#95006b 420.5px,#85007b 476.5px,#990067 502.5px,#b5004a 534.5px,#be0042 551.5px,#de0021 576.5px,#df0020 579.5px)"></i>
<i style="background:linear-gradient(90deg,#ee0011 48.5px,#ff0100 65.5px,#ff4500 87.5px,#ff5500 99.5px,#ff5c00 109.5px,#ff9800 141.5px,#ffb300 168.5px,#ffba00 218.5px,#ffa800 246.5px,#ff7f00 275.5px,#ff5500 302.5px,#ff4400 312.5px,#ff0000 335.5px,#de0021 365.5px,#bc0044 391.5px,#a90056 406.5px,#96006a 419.5px,#85007b 475.5px,#95006b 499.5px,#b5004a 534.5px,#be0041 552.5px,#dd0023 577.5px,#dd0022 578.5px)"></i>
<i style="background:linear-gradient(90deg,#ee0011 48.5px,#ff0100 66.5px,#ff4200 87.5px,#ff5400 99.5px,#ff5e00 111.5px,#ff9a00 144.5px,#ffb100 168.5px,#ffb900 215.5px,#ffaa00 243.5px,#ff8000 274.5px,#ff5500 302.5px,#ff4600 311.5px,#ff0000 335.5px,#e1001e 363.5px,#bc0043 391.5px,#a80058 407.5px,#95006b 421.5px,#85007b 475.5px,#91006f 495.5px,#b5004a 535.5px,#bf0041 553.5px,#db0024 577.5px,#db0024 578.5px)"></i>
<i style="background:linear-gradient(90deg,#ee0011 48.5px,#fc0003 65.5px,#ff0300 68.5px,#ff4000 87.5px,#ff5400 99.5px,#ff5d00 112.5px,#ff9600 143.5px,#ffaf00 168.5px,#ffb700 213.5px,#ffac00 239.5px,#ff8900 268.5px,#ff5500 302.5px,#ff4900 310.5px,#fe0001 336.5px,#e0001f 364.5px,#bc0043 391.5px,#a80057 407.5px,#96006a 420.5px,#84007c 476.5px,#96006a 501.5px,#b5004b 534.5px,#be0041 553.5px,#d90026 577.5px,#d90026 578.5px)"></i>
<i style="background:linear-gradient(90deg,#ee0011 49.5px,#fd0002 67.5px,#ff1e00 77.5px,#ff4700 91.5px,#ff5500 103.5px,#ff6200 116.5px,#ff9800 146.5px,#ffb000 173.5px,#ffb500 220.5px,#ffa200 248.5px,#ff6f00 284.5px,#ff5500 303.5px,#ff3f00 314.5px,#fe0001 336.5px,#e0001f 364.5px,#bb0044 392.5px,#a70059 408.5px,#95006b 422.5px,#84007c 477.5px,#96006a 501.5px,#b5004a 536.5px,#c00040 555.5px,#d80028 577.5px)"></i>
<i style="background:linear-gradient(90deg,#ee0011 49.5px,#fa0005 66.5px,#ff0300 70.5px,#ff4000 89.5px,#ff5400 101.5px,#ff5d00 114.5px,#ff9700 147.5px,#ffae00 173.5px,#ffb300 221.5px,#ffa000 249.5px,#ff5500 303.5px,#ff3f00 314.5px,#fe0001 336.5px,#df0020 365.5px,#ba0045 393.5px,#a90057 407.5px,#95006b 422.5px,#84007c 478.5px,#96006a 502.5px,#b4004b 535.5px,#be0042 554.5px,#d60029 577.5px)"></i>
<i style="background:linear-gradient(90deg,#ee0011 49.5px,#fa0005 67.5px,#ff0400 71.5px,#ff4200 91.5px,#ff5400 103.5px,#ff5d00 115.5px,#ff9600 148.5px,#ffac00 173.5px,#ffb200 220.5px,#ffa000 247.5px,#ff7300 281.5px,#ff5600 303.5px,#ff3a00 316.5px,#fe0001 336.5px,#df0020 365.5px,#ba0045 393.5px,#a80058 408.5px,#96006a 421.5px,#84007c 479.5px,#980068 504.5px,#b5004a 537.5px,#bf0040 556.5px,#d5002a 577.5px)"></i>
<i style="background:linear-gradient(90deg,#ee0012 49.5px,#f80007 66.5px,#ff0400 72.5px,#ff4200 92.5px,#ff5400 104.5px,#ff5d00 116.5px,#ff9500 149.5px,#ffaa00 173.5px,#ffb100 218.5px,#ffa000 246.5px,#ff7400 280.5px,#ff4c00 309.5px,#fe0001 336.5px,#de0021 366.5px,#b90046 394.5px,#aa0056 407.5px,#96006a 422.5px,#84007c 479.5px,#95006b 502.5px,#b4004c 535.5px,#c00040 557.5px,#d4002c 577.5px)"></i>
<i style="background:linear-gradient(90deg,#ed0012 50.5px,#f90006 68.5px,#ff0400 73.5px,#ff4000 92.5px,#ff5400 104.5px,#ff5d00 117.5px,#ff9400 150.5px,#ffa900 175.5px,#ffaf00 220.5px,#ff9b00 250.5px,#ff4c00 309.5px,#fe0001 336.5px,#de0021 366.5px,#b90046 394.5px,#ac0054 406.5px,#96006a 422.5px,#84007c 479.5px,#92006e 499.5px,#b4004b 536.5px,#bf0040 557.5px,#d1002f 576.5px)"></i>
<i style="background:linear-gradient(90deg,#ed0012 50.5px,#f80007 68.5px,#ff0100 73.5px,#ff3e00 92.5px,#ff5400 105.5px,#ff5d00 118.5px,#ff9300 151.5px,#ffa800 177.5px,#ffae00 218.5px,#ff9e00 245.5px,#ff7300 280.5px,#ff4c00 309.5px,#fe0001 336.5px,#dd0022 367.5px,#b90046 394.5px,#ac0053 406.5px,#96006a 422.5px,#84007c 479.5px,#91006f 499.5px,#b3004c 535.5px,#bf0040 558.5px,#cf0030 576.5px)"></i>
<i style="background:linear-gradient(90deg,#ed0012 50.5px,#f70008 68.5px,#ff0200 74.5px,#ff4000 94.5px,#ff5400 106.5px,#ff5d00 119.5px,#ff9200 152.5px,#ffa700 178.5px,#ffac00 220.5px,#ff9a00 248.5px,#ff4c00 309.5px,#fe0001 336.5px,#dd0022 367.5px,#b90046 394.5px,#ad0053 406.5px,#960069 422.5px,#84007c 480.5px,#92006e 500.5px,#b4004b 537.5px,#c00040 559.5px,#ce0032 576.5px)"></i>
<i style="background:linear-gradient(90deg,#ed0012 51.5px,#f70008 69.5px,#ff0300 75.5px,#ff4100 95.5px,#ff5400 107.5px,#ff5d00 120.5px,#ff9100 153.5px,#ffa600 180.5px,#ffaa00 222.5px,#ff9500 252.5px,#ff4c00 309.5px,#ff0000 336.5px,#d90026 370.5px,#b90047 395.5px,#ac0054 407.5px,#96006a 423.5px,#83007d 481.5px,#970069 505.5px,#b4004b 538.5px,#bf0040 559.5px,#cc0033 575.5px)"></i>
<i style="background:linear-gradient(90deg,#ec0013 51.5px,#f60009 69.5px,#ff0300 76.5px,#ff3f00 95.5px,#ff5400 108.5px,#ff5d00 121.5px,#ff9100 155.5px,#ffa400 180.5px,#ffa900 220.5px,#ff9600 250.5px,#ff4c00 309.5px,#ff0000 336.5px,#dc0023 368.5px,#ba0046 394.5px,#ae0052 406.5px,#970069 422.5px,#83007d 482.5px,#9b0065 509.5px,#b6004a 541.5px,#c1003e 562.5px,#cb0034 575.5px)"></i>
<i style="background:linear-gradient(90deg,#eb0014 51.5px,#f90006 72.5px,#ff0400 77.5px,#ff3f00 96.5px,#ff5300 108.5px,#ff6000 124.5px,#ff9000 156.5px,#ffa200 180.5px,#ffa700 218.5px,#ff9900 245.5px,#ff5300 305.5px,#ff2f00 320.5px,#ff0000 336.5px,#d90026 370.5px,#ba0046 394.5px,#ac0053 407.5px,#970069 423.5px,#83007d 483.5px,#b4004b 539.5px,#c1003f 562.5px,#ca0036 575.5px)"></i>
<i style="background:linear-gradient(90deg,#ea0015 51.5px,#fa0005 73.5px,#ff0500 78.5px,#ff4200 98.5px,#ff5400 110.5px,#ff6000 125.5px,#ff8e00 156.5px,#ffa100 182.5px,#ffa600 220.5px,#ff9400 249.5px,#ff4e00 308.5px,#ff1100 330.5px,#fd0002 337.5px,#db0024 369.5px,#ba0045 394.5px,#ab0055 408.5px,#960069 424.5px,#83007d 484.5px,#b4004b 539.5px,#c2003e 564.5px,#c80038 575.5px)"></i>
<i style="background:linear-gradient(90deg,#e90016 52.5px,#fa0005 74.5px,#ff0300 78.5px,#ff4200 99.5px,#ff5400 111.5px,#ff6000 126.5px,#ff8d00 157.5px,#ffa000 183.5px,#ffa400 222.5px,#ff9000 252.5px,#ff4e00 308.5px,#ff1100 330.5px,#fe0001 337.5px,#db0024 369.5px,#ba0045 394.5px,#aa0056 409.5px,#96006a 425.5px,#83007d 484.5px,#b5004b 540.5px,#c2003d 566.5px,#c60039 574.5px)"></i>
<i style="background:linear-gradient(90deg,#e90016 52.5px,#f0000f 64.5px,#ff0300 79.5px,#ff3e00 98.5px,#ff5200 110.5px,#ff5f00 126.5px,#ff8c00 158.5px,#ff9f00 185.5px,#ffa200 223.5px,#ff8e00 253.5px,#ff4e00 308.5px,#ff1700 328.5px,#fe0001 337.5px,#dd0022 368.5px,#bb0044 393.5px,#aa0055 409.5px,#970069 424.5px,#83007d 484.5px,#b4004b 540.5px,#c5003a 574.5px)"></i>
<i style="background:linear-gradient(90deg,#e80017 52.5px,#ee0012 62.5px,#ff0100 79.5px,#ff4100 100.5px,#ff5400 113.5px,#ff5f00 127.5px,#ff8d00 160.5px,#ff9f00 191.5px,#ff9f00 228.5px,#ff8500 261.5px,#ff4e00 308.5px,#ff1700 328.5px,#fe0001 337.5px,#dd0022 368.5px,#ba0046 395.5px,#ab0055 409.5px,#970069 424.5px,#83007d 485.5px,#b4004b 540.5px,#c4003b 574.5px)"></i>
<i style="background:linear-gradient(90deg,#e70019 53.5px,#eb0014 61.5px,#ff0200 80.5px,#ff3f00 100.5px,#ff5400 113.5px,#ff5f00 128.5px,#ff8d00 162.5px,#ff9e00 193.5px,#ff9d00 229.5px,#ff8300 262.5px,#ff4e00 308.5px,#ff1700 328.5px,#fe0001 337.5px,#dc0023 369.5px,#bb0045 394.5px,#a90056 410.5px,#970069 425.5px,#83007d 485.5px,#b5004b 541.5px,#c3003c 573.5px)"></i>
<i style="background:linear-gradient(90deg,#e6001a 53.5px,#ea0015 61.5px,#ff0300 81.5px,#ff3d00 100.5px,#ff5200 112.5px,#ff5f00 129.5px,#ff8c00 163.5px,#ff9d00 197.5px,#ff9c00 228.5px,#ff8400 260.5px,#ff4e00 308.5px,#ff0c00 332.5px,#fe0001 337.5px,#dc0023 369.5px,#ba0046 395.5px,#aa0056 410.5px,#970069 425.5px,#83007d 485.5px,#b4004b 541.5px,#c3003d 573.5px)"></i>
<i style="background:linear-gradient(90deg,#e4001b 53.5px,#ff0100 81.5px,#ff4000 102.5px,#ff5400 114.5px,#ff5e00 129.5px,#ff8b00 164.5px,#ff9c00 198.5px,#ff9a00 229.5px,#ff8200 261.5px,#ff4e00 308.5px,#ff1500 329.5px,#fe0001 337.5px,#de0021 368.5px,#ba0046 395.5px,#a90057 411.5px,#970069 426.5px,#83007d 486.5px,#b4004b 541.5px,#c2003d 573.5px)"></i>
<i style="background:linear-gradient(90deg,#e4001c 53.5px,#ec0014 63.5px,#ff0300 82.5px,#ff4100 103.5px,#ff5400 116.5px,#ff6200 133.5px,#ff8b00 166.5px,#ff9b00 201.5px,#ff9800 231.5px,#ff7c00 266.5px,#ff4e00 308.5px,#ff1500 329.5px,#fe0001 337.5px,#de0021 368.5px,#ba0046 395.5px,#a90056 411.5px,#970069 426.5px,#83007d 486.5px,#b5004b 542.5px,#c1003e 573.5px)"></i>
<i style="background:linear-gradient(90deg,#e3001c 54.5px,#fc0003 80.5px,#ff0a00 85.5px,#ff3f00 103.5px,#ff5500 117.5px,#ff5f00 131.5px,#ff8a00 167.5px,#ff9900 200.5px,#ff9600 232.5px,#ff7a00 267.5px,#ff4e00 308.5px,#ff1800 328.5px,#fe0001 337.5px,#ef0010 353.5px,#d4002c 375.5px,#b90046 396.5px,#aa0056 411.5px,#970069 426.5px,#83007d 485.5px,#a1005f 518.5px,#b70048 548.5px,#c00040 572.5px)"></i>
<i style="background:linear-gradient(90deg,#e3001c 54.5px,#eb0014 64.5px,#ff0200 83.5px,#ff4000 104.5px,#ff5500 118.5px,#ff5f00 132.5px,#ff8900 168.5px,#ff9800 203.5px,#ff9400 234.5px,#ff7500 272.5px,#ff4e00 308.5px,#ff1e00 326.5px,#fe0001 337.5px,#f0000f 352.5px,#d70028 373.5px,#ba0046 395.5px,#a90057 412.5px,#970069 427.5px,#84007c 485.5px,#96006a 508.5px,#b4004b 542.5px,#bf0040 572.5px)"></i>
<i style="background:linear-gradient(90deg,#e3001d 54.5px,#e90016 63.5px,#ff0300 84.5px,#ff3e00 104.5px,#ff5400 117.5px,#ff5f00 133.5px,#ff8800 169.5px,#ff9700 205.5px,#ff9200 235.5px,#ff7200 274.5px,#ff4e00 308.5px,#ff1e00 326.5px,#fe0001 337.5px,#f0000f 352.5px,#d90027 372.5px,#b90046 396.5px,#ab0055 411.5px,#970069 427.5px,#84007c 485.5px,#980068 510.5px,#b5004b 543.5px,#bf0041 572.5px)"></i>
<i style="background:linear-gradient(90deg,#e2001d 55.5px,#ed0012 66.5px,#ff0100 84.5px,#ff3f00 105.5px,#ff5500 119.5px,#ff5f00 134.5px,#ff8700 170.5px,#ff9600 207.5px,#ff8f00 238.5px,#ff6b00 280.5px,#ff4e00 308.5px,#ff1e00 326.5px,#fe0001 337.5px,#f1000e 351.5px,#dc0023 370.5px,#ba0045 395.5px,#ad0053 410.5px,#970069 428.5px,#84007c 486.5px,#a4005c 522.5px,#b80048 550.5px,#be0041 571.5px)"></i>
<i style="background:linear-gradient(90deg,#e2001d 55.5px,#e90017 64.5px,#f3000c 75.5px,#ff0300 85.5px,#ff4200 107.5px,#ff5500 120.5px,#ff6100 137.5px,#ff8600 171.5px,#ff9400 207.5px,#ff8e00 238.5px,#ff6700 284.5px,#ff4e00 308.5px,#ff2200 325.5px,#fe0001 337.5px,#ef0010 354.5px,#d3002c 376.5px,#b90047 397.5px,#aa0056 412.5px,#970068 428.5px,#84007c 484.5px,#94006c 506.5px,#b5004a 544.5px,#be0042 571.5px)"></i>
<i style="background:linear-gradient(90deg,#e2001d 55.5px,#e80018 64.5px,#f1000e 72.5px,#ff0100 85.5px,#ff4000 107.5px,#ff5400 119.5px,#ff6000 137.5px,#ff8500 172.5px,#ff9300 208.5px,#ff8c00 239.5px,#ff6900 281.5px,#ff4e00 308.5px,#ff1f00 326.5px,#fe0001 337.5px,#de0021 369.5px,#ba0045 395.5px,#af0051 409.5px,#980068 427.5px,#85007b 485.5px,#94006c 506.5px,#b5004a 544.5px,#bd0042 571.5px)"></i>
<i style="background:linear-gradient(90deg,#e2001d 56.5px,#e90017 65.5px,#f4000c 76.5px,#ff0200 86.5px,#ff4100 108.5px,#ff5400 120.5px,#ff6100 139.5px,#ff8600 176.5px,#ff9200 213.5px,#ff8700 246.5px,#ff4f00 308.5px,#ff0d00 332.5px,#fe0001 337.5px,#de0021 369.5px,#ba0046 396.5px,#ac0053 411.5px,#980068 428.5px,#85007b 486.5px,#980067 511.5px,#b6004a 545.5px,#bc0043 570.5px)"></i>
<i style="background:linear-gradient(90deg,#e2001d 56.5px,#e60019 64.5px,#f2000d 74.5px,#ff0100 86.5px,#ff4400 110.5px,#ff5400 122.5px,#ff6400 142.5px,#ff8500 177.5px,#ff9000 211.5px,#ff8800 242.5px,#ff5200 306.5px,#ff2e00 321.5px,#fe0001 337.5px,#e3001c 366.5px,#bb0045 395.5px,#ad0053 411.5px,#980068 428.5px,#85007b 485.5px,#96006a 509.5px,#b6004a 545.5px,#bc0043 570.5px)"></i>
<i style="background:linear-gradient(90deg,#e2001e 56.5px,#e5001a 64.5px,#f1000e 73.5px,#ff0200 87.5px,#ff4200 110.5px,#ff5400 122.5px,#ff6300 142.5px,#ff8400 178.5px,#ff8f00 214.5px,#ff8400 247.5px,#ff4f00 308.5px,#ff1600 329.5px,#fe0001 337.5px,#e3001c 366.5px,#bb0045 395.5px,#ad0052 411.5px,#980068 429.5px,#86007a 485.5px,#93006d 506.5px,#b6004a 545.5px,#bc0044 570.5px)"></i>
<i style="background:linear-gradient(90deg,#e1001e 56.5px,#e60019 65.5px,#f2000d 75.5px,#ff0300 88.5px,#ff4300 111.5px,#ff5400 123.5px,#ff6200 143.5px,#ff8300 179.5px,#ff8d00 213.5px,#ff8500 244.5px,#ff4f00 308.5px,#ff1900 328.5px,#fd0002 338.5px,#e2001d 367.5px,#bb0045 395.5px,#ae0052 411.5px,#980068 429.5px,#86007a 485.5px,#94006c 507.5px,#b60049 546.5px,#bb0044 570.5px)"></i>
<i style="background:linear-gradient(90deg,#e1001e 57.5px,#e5001a 65.5px,#f2000d 75.5px,#ff0200 88.5px,#ff4600 113.5px,#ff5500 125.5px,#ff6400 146.5px,#ff8300 181.5px,#ff8c00 218.5px,#ff8000 250.5px,#ff4f00 308.5px,#ff1900 328.5px,#fd0002 338.5px,#e2001d 367.5px,#bb0044 395.5px,#ad0053 412.5px,#980068 430.5px,#86007a 486.5px,#980068 511.5px,#b70048 548.5px,#bb0044 569.5px)"></i>
<i style="background:linear-gradient(90deg,#e0001f 57.5px,#e60019 66.5px,#f2000d 76.5px,#ff0300 89.5px,#ff4200 112.5px,#ff5400 124.5px,#ff6400 147.5px,#ff8200 182.5px,#ff8b00 219.5px,#ff7d00 253.5px,#ff4d00 309.5px,#ff0000 337.5px,#f1000e 352.5px,#de0021 370.5px,#ba0045 396.5px,#af0051 411.5px,#980067 430.5px,#870079 484.5px,#91006f 504.5px,#b60049 546.5px,#bb0045 569.5px)"></i>
<i style="background:linear-gradient(90deg,#e0001f 57.5px,#e5001a 66.5px,#f3000c 77.5px,#ff0200 89.5px,#ff4500 114.5px,#ff5500 126.5px,#ff6300 147.5px,#ff8200 185.5px,#ff8900 220.5px,#ff7c00 253.5px,#ff4d00 309.5px,#ff0000 337.5px,#f0000f 354.5px,#d80027 374.5px,#ba0046 397.5px,#ae0052 412.5px,#980068 431.5px,#870079 486.5px,#95006b 508.5px,#b70048 548.5px,#bb0045 569.5px)"></i>
<i style="background:linear-gradient(90deg,#df0020 58.5px,#e60019 67.5px,#f2000d 77.5px,#ff0300 90.5px,#ff4600 115.5px,#ff5500 127.5px,#ff6500 150.5px,#ff8200 188.5px,#ff8800 223.5px,#ff7700 259.5px,#ff4d00 309.5px,#fe0001 338.5px,#f1000e 353.5px,#dd0022 371.5px,#bb0045 396.5px,#ae0051 412.5px,#990067 431.5px,#870079 486.5px,#970069 510.5px,#b80048 549.5px,#bb0045 568.5px)"></i>
<i style="background:linear-gradient(90deg,#df0020 58.5px,#e5001a 67.5px,#f3000c 78.5px,#ff0100 90.5px,#ff4200 114.5px,#ff5400 126.5px,#ff6400 150.5px,#ff8100 189.5px,#ff8600 224.5px,#ff7700 258.5px,#ff4e00 308.5px,#ff2000 326.5px,#fe0001 338.5px,#ef0010 356.5px,#ce0032 381.5px,#b90047 399.5px,#ac0053 414.5px,#980067 432.5px,#880078 485.5px,#92006e 505.5px,#b70048 548.5px,#ba0045 568.5px)"></i>
<i style="background:linear-gradient(90deg,#df0020 58.5px,#e4001b 67.5px,#f2000d 77.5px,#ff0200 91.5px,#ff4500 116.5px,#ff5500 128.5px,#ff6200 149.5px,#ff7f00 188.5px,#ff8500 224.5px,#ff7500 260.5px,#ff4e00 308.5px,#ff2000 326.5px,#fe0001 338.5px,#ef0010 356.5px,#d3002d 378.5px,#ba0046 398.5px,#ad0053 414.5px,#980068 433.5px,#880078 486.5px,#95006b 508.5px,#b70049 547.5px,#ba0045 568.5px)"></i>
<i style="background:linear-gradient(90deg,#df0021 58.5px,#e3001c 67.5px,#f1000e 77.5px,#ff0100 91.5px,#ff4600 117.5px,#ff5500 129.5px,#ff6400 153.5px,#ff7f00 191.5px,#ff8400 226.5px,#ff7100 264.5px,#ff4e00 308.5px,#ff2000 326.5px,#fe0001 338.5px,#e2001d 368.5px,#bb0044 396.5px,#ad0052 414.5px,#980068 433.5px,#880078 486.5px,#95006b 508.5px,#b70049 548.5px,#ba0046 568.5px)"></i>
<i style="background:linear-gradient(90deg,#de0021 59.5px,#e4001b 68.5px,#f2000d 78.5px,#ff0200 92.5px,#ff4400 117.5px,#ff5400 128.5px,#ff6400 154.5px,#ff7f00 194.5px,#ff8200 230.5px,#ff6c00 270.5px,#ff4e00 308.5px,#ff2000 326.5px,#fe0001 338.5px,#e1001e 369.5px,#bb0044 396.5px,#ae0052 414.5px,#980068 434.5px,#890077 486.5px,#94006c 507.5px,#b70048 549.5px,#ba0046 567.5px)"></i>
<i style="background:linear-gradient(90deg,#de0022 59.5px,#e3001c 68.5px,#f1000e 77.5px,#ff0300 93.5px,#ff4500 118.5px,#ff5500 130.5px,#ff6300 154.5px,#ff7e00 195.5px,#ff8100 229.5px,#ff6d00 268.5px,#ff4e00 308.5px,#ff1a00 328.5px,#fe0001 338.5px,#e1001e 369.5px,#bb0045 397.5px,#ae0051 414.5px,#980067 434.5px,#890077 486.5px,#95006b 508.5px,#b70048 549.5px,#ba0046 567.5px)"></i>
<i style="background:linear-gradient(90deg,#dd0022 59.5px,#e2001d 68.5px,#f1000e 77.5px,#ff0200 93.5px,#ff4800 120.5px,#ff5500 131.5px,#ff6400 157.5px,#ff7d00 197.5px,#ff7f00 231.5px,#ff6b00 270.5px,#ff4f00 307.5px,#ff2600 324.5px,#fe0001 338.5px,#e0001f 370.5px,#bb0045 397.5px,#ae0052 415.5px,#990067 434.5px,#890076 485.5px,#93006d 506.5px,#b70048 549.5px,#ba0046 567.5px)"></i>
<i style="background:linear-gradient(90deg,#dd0022 60.5px,#e2001e 68.5px,#f1000e 77.5px,#ff0300 94.5px,#ff4600 120.5px,#ff5500 131.5px,#ff6100 154.5px,#ff7c00 197.5px,#ff7e00 233.5px,#ff6600 276.5px,#ff4f00 307.5px,#ff2600 324.5px,#fe0001 338.5px,#e0001f 370.5px,#bb0045 397.5px,#af0050 414.5px,#980068 436.5px,#8a0076 487.5px,#95006b 508.5px,#b70049 548.5px,#ba0046 566.5px)"></i>
<i style="background:linear-gradient(90deg,#dd0022 60.5px,#e1001e 68.5px,#f1000e 78.5px,#ff0200 94.5px,#ff4900 122.5px,#ff5500 134.5px,#ff6b00 169.5px,#ff7d00 206.5px,#ff7a00 242.5px,#ff4f00 307.5px,#ff2600 324.5px,#ff0000 338.5px,#dc0023 373.5px,#ba0045 398.5px,#af0051 415.5px,#980068 436.5px,#8a0076 488.5px,#960069 510.5px,#b70049 548.5px,#ba0046 566.5px)"></i>
<i style="background:linear-gradient(90deg,#dd0023 60.5px,#e0001f 68.5px,#f1000e 78.5px,#ff0300 95.5px,#ff4a00 123.5px,#ff5500 135.5px,#ff7b00 202.5px,#ff7a00 240.5px,#ff5000 306.5px,#ff2e00 321.5px,#ff0000 338.5px,#e1001f 370.5px,#bb0044 397.5px,#af0050 415.5px,#980068 437.5px,#8b0075 487.5px,#96006a 509.5px,#b70049 549.5px,#ba0046 566.5px)"></i>
<i style="background:linear-gradient(90deg,#dd0023 60.5px,#df0020 68.5px,#f1000e 78.5px,#ff0100 95.5px,#ff4800 123.5px,#ff5500 134.5px,#ff6500 164.5px,#ff7a00 204.5px,#ff7900 240.5px,#ff5000 306.5px,#ff2e00 321.5px,#ff0000 338.5px,#e1001e 370.5px,#bb0045 398.5px,#af0051 416.5px,#990067 436.5px,#8b0075 487.5px,#96006a 509.5px,#b70049 549.5px,#ba0046 566.5px)"></i>
<i style="background:linear-gradient(90deg,#dc0024 61.5px,#e2001d 70.5px,#f1000e 79.5px,#ff0200 96.5px,#ff4900 124.5px,#ff5500 136.5px,#ff6700 168.5px,#ff7a00 209.5px,#ff7700 243.5px,#ff4f00 307.5px,#ff1b00 328.5px,#fe0001 339.5px,#e1001e 370.5px,#bb0045 398.5px,#af0051 416.5px,#980068 439.5px,#8b0075 489.5px,#9a0066 514.5px,#b70048 550.5px,#ba0046 565.5px)"></i>
<i style="background:linear-gradient(90deg,#db0024 61.5px,#e1001e 70.5px,#f1000e 80.5px,#ff0300 97.5px,#ff4900 125.5px,#ff5500 137.5px,#ff6b00 176.5px,#ff7a00 215.5px,#ff7200 252.5px,#ff5000 306.5px,#ff2600 324.5px,#ff0000 338.5px,#e0001f 371.5px,#ba0045 399.5px,#b00050 416.5px,#990067 437.5px,#8c0074 487.5px,#95006b 508.5px,#b70048 550.5px,#b90046 565.5px)"></i>
<i style="background:linear-gradient(90deg,#da0025 61.5px,#e2001d 71.5px,#f1000e 80.5px,#ff0200 97.5px,#ff4a00 126.5px,#ff5500 138.5px,#ff7800 209.5px,#ff7400 246.5px,#ff5000 306.5px,#ff2600 324.5px,#fe0001 339.5px,#df0020 372.5px,#bb0045 399.5px,#af0051 417.5px,#980068 440.5px,#8c0074 489.5px,#980068 512.5px,#b70048 550.5px,#b90046 565.5px)"></i>
<i style="background:linear-gradient(90deg,#da0025 62.5px,#e1001e 71.5px,#f1000e 80.5px,#ff0300 98.5px,#ff4800 126.5px,#ff5500 139.5px,#ff6b00 180.5px,#ff7800 219.5px,#ff6e00 257.5px,#ff5000 306.5px,#ff2300 325.5px,#fe0001 339.5px,#ed0012 360.5px,#ba0045 400.5px,#ae0051 418.5px,#990067 438.5px,#8c0074 490.5px,#9b0065 515.5px,#b80048 551.5px,#b90046 564.5px)"></i>
<i style="background:linear-gradient(90deg,#da0026 62.5px,#de0021 70.5px,#f1000e 80.5px,#ff0300 99.5px,#ff4900 127.5px,#ff5500 140.5px,#ff7600 210.5px,#ff7200 247.5px,#ff4e00 307.5px,#ff1b00 328.5px,#fe0001 339.5px,#ef0011 359.5px,#c5003a 390.5px,#b90047 404.5px,#ad0053 420.5px,#990067 438.5px,#8d0073 488.5px,#96006a 509.5px,#b80048 551.5px,#b90046 564.5px)"></i>
<i style="background:linear-gradient(90deg,#d90026 62.5px,#df0020 71.5px,#f1000e 80.5px,#ff0200 99.5px,#ff4700 127.5px,#ff5500 141.5px,#ff7500 211.5px,#ff7100 248.5px,#ff4f00 306.5px,#ff2b00 322.5px,#fe0001 339.5px,#e4001b 369.5px,#bb0045 400.5px,#af0051 419.5px,#990067 439.5px,#8d0073 490.5px,#990067 513.5px,#b80048 551.5px,#b90046 564.5px)"></i>
<i style="background:linear-gradient(90deg,#d90026 62.5px,#de0021 71.5px,#f1000e 81.5px,#ff0300 100.5px,#ff4700 128.5px,#ff5500 142.5px,#ff7400 212.5px,#ff7000 249.5px,#ff4f00 306.5px,#ff2b00 322.5px,#fe0001 339.5px,#e3001c 370.5px,#bb0045 400.5px,#af0050 419.5px,#990067 439.5px,#8d0073 490.5px,#9a0066 514.5px,#b80048 551.5px,#b90046 564.5px)"></i>
<i style="background:linear-gradient(90deg,#d80027 63.5px,#df0020 72.5px,#f0000f 81.5px,#ff0300 101.5px,#ff4800 129.5px,#ff5500 142.5px,#ff7300 212.5px,#ff6f00 249.5px,#ff4f00 306.5px,#ff2300 325.5px,#fe0001 339.5px,#e2001d 371.5px,#ba0045 401.5px,#af0051 420.5px,#990067 440.5px,#8e0072 489.5px,#970069 510.5px,#b80048 551.5px,#b90046 563.5px)"></i>
<i style="background:linear-gradient(90deg,#d80027 63.5px,#de0021 72.5px,#f1000e 82.5px,#ff0200 101.5px,#ff4800 130.5px,#ff5500 143.5px,#ff6a00 189.5px,#ff7300 226.5px,#ff6700 265.5px,#ff5000 305.5px,#ff2b00 322.5px,#fe0001 339.5px,#e2001d 371.5px,#bb0045 401.5px,#af0050 420.5px,#990067 441.5px,#8e0072 491.5px,#9b0065 515.5px,#b80048 552.5px,#b90046 563.5px)"></i>
<i style="background:linear-gradient(90deg,#d80027 63.5px,#dd0022 72.5px,#f1000e 82.5px,#ff0300 102.5px,#ff4600 130.5px,#ff5500 143.5px,#ff6500 181.5px,#ff7200 221.5px,#ff6a00 258.5px,#ff5000 305.5px,#ff2600 324.5px,#fe0001 339.5px,#e4001c 370.5px,#bb0045 401.5px,#b0004f 420.5px,#990067 441.5px,#8e0072 491.5px,#9b0065 515.5px,#b80048 552.5px,#b90046 563.5px)"></i>
<i style="background:linear-gradient(90deg,#d80028 64.5px,#dc0023 72.5px,#f1000e 83.5px,#ff0300 103.5px,#ff4700 131.5px,#ff5500 145.5px,#ff6600 185.5px,#ff7100 223.5px,#ff6800 261.5px,#ff5100 304.5px,#ff3000 320.5px,#fe0001 339.5px,#e4001b 370.5px,#ba0045 402.5px,#b00050 421.5px,#990067 442.5px,#8f0071 490.5px,#980068 511.5px,#b80048 552.5px,#b90047 562.5px)"></i>
<i style="background:linear-gradient(90deg,#d80028 64.5px,#dc0024 72.5px,#f0000f 83.5px,#ff0200 103.5px,#ff4700 132.5px,#ff5500 146.5px,#ff6700 189.5px,#ff7000 226.5px,#ff6600 264.5px,#ff5100 304.5px,#ff3000 320.5px,#fe0001 339.5px,#e3001c 371.5px,#bb0045 402.5px,#b0004f 421.5px,#9a0066 441.5px,#8f0071 490.5px,#990066 513.5px,#b80048 552.5px,#b90047 562.5px)"></i>
<i style="background:linear-gradient(90deg,#d70028 64.5px,#db0024 72.5px,#f1000e 84.5px,#ff0200 104.5px,#ff4500 132.5px,#ff5500 146.5px,#ff6300 183.5px,#ff6f00 222.5px,#ff6700 261.5px,#ff4f00 305.5px,#ff2800 323.5px,#ff0000 339.5px,#f0000f 357.5px,#db0024 377.5px,#ba0045 403.5px,#b00050 422.5px,#990067 443.5px,#8f0071 492.5px,#9d0063 517.5px,#b80048 553.5px,#b90047 562.5px)"></i>
<i style="background:linear-gradient(90deg,#d70028 64.5px,#da0025 72.5px,#f1000e 84.5px,#fd0002 102.5px,#ff1400 112.5px,#ff4700 134.5px,#ff5500 148.5px,#ff6500 189.5px,#ff6f00 229.5px,#ff6100 272.5px,#ff4f00 305.5px,#ff2800 323.5px,#ff0000 339.5px,#ef0010 359.5px,#d60029 381.5px,#bb0045 403.5px,#b1004f 422.5px,#990066 443.5px,#900070 491.5px,#990067 512.5px,#b70048 552.5px,#b90047 562.5px)"></i>
<i style="background:linear-gradient(90deg,#d60029 65.5px,#db0024 73.5px,#f1000e 85.5px,#ff0100 105.5px,#ff4400 133.5px,#ff5500 148.5px,#ff6300 187.5px,#ff6e00 226.5px,#ff6400 265.5px,#ff4f00 305.5px,#ff2300 325.5px,#fd0002 340.5px,#e4001b 371.5px,#bc0044 402.5px,#b0004f 423.5px,#9a0066 442.5px,#900070 493.5px,#9d0063 517.5px,#b80048 553.5px,#b90047 561.5px)"></i>
<i style="background:linear-gradient(90deg,#d60029 65.5px,#da0025 73.5px,#f1000f 85.5px,#fd0003 103.5px,#ff0900 109.5px,#ff4400 134.5px,#ff5500 149.5px,#ff6200 187.5px,#ff6d00 226.5px,#ff6300 267.5px,#ff5000 304.5px,#ff2d00 321.5px,#ff0000 339.5px,#f00010 359.5px,#d80027 380.5px,#bb0045 404.5px,#b2004d 422.5px,#9a0066 443.5px,#900070 492.5px,#9d0063 517.5px,#b80048 553.5px,#b90047 561.5px)"></i>
<i style="background:linear-gradient(90deg,#d5002a 65.5px,#dd0022 75.5px,#f0000f 85.5px,#fe0001 105.5px,#ff4700 137.5px,#ff5500 151.5px,#ff6200 189.5px,#ff6c00 227.5px,#ff6200 268.5px,#ff5000 304.5px,#ff2800 323.5px,#ff0000 339.5px,#f0000f 358.5px,#da0025 379.5px,#bb0044 404.5px,#b1004f 424.5px,#9a0066 443.5px,#91006f 492.5px,#9b0065 515.5px,#b80048 553.5px,#b90047 561.5px)"></i>
<i style="background:linear-gradient(90deg,#d5002a 66.5px,#da0025 74.5px,#f1000e 86.5px,#fc0003 104.5px,#ff0800 110.5px,#ff4600 137.5px,#ff5500 153.5px,#ff6b00 223.5px,#ff6400 262.5px,#ff4f00 304.5px,#ff2800 323.5px,#ff0000 339.5px,#ef0010 360.5px,#d5002a 383.5px,#bb0045 405.5px,#b1004e 424.5px,#9a0066 444.5px,#91006f 494.5px,#9e0062 518.5px,#b80048 553.5px,#b90047 560.5px)"></i>
<i style="background:linear-gradient(90deg,#d5002b 66.5px,#d90026 74.5px,#f1000e 87.5px,#fc0003 105.5px,#ff0800 111.5px,#ff4600 138.5px,#ff5500 154.5px,#ff6200 192.5px,#ff6b00 233.5px,#ff5b00 281.5px,#ff4f00 304.5px,#ff2800 323.5px,#fe0001 340.5px,#f1000e 357.5px,#de0022 377.5px,#bb0044 405.5px,#b2004d 424.5px,#9a0066 445.5px,#91006e 493.5px,#9b0065 514.5px,#b80048 553.5px,#b90047 560.5px)"></i>
<i style="background:linear-gradient(90deg,#d4002b 66.5px,#d80027 74.5px,#f0000f 87.5px,#fe0001 107.5px,#ff4900 141.5px,#ff5500 156.5px,#ff6a00 226.5px,#ff6100 268.5px,#ff4f00 304.5px,#ff2800 323.5px,#fe0001 340.5px,#f1000e 357.5px,#dd0023 378.5px,#bb0044 406.5px,#b2004e 425.5px,#9b0065 444.5px,#92006e 490.5px,#990067 512.5px,#b80048 553.5px,#b90047 560.5px)"></i>
<i style="background:linear-gradient(90deg,#d4002b 67.5px,#d90026 75.5px,#f0000f 87.5px,#fc0003 106.5px,#ff0500 111.5px,#ff4600 140.5px,#ff5500 156.5px,#ff6200 196.5px,#ff6900 235.5px,#ff5900 284.5px,#ff4f00 304.5px,#ff2300 325.5px,#fe0001 340.5px,#f1000e 357.5px,#d90026 381.5px,#bb0045 407.5px,#b2004d 425.5px,#9a0066 446.5px,#92006e 495.5px,#a00060 521.5px,#b80048 554.5px,#b90047 559.5px)"></i>
<i style="background:linear-gradient(90deg,#d4002c 67.5px,#da0026 76.5px,#f0000f 88.5px,#fe0001 109.5px,#ff4400 140.5px,#ff5500 157.5px,#ff6900 229.5px,#ff5d00 275.5px,#ff5000 303.5px,#ff2300 325.5px,#fe0001 340.5px,#ef0010 361.5px,#d70028 383.5px,#bb0044 407.5px,#b2004e 426.5px,#9a0065 446.5px,#92006e 492.5px,#9d0063 517.5px,#b80048 553.5px,#b90047 559.5px)"></i>
<i style="background:linear-gradient(90deg,#d3002c 67.5px,#d90027 76.5px,#f0000f 88.5px,#fc0003 108.5px,#ff0800 114.5px,#ff4200 140.5px,#ff5400 156.5px,#ff6800 229.5px,#ff5d00 274.5px,#ff5100 302.5px,#ff2300 325.5px,#fe0001 340.5px,#ef0010 361.5px,#d60029 384.5px,#bc0044 407.5px,#b2004e 427.5px,#9b0065 446.5px,#93006d 492.5px,#9b0065 514.5px,#b80047 555.5px,#b90047 559.5px)"></i>
<i style="background:linear-gradient(90deg,#d3002c 67.5px,#d70028 76.5px,#f0000f 89.5px,#fb0004 108.5px,#ff0600 114.5px,#ff4200 141.5px,#ff5500 160.5px,#ff6700 229.5px,#ff5e00 272.5px,#ff4e00 304.5px,#ff2300 325.5px,#fe0001 340.5px,#f00010 361.5px,#d80027 383.5px,#bc0043 407.5px,#b2004d 427.5px,#9b0065 447.5px,#93006d 495.5px,#9f0060 520.5px,#b80047 555.5px,#b90047 559.5px)"></i>
<i style="background:linear-gradient(90deg,#d3002c 68.5px,#d60029 76.5px,#f00010 89.5px,#fc0003 109.5px,#ff0400 114.5px,#ff4000 141.5px,#ff5400 158.5px,#ff6700 232.5px,#ff5a00 280.5px,#ff4f00 303.5px,#ff2700 323.5px,#fe0001 340.5px,#f0000f 360.5px,#da0026 382.5px,#bb0044 409.5px,#b2004e 428.5px,#9b0065 447.5px,#93006d 493.5px,#9e0062 518.5px,#b80047 555.5px,#b90047 558.5px)"></i>
<i style="background:linear-gradient(90deg,#d3002d 68.5px,#d70028 77.5px,#f0000f 90.5px,#fc0003 110.5px,#ff0500 115.5px,#ff4400 144.5px,#ff5500 162.5px,#ff6600 232.5px,#ff5b00 278.5px,#ff4e00 303.5px,#ff3100 319.5px,#fe0001 340.5px,#f0000f 360.5px,#da0025 382.5px,#bc0044 409.5px,#b3004d 428.5px,#9b0065 448.5px,#94006c 493.5px,#9c0064 515.5px,#b80047 556.5px,#b90047 558.5px)"></i>
<i style="background:linear-gradient(90deg,#d3002d 68.5px,#d60029 77.5px,#f0000f 91.5px,#fd0002 112.5px,#ff1a00 125.5px,#ff4600 147.5px,#ff5400 162.5px,#ff6500 231.5px,#ff5d00 272.5px,#ff4f00 302.5px,#ff2e00 320.5px,#ff0000 340.5px,#f1000e 358.5px,#e0001f 378.5px,#bd0043 408.5px,#b2004e 429.5px,#9b0065 448.5px,#94006c 497.5px,#a2005e 523.5px,#b90047 557.5px,#b90047 558.5px)"></i>
<i style="background:linear-gradient(90deg,#d2002d 69.5px,#d70028 78.5px,#ef0010 91.5px,#fd0002 113.5px,#ff1800 125.5px,#ff4500 147.5px,#ff5400 163.5px,#ff6500 233.5px,#ff5900 282.5px,#ff4d00 304.5px,#ff1c00 328.5px,#fe0001 341.5px,#f1000e 358.5px,#e2001e 377.5px,#bd0042 408.5px,#b2004e 430.5px,#9b0065 449.5px,#94006b 495.5px,#9d0063 516.5px,#b90047 557.5px)"></i>
<i style="background:linear-gradient(90deg,#d2002d 69.5px,#d60029 78.5px,#f0000f 92.5px,#fc0003 112.5px,#ff0600 118.5px,#ff4200 146.5px,#ff5400 165.5px,#ff6400 233.5px,#ff5a00 279.5px,#ff4e00 303.5px,#ff2000 326.5px,#fe0001 341.5px,#f1000e 359.5px,#e1001f 378.5px,#bc0043 410.5px,#b2004d 430.5px,#9b0065 449.5px,#95006b 497.5px,#a2005e 523.5px,#b90047 557.5px)"></i>
<i style="background:linear-gradient(90deg,#d2002e 69.5px,#d5002a 78.5px,#ef0010 92.5px,#fd0002 114.5px,#ff0900 120.5px,#ff4200 147.5px,#ff5400 166.5px,#ff6400 235.5px,#ff5500 293.5px,#ff4600 308.5px,#ff0e00 334.5px,#fe0001 341.5px,#f1000e 359.5px,#e0001f 379.5px,#bd0043 410.5px,#b2004e 431.5px,#9b0065 450.5px,#95006b 498.5px,#a4005c 526.5px,#b80047 557.5px)"></i>
<i style="background:linear-gradient(90deg,#d1002e 69.5px,#d60029 79.5px,#f0000f 93.5px,#fb0004 113.5px,#ff0200 118.5px,#ff4000 147.5px,#ff5400 167.5px,#ff6300 235.5px,#ff5800 284.5px,#ff4c00 304.5px,#ff1c00 328.5px,#fe0001 341.5px,#f1000e 359.5px,#df0020 380.5px,#bd0042 410.5px,#b3004d 431.5px,#9b0064 450.5px,#95006b 495.5px,#a00060 520.5px,#b80048 557.5px)"></i>
<i style="background:linear-gradient(90deg,#d1002e 70.5px,#d4002b 78.5px,#f0000f 94.5px,#fc0003 115.5px,#ff0700 121.5px,#ff4000 148.5px,#ff5400 168.5px,#ff6300 238.5px,#ff5300 296.5px,#ff3f00 312.5px,#fe0001 341.5px,#f1000e 360.5px,#e00020 380.5px,#bd0042 411.5px,#b2004e 432.5px,#9c0064 450.5px,#95006a 494.5px,#9f0061 519.5px,#b70048 556.5px)"></i>
<i style="background:linear-gradient(90deg,#d1002f 70.5px,#d5002a 79.5px,#ef0010 94.5px,#fe0001 118.5px,#ff4400 152.5px,#ff5400 170.5px,#ff6200 236.5px,#ff5500 293.5px,#ff4400 309.5px,#fe0001 341.5px,#f1000e 360.5px,#df0020 381.5px,#be0042 411.5px,#b3004d 432.5px,#9b0065 452.5px,#96006a 499.5px,#a5005b 527.5px,#b70049 556.5px)"></i>
<i style="background:linear-gradient(90deg,#d1002f 70.5px,#d4002b 79.5px,#ef0010 95.5px,#fd0002 117.5px,#ff0800 123.5px,#ff3e00 149.5px,#ff5400 171.5px,#ff6200 241.5px,#ff5200 297.5px,#ff3b00 314.5px,#fe0001 341.5px,#f1000e 360.5px,#df0020 381.5px,#bd0043 413.5px,#b2004d 433.5px,#9c0064 451.5px,#96006a 496.5px,#a2005e 523.5px,#b70049 556.5px)"></i>
<i style="background:linear-gradient(90deg,#d0002f 71.5px,#d70029 81.5px,#ef0010 95.5px,#fb0004 116.5px,#ff0400 122.5px,#ff3e00 150.5px,#ff5400 172.5px,#ff6100 238.5px,#ff5400 294.5px,#ff4200 310.5px,#ff0001 341.5px,#f1000e 360.5px,#e1001e 380.5px,#bd0043 413.5px,#b2004e 434.5px,#9c0064 452.5px,#960069 495.5px,#a00060 520.5px,#b6004a 555.5px)"></i>
<i style="background:linear-gradient(90deg,#d00030 71.5px,#d60029 81.5px,#ef0010 96.5px,#fd0002 119.5px,#ff0900 125.5px,#ff3e00 151.5px,#ff5400 173.5px,#ff6100 242.5px,#ff5200 297.5px,#ff3b00 314.5px,#ff0000 341.5px,#f1000e 361.5px,#de0021 383.5px,#bd0042 413.5px,#b2004d 434.5px,#9c0064 452.5px,#970069 499.5px,#a70059 530.5px,#b6004a 555.5px)"></i>
<i style="background:linear-gradient(90deg,#cf0030 71.5px,#d5002a 81.5px,#ef0010 97.5px,#fd0002 120.5px,#ff0900 126.5px,#ff3e00 152.5px,#ff5400 174.5px,#ff6000 240.5px,#ff5300 296.5px,#ff3b00 314.5px,#fe0001 342.5px,#f1000e 361.5px,#df0020 382.5px,#bc0044 416.5px,#b2004e 435.5px,#9c0064 453.5px,#970069 497.5px,#a4005c 526.5px,#b5004a 555.5px)"></i>
<i style="background:linear-gradient(90deg,#cf0030 71.5px,#d60029 82.5px,#ef0010 98.5px,#fd0002 121.5px,#ff4200 156.5px,#ff5400 176.5px,#ff6000 243.5px,#ff5200 297.5px,#ff3900 315.5px,#fe0001 342.5px,#f0000f 363.5px,#df0020 383.5px,#bd0043 415.5px,#b2004d 435.5px,#9c0064 453.5px,#980068 497.5px,#a2005e 523.5px,#b5004b 555.5px)"></i>
<i style="background:linear-gradient(90deg,#cf0030 72.5px,#d5002a 82.5px,#ef0010 98.5px,#fb0004 119.5px,#ff0300 125.5px,#ff3e00 154.5px,#ff5400 177.5px,#ff5f00 241.5px,#ff5300 296.5px,#ff3b00 314.5px,#fe0001 342.5px,#f0000f 364.5px,#d6002a 391.5px,#bb0045 419.5px,#b3004d 435.5px,#9c0064 454.5px,#980068 500.5px,#ac0054 538.5px,#b3004c 554.5px)"></i>
<i style="background:linear-gradient(90deg,#cf0031 72.5px,#d4002b 82.5px,#f0000f 100.5px,#fa0005 119.5px,#ff0400 126.5px,#ff3f00 156.5px,#ff5400 178.5px,#ff5f00 244.5px,#ff5200 297.5px,#ff3900 315.5px,#fe0001 342.5px,#f0000f 364.5px,#cf0030 397.5px,#ba0045 421.5px,#b2004e 436.5px,#9c0063 454.5px,#980068 497.5px,#a4005c 526.5px,#b3004d 554.5px)"></i>
<i style="background:linear-gradient(90deg,#cf0031 72.5px,#d5002a 83.5px,#f0000f 101.5px,#fb0004 121.5px,#ff0400 127.5px,#ff3f00 157.5px,#ff5400 179.5px,#ff5f00 245.5px,#ff5200 297.5px,#ff3900 315.5px,#fe0001 342.5px,#f0000f 364.5px,#de0021 385.5px,#bd0043 417.5px,#b1004e 437.5px,#9c0064 455.5px,#990067 502.5px,#b2004d 554.5px)"></i>
<i style="background:linear-gradient(90deg,#cf0031 73.5px,#d4002b 83.5px,#f00010 101.5px,#fb0004 122.5px,#ff0300 127.5px,#ff3c00 156.5px,#ff5400 180.5px,#ff5e00 245.5px,#ff5200 297.5px,#ff3900 315.5px,#ff0000 342.5px,#f0000f 364.5px,#de0021 385.5px,#bc0044 419.5px,#b3004c 436.5px,#9c0064 456.5px,#990067 500.5px,#a80058 533.5px,#b2004e 553.5px)"></i>
<i style="background:linear-gradient(90deg,#ce0031 73.5px,#d5002a 84.5px,#f0000f 102.5px,#fc0003 124.5px,#ff0900 131.5px,#ff3c00 157.5px,#ff5300 180.5px,#ff5e00 246.5px,#ff5200 297.5px,#ff3b00 314.5px,#fe0001 343.5px,#f0000f 365.5px,#de0022 386.5px,#bb0045 421.5px,#b2004d 437.5px,#9d0063 455.5px,#990067 498.5px,#a6005a 530.5px,#b1004e 553.5px)"></i>
<i style="background:linear-gradient(90deg,#ce0031 73.5px,#d4002b 84.5px,#f0000f 103.5px,#fa0005 122.5px,#ff0300 129.5px,#ff3c00 158.5px,#ff5300 181.5px,#ff5e00 245.5px,#ff5200 297.5px,#ff3800 316.5px,#fe0001 343.5px,#f0000f 365.5px,#dd0022 387.5px,#bb0044 421.5px,#b2004e 438.5px,#9c0063 457.5px,#9a0066 499.5px,#a5005a 529.5px,#b1004f 553.5px)"></i>
<i style="background:linear-gradient(90deg,#ce0031 73.5px,#d4002c 84.5px,#ef0010 103.5px,#fc0003 125.5px,#ff0600 131.5px,#ff3c00 159.5px,#ff5300 182.5px,#ff5d00 246.5px,#ff5200 297.5px,#ff3a00 315.5px,#fe0001 343.5px,#f0000f 366.5px,#cf0030 399.5px,#ba0046 425.5px,#b2004d 438.5px,#9d0063 456.5px,#9a0066 501.5px,#b00050 553.5px)"></i>
<i style="background:linear-gradient(90deg,#ce0031 74.5px,#d3002c 84.5px,#ef0010 103.5px,#fc0003 126.5px,#ff0600 132.5px,#ff3b00 159.5px,#ff5300 183.5px,#ff5d00 249.5px,#ff5200 297.5px,#ff3a00 315.5px,#fe0001 343.5px,#ef0010 368.5px,#d2002d 397.5px,#ba0045 424.5px,#b3004d 438.5px,#9c0063 458.5px,#9a0066 499.5px,#a80058 534.5px,#af0051 552.5px)"></i>
<i style="background:linear-gradient(90deg,#ce0031 74.5px,#d4002c 85.5px,#ef0010 104.5px,#fc0003 127.5px,#ff0900 134.5px,#ff3e00 162.5px,#ff5400 185.5px,#ff5c00 249.5px,#ff5200 298.5px,#ff3400 318.5px,#ff0000 343.5px,#f1000e 364.5px,#e2001d 384.5px,#bd0043 420.5px,#b2004e 439.5px,#9d0063 458.5px,#9a0065 498.5px,#a6005a 530.5px,#ae0051 552.5px)"></i>
<i style="background:linear-gradient(90deg,#ce0031 74.5px,#d4002b 86.5px,#ef0010 105.5px,#fb0004 126.5px,#ff0500 133.5px,#ff3e00 163.5px,#ff5400 186.5px,#ff5c00 251.5px,#ff5200 298.5px,#ff3700 317.5px,#fe0001 344.5px,#f1000e 365.5px,#dc0023 389.5px,#bb0044 423.5px,#b1004e 440.5px,#9d0063 458.5px,#9d0063 512.5px,#ae0052 552.5px)"></i>
<i style="background:linear-gradient(90deg,#ce0032 75.5px,#d4002c 86.5px,#ef0010 106.5px,#fb0004 127.5px,#ff0400 133.5px,#ff3e00 164.5px,#ff5400 187.5px,#ff5c00 254.5px,#ff5100 299.5px,#ff3300 319.5px,#fe0001 344.5px,#f1000e 365.5px,#df0020 387.5px,#bb0045 424.5px,#b2004e 440.5px,#9d0063 459.5px,#9c0064 507.5px,#ae0052 551.5px)"></i>
<i style="background:linear-gradient(90deg,#ce0032 75.5px,#d4002b 87.5px,#ef0010 106.5px,#fb0004 128.5px,#ff0400 134.5px,#ff3b00 163.5px,#ff5400 188.5px,#ff5b00 252.5px,#ff5200 298.5px,#ff3900 316.5px,#fd0002 345.5px,#f0000f 368.5px,#cf0030 401.5px,#b90046 428.5px,#b00050 442.5px,#9c0064 462.5px,#9d0062 511.5px,#ad0052 551.5px)"></i>
<i style="background:linear-gradient(90deg,#cd0032 75.5px,#d4002c 87.5px,#f0000f 108.5px,#fc0003 130.5px,#ff0900 137.5px,#ff3e00 166.5px,#ff5400 189.5px,#ff5b00 255.5px,#ff5100 300.5px,#ff3100 320.5px,#fe0001 345.5px,#f1000e 365.5px,#e2001d 385.5px,#bc0043 423.5px,#b1004e 441.5px,#9d0063 460.5px,#9d0063 509.5px,#ad0053 551.5px)"></i>
<i style="background:linear-gradient(90deg,#cd0032 75.5px,#d3002c 87.5px,#f0000f 109.5px,#fa0005 128.5px,#ff0300 135.5px,#ff3a00 164.5px,#ff5400 190.5px,#ff5b00 258.5px,#ff5100 300.5px,#ff3200 320.5px,#ff0000 344.5px,#f1000e 365.5px,#e3001c 385.5px,#bd0043 422.5px,#b1004f 442.5px,#9d0063 462.5px,#9e0062 512.5px,#ac0053 551.5px)"></i>
<i style="background:linear-gradient(90deg,#cd0033 76.5px,#d2002d 87.5px,#f00010 109.5px,#fb0004 130.5px,#ff0400 136.5px,#ff3d00 167.5px,#ff5400 191.5px,#ff5b00 256.5px,#ff5100 300.5px,#ff3400 319.5px,#fe0001 345.5px,#f1000e 366.5px,#e0001f 388.5px,#bb0044 425.5px,#b1004f 442.5px,#9d0063 462.5px,#9e0062 511.5px,#ac0054 550.5px)"></i>
<i style="background:linear-gradient(90deg,#cd0033 76.5px,#d3002d 88.5px,#f0000f 110.5px,#fc0003 132.5px,#ff0600 138.5px,#ff3c00 167.5px,#ff5400 191.5px,#ff5a00 257.5px,#ff5100 300.5px,#ff3600 318.5px,#fe0001 345.5px,#f1000e 367.5px,#df0020 389.5px,#bc0044 425.5px,#b0004f 443.5px,#9d0063 463.5px,#9f0061 514.5px,#ab0054 550.5px)"></i>
<i style="background:linear-gradient(90deg,#cc0033 76.5px,#d3002c 89.5px,#ef0010 110.5px,#fb0004 131.5px,#ff0500 138.5px,#ff3c00 168.5px,#ff5400 192.5px,#ff5a00 262.5px,#ff5100 301.5px,#ff2f00 322.5px,#fd0002 346.5px,#f0000f 369.5px,#db0024 393.5px,#bb0044 426.5px,#b1004f 443.5px,#9d0063 463.5px,#9f0060 514.5px,#ab0055 550.5px)"></i>
<i style="background:linear-gradient(90deg,#cc0033 77.5px,#d3002d 89.5px,#ef0010 110.5px,#fc0003 133.5px,#ff0600 139.5px,#ff3e00 170.5px,#ff5400 193.5px,#ff5a00 261.5px,#ff5100 301.5px,#ff3100 321.5px,#fe0001 346.5px,#f1000e 367.5px,#e0001f 389.5px,#bc0043 425.5px,#b00050 444.5px,#9d0063 464.5px,#a0005f 517.5px,#ab0055 549.5px)"></i>
<i style="background:linear-gradient(90deg,#cc0033 77.5px,#d2002d 89.5px,#f0000f 112.5px,#fc0003 134.5px,#ff0600 140.5px,#ff3d00 170.5px,#ff5400 194.5px,#ff5a00 259.5px,#ff5100 301.5px,#ff3500 319.5px,#fe0001 346.5px,#f1000e 367.5px,#e3001d 387.5px,#bc0044 426.5px,#b0004f 444.5px,#9d0063 464.5px,#a1005f 519.5px,#aa0055 549.5px)"></i>
<i style="background:linear-gradient(90deg,#cc0033 77.5px,#d1002e 89.5px,#ef0010 111.5px,#fb0004 133.5px,#ff0500 140.5px,#ff3d00 171.5px,#ff5500 196.5px,#ff5900 268.5px,#ff5100 301.5px,#ff3400 320.5px,#fe0001 346.5px,#f1000e 368.5px,#e1001e 389.5px,#bb0044 427.5px,#b1004f 444.5px,#9d0063 465.5px,#a2005d 522.5px,#aa0056 549.5px)"></i>
<i style="background:linear-gradient(90deg,#cc0033 77.5px,#d1002f 89.5px,#ef0010 112.5px,#fc0003 135.5px,#ff0700 142.5px,#ff3c00 171.5px,#ff5400 195.5px,#ff5900 265.5px,#ff5100 302.5px,#ff2e00 323.5px,#fe0001 346.5px,#f1000e 368.5px,#e2001d 388.5px,#bc0043 426.5px,#b00050 445.5px,#9d0062 465.5px,#a2005e 521.5px,#a90056 549.5px)"></i>
<i style="background:linear-gradient(90deg,#cc0033 78.5px,#d1002e 90.5px,#ef0010 113.5px,#fd0002 137.5px,#ff0c00 145.5px,#ff3f00 174.5px,#ff5400 196.5px,#ff5900 266.5px,#ff5100 302.5px,#ff3100 322.5px,#fe0001 347.5px,#f1000e 368.5px,#e3001c 388.5px,#bd0043 425.5px,#af0050 446.5px,#9e0062 465.5px,#a2005d 521.5px,#a90057 548.5px)"></i>
<i style="background:linear-gradient(90deg,#cc0034 78.5px,#d0002f 90.5px,#ef0011 113.5px,#fc0003 136.5px,#ff0700 143.5px,#ff3e00 174.5px,#ff5500 198.5px,#ff5800 274.5px,#ff5100 302.5px,#ff3500 320.5px,#fe0001 347.5px,#f1000e 369.5px,#e0001f 391.5px,#bb0044 428.5px,#b00050 446.5px,#9e0062 466.5px,#a3005c 524.5px,#a90057 548.5px)"></i>
<i style="background:linear-gradient(90deg,#cc0034 78.5px,#d00030 90.5px,#ef0010 114.5px,#fc0003 137.5px,#ff0700 144.5px,#ff3d00 174.5px,#ff5400 197.5px,#ff5800 265.5px,#ff5200 301.5px,#ff3700 319.5px,#fe0001 347.5px,#f1000e 369.5px,#e2001d 389.5px,#bc0044 427.5px,#b00050 446.5px,#9e0061 467.5px,#a4005c 526.5px,#a90057 548.5px)"></i>
<i style="background:linear-gradient(90deg,#cc0034 79.5px,#d0002f 91.5px,#ef0010 115.5px,#fd0002 139.5px,#ff0c00 147.5px,#ff4000 177.5px,#ff5400 198.5px,#ff5800 270.5px,#ff5100 303.5px,#ff2e00 324.5px,#fe0001 347.5px,#f1000e 370.5px,#e1001f 391.5px,#bb0045 429.5px,#ae0051 448.5px,#9f0061 467.5px,#a4005c 526.5px,#a80057 547.5px)"></i>
<i style="background:linear-gradient(90deg,#cb0034 79.5px,#d00030 91.5px,#ee0011 114.5px,#fd0002 139.5px,#ff0900 146.5px,#ff4100 178.5px,#ff5500 201.5px,#ff5800 272.5px,#ff5100 303.5px,#ff2e00 324.5px,#fe0001 347.5px,#f1000e 370.5px,#e1001e 391.5px,#bb0044 429.5px,#ad0053 450.5px,#9f0061 469.5px,#a5005a 531.5px,#a80058 547.5px)"></i>
<i style="background:linear-gradient(90deg,#cb0034 79.5px,#cf0030 91.5px,#ef0010 116.5px,#fd0002 140.5px,#ff0c00 148.5px,#ff4100 179.5px,#ff5400 199.5px,#ff5800 271.5px,#ff5100 303.5px,#ff3400 321.5px,#fe0001 348.5px,#f1000e 370.5px,#e2001d 390.5px,#bc0044 428.5px,#ae0052 449.5px,#a00060 469.5px,#a4005b 527.5px,#a80058 547.5px)"></i>
<i style="background:linear-gradient(90deg,#cb0035 80.5px,#d00030 92.5px,#ef0010 117.5px,#fe0001 142.5px,#ff4000 179.5px,#ff5400 200.5px,#ff5800 270.5px,#ff5100 304.5px,#ff2d00 325.5px,#fe0001 348.5px,#f1000e 370.5px,#e3001d 390.5px,#bb0045 430.5px,#ab0054 452.5px,#a00060 472.5px,#a6005a 534.5px,#a80058 546.5px)"></i>
<i style="background:linear-gradient(90deg,#cb0035 80.5px,#d0002f 93.5px,#ef0010 117.5px,#fc0003 140.5px,#ff0700 147.5px,#ff3e00 178.5px,#ff5500 202.5px,#ff5500 299.5px,#ff4100 315.5px,#fe0001 348.5px,#f1000e 371.5px,#e1001e 392.5px,#bc0044 428.5px,#ae0052 450.5px,#a1005f 470.5px,#a5005a 531.5px,#a80058 546.5px)"></i>
<i style="background:linear-gradient(90deg,#cb0035 80.5px,#cf0031 92.5px,#ef0010 118.5px,#fd0002 142.5px,#ff0c00 150.5px,#ff4100 181.5px,#ff5400 201.5px,#ff5700 280.5px,#ff5100 304.5px,#ff3300 322.5px,#fe0001 348.5px,#f1000e 372.5px,#df0020 394.5px,#ba0045 431.5px,#ab0055 454.5px,#a1005f 474.5px,#a60059 536.5px,#a70058 546.5px)"></i>
<i style="background:linear-gradient(90deg,#cb0035 80.5px,#cf0030 93.5px,#ef0010 118.5px,#fc0003 141.5px,#ff0700 148.5px,#ff3f00 180.5px,#ff5500 203.5px,#ff5500 300.5px,#ff3e00 317.5px,#fe0001 348.5px,#f1000e 372.5px,#e1001e 392.5px,#bb0045 430.5px,#ad0053 452.5px,#a1005f 476.5px,#a70058 546.5px)"></i>
<i style="background:linear-gradient(90deg,#ca0035 81.5px,#cf0031 93.5px,#f0000f 120.5px,#fc0003 142.5px,#ff0600 148.5px,#ff3e00 180.5px,#ff5400 202.5px,#ff5700 279.5px,#ff5100 305.5px,#ff2800 328.5px,#fe0001 349.5px,#f1000e 372.5px,#e2001e 392.5px,#ba0046 432.5px,#ad0053 453.5px,#a2005e 475.5px,#a60059 537.5px,#a70059 545.5px)"></i>
<i style="background:linear-gradient(90deg,#ca0036 81.5px,#cf0030 94.5px,#ef0010 119.5px,#fc0003 142.5px,#ff0700 149.5px,#ff4000 182.5px,#ff5400 203.5px,#ff5700 279.5px,#ff5100 305.5px,#ff2a00 327.5px,#fe0001 349.5px,#f1000e 372.5px,#e2001d 392.5px,#bc0044 429.5px,#ab0055 456.5px,#a2005e 479.5px,#a70059 545.5px)"></i>
<i style="background:linear-gradient(90deg,#c90036 81.5px,#d0002f 95.5px,#f0000f 121.5px,#fc0003 143.5px,#ff0600 149.5px,#ff3f00 182.5px,#ff5500 205.5px,#ff5500 300.5px,#ff4400 314.5px,#fe0001 349.5px,#f1000e 373.5px,#df0020 395.5px,#ba0045 432.5px,#ab0054 456.5px,#a2005d 478.5px,#a70059 545.5px)"></i>
<i style="background:linear-gradient(90deg,#c90036 82.5px,#cf0030 95.5px,#ef0010 120.5px,#fc0003 143.5px,#ff0700 150.5px,#ff4100 184.5px,#ff5400 204.5px,#ff5600 284.5px,#ff5200 304.5px,#ff3500 322.5px,#fe0001 349.5px,#f1000e 373.5px,#e1001e 393.5px,#bb0045 431.5px,#a3005d 476.5px,#a70059 544.5px)"></i>
<i style="background:linear-gradient(90deg,#c90036 82.5px,#cf0031 95.5px,#ef0010 121.5px,#fe0001 146.5px,#ff4300 186.5px,#ff5500 207.5px,#ff5400 302.5px,#ff3f00 317.5px,#fe0001 349.5px,#f0000f 376.5px,#cf0030 409.5px,#b90046 434.5px,#a4005c 476.5px,#a70059 544.5px)"></i>
<i style="background:linear-gradient(90deg,#c90037 82.5px,#cf0030 96.5px,#f0000f 122.5px,#fc0003 144.5px,#ff0700 151.5px,#ff3e00 183.5px,#ff5400 205.5px,#ff5400 303.5px,#ff3900 320.5px,#ff0000 349.5px,#f1000e 373.5px,#e1001e 394.5px,#bb0045 431.5px,#a4005c 477.5px,#a70059 544.5px)"></i>
<i style="background:linear-gradient(90deg,#c90037 82.5px,#cf0031 96.5px,#ef0010 121.5px,#fc0003 145.5px,#ff0600 151.5px,#ff4000 185.5px,#ff5400 206.5px,#ff5400 303.5px,#ff3800 321.5px,#fe0001 350.5px,#f0000f 376.5px,#d00030 409.5px,#b90046 435.5px,#a5005b 477.5px,#a70059 544.5px)"></i>
<i style="background:linear-gradient(90deg,#c90037 83.5px,#cf0030 97.5px,#f0000f 123.5px,#fc0003 145.5px,#ff0700 152.5px,#ff4100 186.5px,#ff5500 208.5px,#ff5400 303.5px,#ff3800 321.5px,#fe0001 350.5px,#e80018 388.5px,#bb0044 431.5px,#a5005b 478.5px,#a70059 543.5px)"></i>
<i style="background:linear-gradient(90deg,#c90037 83.5px,#cd0033 95.5px,#f00010 123.5px,#fb0004 144.5px,#ff0400 151.5px,#ff4000 186.5px,#ff5400 207.5px,#ff5400 303.5px,#ff3c00 319.5px,#fe0001 350.5px,#f0000f 377.5px,#cf0030 410.5px,#b90047 436.5px,#a5005b 480.5px,#a70059 543.5px)"></i>
<i style="background:linear-gradient(90deg,#c80037 83.5px,#ce0031 97.5px,#ef0010 123.5px,#fd0002 147.5px,#ff0900 154.5px,#ff4200 188.5px,#ff5500 210.5px,#ff5400 303.5px,#ff3c00 319.5px,#fe0001 350.5px,#f0000f 377.5px,#cf0030 410.5px,#b90047 436.5px,#a6005a 479.5px,#a70059 543.5px)"></i>
<i style="background:linear-gradient(90deg,#c80037 84.5px,#ce0032 97.5px,#f0000f 124.5px,#fb0004 145.5px,#ff0600 153.5px,#ff4000 187.5px,#ff5400 208.5px,#ff5400 304.5px,#ff3200 324.5px,#ff0000 350.5px,#f1000e 374.5px,#e1001e 395.5px,#bb0045 432.5px,#a6005a 481.5px,#a70059 542.5px)"></i>
<i style="background:linear-gradient(90deg,#c80037 84.5px,#ce0031 98.5px,#ef0010 123.5px,#fc0003 147.5px,#ff0700 154.5px,#ff3f00 187.5px,#ff5500 210.5px,#ff5400 304.5px,#ff3500 323.5px,#ff0000 350.5px,#f1000e 375.5px,#df0021 397.5px,#ba0046 434.5px,#a6005a 483.5px,#a70059 542.5px)"></i>
<i style="background:linear-gradient(90deg,#c80037 84.5px,#cd0033 97.5px,#f0000f 125.5px,#fc0003 147.5px,#ff0800 155.5px,#ff4000 188.5px,#ff5400 209.5px,#ff5400 304.5px,#ff3100 325.5px,#ff0000 350.5px,#f0000f 377.5px,#dd0023 399.5px,#ba0046 434.5px,#a60059 483.5px,#a70059 542.5px)"></i>
<i style="background:linear-gradient(90deg,#c80037 84.5px,#cc0033 97.5px,#f00010 125.5px,#fc0003 148.5px,#ff0600 154.5px,#ff4200 190.5px,#ff5500 212.5px,#ff5400 304.5px,#ff3100 325.5px,#fe0001 351.5px,#e70018 390.5px,#bb0045 432.5px,#a70059 484.5px,#a70059 542.5px)"></i>
<i style="background:linear-gradient(90deg,#c70038 85.5px,#ce0031 99.5px,#ef0010 125.5px,#fe0001 150.5px,#ff4500 193.5px,#ff5500 213.5px,#ff5400 304.5px,#ff3100 325.5px,#fe0001 351.5px,#e60019 391.5px,#bb0044 432.5px,#a70059 485.5px,#a70059 541.5px)"></i>
<i style="background:linear-gradient(90deg,#c70038 85.5px,#ce0032 99.5px,#f0000f 126.5px,#fc0003 148.5px,#ff0800 156.5px,#ff4300 192.5px,#ff5500 213.5px,#ff5400 304.5px,#ff3100 325.5px,#fe0001 351.5px,#e60019 391.5px,#bb0044 432.5px,#a70058 485.5px,#a70058 541.5px)"></i>
<i style="background:linear-gradient(90deg,#c70039 85.5px,#ce0031 100.5px,#ef0010 125.5px,#fd0002 150.5px,#ff1200 162.5px,#ff4500 194.5px,#ff5500 214.5px,#ff5300 305.5px,#ff2900 329.5px,#fe0001 351.5px,#e60019 391.5px,#bb0044 432.5px,#a70058 487.5px,#a70058 541.5px)"></i>
<i style="background:linear-gradient(90deg,#c70039 86.5px,#ce0032 100.5px,#ef0010 126.5px,#fd0002 150.5px,#ff0c00 159.5px,#ff4300 193.5px,#ff5500 214.5px,#ff5300 305.5px,#ff2900 329.5px,#ff0000 351.5px,#f0000f 378.5px,#cf0030 411.5px,#b90047 437.5px,#a70058 491.5px,#a80058 540.5px)"></i>
<i style="background:linear-gradient(90deg,#c70039 86.5px,#cd0032 100.5px,#f0000f 127.5px,#fc0003 149.5px,#ff0400 155.5px,#ff4000 191.5px,#ff5400 212.5px,#ff5300 305.5px,#ff2900 329.5px,#ff0000 351.5px,#f0000f 378.5px,#d00030 411.5px,#b90047 437.5px,#a80058 491.5px,#a80058 540.5px)"></i>
<i style="background:linear-gradient(90deg,#c60039 86.5px,#cd0033 100.5px,#ef0010 126.5px,#fd0002 151.5px,#ff1200 163.5px,#ff4400 195.5px,#ff5500 215.5px,#ff5300 305.5px,#ff2900 329.5px,#fe0001 352.5px,#e80018 390.5px,#bb0045 433.5px,#a80058 492.5px,#a80058 540.5px)"></i>
<i style="background:linear-gradient(90deg,#c60039 86.5px,#cc0033 100.5px,#ef0010 127.5px,#fe0001 152.5px,#ff4600 197.5px,#ff5500 217.5px,#ff5300 305.5px,#ff2300 332.5px,#fe0001 352.5px,#e80018 390.5px,#ba0045 434.5px,#a80057 492.5px,#a80058 540.5px)"></i>
<i style="background:linear-gradient(90deg,#c60039 87.5px,#cc0034 100.5px,#ef0010 127.5px,#fe0001 153.5px,#ff4300 195.5px,#ff5500 216.5px,#ff5300 304.5px,#ff3300 324.5px,#fe0001 352.5px,#e70018 391.5px,#bb0044 433.5px,#a90057 492.5px,#a80058 539.5px)"></i>
<i style="background:linear-gradient(90deg,#c60039 87.5px,#cb0034 100.5px,#ef0010 127.5px,#fd0002 152.5px,#ff1200 164.5px,#ff4600 198.5px,#ff5500 218.5px,#ff5300 304.5px,#ff3100 325.5px,#fe0001 352.5px,#e60019 392.5px,#bb0044 433.5px,#a90057 494.5px,#a80057 539.5px)"></i>
<i style="background:linear-gradient(90deg,#c6003a 87.5px,#cc0033 101.5px,#ef0010 128.5px,#ff0300 156.5px,#ff4200 195.5px,#ff5500 217.5px,#ff5300 304.5px,#ff2b00 328.5px,#fe0001 352.5px,#e60019 392.5px,#bb0044 433.5px,#a90057 496.5px,#a80057 539.5px)"></i>
<i style="background:linear-gradient(90deg,#c6003a 88.5px,#cb0035 100.5px,#f0000f 129.5px,#fc0003 151.5px,#ff0400 157.5px,#ff4000 194.5px,#ff5400 216.5px,#ff5300 304.5px,#ff2b00 328.5px,#fe0001 352.5px,#e60019 392.5px,#bb0045 434.5px,#a90057 497.5px,#a90057 538.5px)"></i>
<i style="background:linear-gradient(90deg,#c6003a 88.5px,#ca0035 100.5px,#ef0010 128.5px,#fe0001 154.5px,#ff4300 197.5px,#ff5500 218.5px,#ff5300 303.5px,#ff3600 322.5px,#fe0001 352.5px,#e60019 392.5px,#bb0045 434.5px,#a90057 500.5px,#a90057 538.5px)"></i>
<i style="background:linear-gradient(90deg,#c6003a 88.5px,#cc0033 102.5px,#ef0011 128.5px,#fe0001 154.5px,#ff4400 198.5px,#ff5500 220.5px,#ff5300 303.5px,#ff3400 323.5px,#fe0001 352.5px,#e60019 392.5px,#bb0045 434.5px,#a90056 500.5px,#a90057 538.5px)"></i>
<i style="background:linear-gradient(90deg,#c6003a 88.5px,#cc0033 102.5px,#ef0010 129.5px,#ff0200 157.5px,#ff3e00 194.5px,#ff5400 217.5px,#ff5300 303.5px,#ff3000 325.5px,#fe0001 352.5px,#e60019 392.5px,#ba0046 436.5px,#a90056 504.5px,#a90056 538.5px)"></i>
<i style="background:linear-gradient(90deg,#c6003a 89.5px,#cd0032 103.5px,#ef0010 129.5px,#ff0200 157.5px,#ff3f00 195.5px,#ff5500 220.5px,#ff5300 302.5px,#ff3200 324.5px,#ff0000 352.5px,#f0000f 379.5px,#ce0032 414.5px,#b90046 438.5px,#aa0056 504.5px,#a90056 537.5px)"></i>
<i style="background:linear-gradient(90deg,#c6003a 89.5px,#cd0033 103.5px,#ef0010 130.5px,#ff0300 158.5px,#ff4000 196.5px,#ff5400 219.5px,#ff5300 302.5px,#ff3300 323.5px,#ff0000 352.5px,#f0000f 379.5px,#ca0035 417.5px,#b80047 441.5px,#aa0056 507.5px,#aa0056 537.5px)"></i>
<i style="background:linear-gradient(90deg,#c6003a 89.5px,#cd0032 104.5px,#ef0010 130.5px,#ff0300 158.5px,#ff3f00 196.5px,#ff5400 220.5px,#ff5300 301.5px,#ff3a00 319.5px,#ff0000 352.5px,#e60019 392.5px,#bb0045 435.5px,#aa0056 506.5px,#aa0056 537.5px)"></i>
<i style="background:linear-gradient(90deg,#c6003a 90.5px,#ce0031 105.5px,#f0000f 131.5px,#ff0200 158.5px,#ff3d00 195.5px,#ff5300 218.5px,#ff5300 301.5px,#ff3800 320.5px,#ff0000 352.5px,#e60019 392.5px,#bb0045 435.5px,#aa0056 507.5px,#aa0055 536.5px)"></i>
<i style="background:linear-gradient(90deg,#c6003a 90.5px,#cd0033 104.5px,#ef0010 130.5px,#ff0200 158.5px,#ff3f00 197.5px,#ff5400 221.5px,#ff5300 300.5px,#ff3800 320.5px,#ff0000 352.5px,#e60019 392.5px,#bb0045 435.5px,#aa0055 507.5px,#aa0055 536.5px)"></i>
<i style="background:linear-gradient(90deg,#c6003a 90.5px,#cd0033 104.5px,#f0000f 132.5px,#ff0300 159.5px,#ff4000 198.5px,#ff5300 220.5px,#ff5300 300.5px,#ff3600 321.5px,#ff0000 352.5px,#e60019 392.5px,#bb0044 435.5px,#ab0055 507.5px,#ab0055 536.5px)"></i>
<i style="background:linear-gradient(90deg,#c6003a 91.5px,#ce0032 105.5px,#f0000f 132.5px,#ff0300 159.5px,#ff3e00 197.5px,#ff5400 222.5px,#ff5300 299.5px,#ff3700 320.5px,#fe0001 353.5px,#e60019 392.5px,#ba0045 437.5px,#ab0055 510.5px,#ab0055 535.5px)"></i>
<i style="background:linear-gradient(90deg,#c6003a 91.5px,#ce0031 106.5px,#ef0010 131.5px,#ff0200 159.5px,#ff3f00 198.5px,#ff5400 223.5px,#ff5300 298.5px,#ff3c00 317.5px,#fe0001 353.5px,#e5001a 393.5px,#ba0045 437.5px,#ab0055 513.5px,#ab0055 535.5px)"></i>
<i style="background:linear-gradient(90deg,#c60039 91.5px,#cd0032 105.5px,#ef0011 131.5px,#ff0200 159.5px,#ff3d00 197.5px,#ff5300 222.5px,#ff5300 298.5px,#ff3800 319.5px,#fe0001 353.5px,#e5001a 393.5px,#ba0045 437.5px,#ab0055 515.5px,#ab0055 535.5px)"></i>
<i style="background:linear-gradient(90deg,#c60039 91.5px,#cd0033 105.5px,#f0000f 133.5px,#ff0300 160.5px,#ff3e00 198.5px,#ff5300 223.5px,#ff5300 297.5px,#ff3b00 317.5px,#fe0001 353.5px,#e5001a 393.5px,#ba0045 437.5px,#ab0054 512.5px,#ab0054 535.5px)"></i>
<i style="background:linear-gradient(90deg,#c60039 92.5px,#ce0032 106.5px,#ef0010 132.5px,#ff0300 160.5px,#ff3d00 198.5px,#ff5300 223.5px,#ff5200 298.5px,#ff3700 319.5px,#fe0001 353.5px,#e3001c 395.5px,#bb0044 436.5px,#ac0054 511.5px,#ac0054 534.5px)"></i>
<i style="background:linear-gradient(90deg,#c60039 92.5px,#cd0032 106.5px,#ef0010 132.5px,#ff0200 160.5px,#ff3d00 198.5px,#ff5200 222.5px,#ff5200 297.5px,#ff3700 319.5px,#fe0001 353.5px,#e3001c 395.5px,#bb0045 437.5px,#ac0054 513.5px,#ac0054 534.5px)"></i>
<i style="background:linear-gradient(90deg,#c60039 92.5px,#cd0032 106.5px,#ef0010 132.5px,#ff0200 160.5px,#ff3c00 198.5px,#ff5200 223.5px,#ff5200 296.5px,#ff3b00 316.5px,#fe0001 353.5px,#e3001c 395.5px,#bb0045 437.5px,#ac0054 515.5px,#ac0054 534.5px)"></i>
<i style="background:linear-gradient(90deg,#c60039 93.5px,#ce0031 107.5px,#ef0010 133.5px,#ff0300 161.5px,#ff3d00 199.5px,#ff5300 225.5px,#ff5200 295.5px,#ff3c00 315.5px,#fe0001 353.5px,#e2001d 396.5px,#bb0045 437.5px,#ac0054 516.5px,#ac0053 533.5px)"></i>
<i style="background:linear-gradient(90deg,#c60039 93.5px,#ce0032 107.5px,#ef0010 133.5px,#ff0300 161.5px,#ff3f00 201.5px,#ff5300 227.5px,#ff5200 295.5px,#ff3700 318.5px,#fe0001 353.5px,#e2001d 396.5px,#bb0044 437.5px,#ac0053 513.5px,#ac0053 533.5px)"></i>
<i style="background:linear-gradient(90deg,#c60039 93.5px,#cf0031 108.5px,#f0000f 134.5px,#ff0300 161.5px,#ff3d00 200.5px,#ff5200 225.5px,#ff5200 293.5px,#ff3b00 315.5px,#fe0001 353.5px,#e2001d 396.5px,#bb0044 437.5px,#ad0053 514.5px,#ac0053 533.5px)"></i>
<i style="background:linear-gradient(90deg,#c60039 93.5px,#cf0031 108.5px,#f0000f 134.5px,#ff0200 161.5px,#ff3d00 200.5px,#ff5200 226.5px,#ff5300 291.5px,#ff3c00 314.5px,#fe0001 353.5px,#e2001d 396.5px,#bb0044 437.5px,#ad0053 516.5px,#ad0053 533.5px)"></i>
<i style="background:linear-gradient(90deg,#c60039 94.5px,#cf0030 109.5px,#f0000f 134.5px,#ff0200 161.5px,#ff3b00 199.5px,#ff5100 224.5px,#ff5500 272.5px,#ff4f00 297.5px,#ff2c00 324.5px,#fe0001 353.5px,#e2001d 396.5px,#bb0045 438.5px,#ad0053 518.5px,#ad0053 532.5px)"></i>
<i style="background:linear-gradient(90deg,#c60039 94.5px,#ce0031 108.5px,#f0000f 134.5px,#ff0300 162.5px,#ff3b00 199.5px,#ff5200 227.5px,#ff5200 291.5px,#ff3800 316.5px,#fe0001 352.5px,#e2001d 396.5px,#bc0044 437.5px,#ad0052 514.5px,#ad0053 532.5px)"></i>
<i style="background:linear-gradient(90deg,#c60039 94.5px,#ce0032 108.5px,#f0000f 134.5px,#ff0300 162.5px,#ff3d00 201.5px,#ff5300 230.5px,#ff5200 290.5px,#ff3900 315.5px,#fe0001 352.5px,#e2001d 396.5px,#bc0044 437.5px,#ad0052 516.5px,#ad0053 532.5px)"></i>
<i style="background:linear-gradient(90deg,#c70039 95.5px,#cf0031 109.5px,#f0000f 135.5px,#ff0300 162.5px,#ff3c00 201.5px,#ff5200 228.5px,#ff5200 289.5px,#ff3700 316.5px,#fe0001 353.5px,#e0001f 398.5px,#bb0045 439.5px,#ad0052 520.5px,#ad0052 531.5px)"></i>
<i style="background:linear-gradient(90deg,#c70039 95.5px,#ce0031 109.5px,#f0000f 135.5px,#ff0300 162.5px,#ff3c00 201.5px,#ff5100 227.5px,#ff5500 269.5px,#ff4c00 297.5px,#ff2c00 323.5px,#fe0001 353.5px,#e0001f 398.5px,#bb0045 439.5px,#ae0052 518.5px,#ad0052 531.5px)"></i>
<i style="background:linear-gradient(90deg,#c70039 95.5px,#cf0030 110.5px,#f0000f 135.5px,#ff0200 162.5px,#ff3900 199.5px,#ff5000 225.5px,#ff5500 266.5px,#ff4d00 295.5px,#ff2f00 321.5px,#fe0001 353.5px,#e0001f 398.5px,#bc0044 438.5px,#ae0052 517.5px,#ad0052 531.5px)"></i>
<i style="background:linear-gradient(90deg,#c70039 95.5px,#cf0030 110.5px,#f0000f 135.5px,#ff0200 162.5px,#ff3a00 200.5px,#ff5100 228.5px,#ff5400 273.5px,#ff4a00 298.5px,#ff2500 327.5px,#fe0001 352.5px,#e2001d 396.5px,#bb0044 439.5px,#ae0052 521.5px,#ae0052 531.5px)"></i>
<i style="background:linear-gradient(90deg,#c70038 96.5px,#cf0031 110.5px,#f0000f 135.5px,#ff0200 162.5px,#ff3b00 201.5px,#ff5100 229.5px,#ff5400 273.5px,#ff4800 300.5px,#ff1a00 334.5px,#fe0001 352.5px,#e2001d 396.5px,#bb0044 439.5px,#ae0051 518.5px,#ae0052 530.5px)"></i>
<i style="background:linear-gradient(90deg,#c70038 96.5px,#ce0031 110.5px,#f0000f 136.5px,#ff0200 162.5px,#ff3900 200.5px,#ff5000 227.5px,#ff5400 271.5px,#ff4800 299.5px,#ff2000 330.5px,#fe0001 352.5px,#e4001c 394.5px,#bc0043 438.5px,#ae0051 516.5px,#ae0052 530.5px)"></i>
<i style="background:linear-gradient(90deg,#c70038 96.5px,#ce0031 110.5px,#f0000f 136.5px,#ff0300 163.5px,#ff3900 200.5px,#ff5000 228.5px,#ff5400 268.5px,#ff4900 297.5px,#ff2400 327.5px,#fe0001 352.5px,#e4001c 394.5px,#bc0044 439.5px,#af0051 517.5px,#ae0051 530.5px)"></i>
<i style="background:linear-gradient(90deg,#c70038 97.5px,#cf0030 111.5px,#f0000f 136.5px,#ff0300 163.5px,#ff3b00 202.5px,#ff5100 231.5px,#ff5100 282.5px,#ff4000 306.5px,#fe0001 352.5px,#e4001c 394.5px,#bb0044 440.5px,#af0051 521.5px,#ae0051 529.5px)"></i>
<i style="background:linear-gradient(90deg,#c70038 97.5px,#cf0031 111.5px,#f0000f 137.5px,#ff0300 163.5px,#ff3b00 202.5px,#ff5100 232.5px,#ff5100 281.5px,#ff3e00 307.5px,#fe0001 352.5px,#e4001c 394.5px,#bb0044 440.5px,#af0051 523.5px,#ae0051 529.5px)"></i>
<i style="background:linear-gradient(90deg,#c70038 97.5px,#d00030 112.5px,#f0000f 137.5px,#ff0300 163.5px,#ff3900 201.5px,#ff4f00 228.5px,#ff5300 262.5px,#ff4a00 293.5px,#ff2d00 320.5px,#fe0001 352.5px,#e3001d 395.5px,#bc0043 439.5px,#af0051 521.5px,#af0051 529.5px)"></i>
<i style="background:linear-gradient(90deg,#c70038 97.5px,#cf0030 112.5px,#f00010 137.5px,#ff0300 163.5px,#ff3a00 202.5px,#ff5000 230.5px,#ff5300 268.5px,#ff4600 298.5px,#ff1a00 333.5px,#fe0001 352.5px,#e3001d 395.5px,#bc0044 440.5px,#af0051 521.5px,#af0051 529.5px)"></i>
<i style="background:linear-gradient(90deg,#c70038 98.5px,#cf0030 112.5px,#f0000f 138.5px,#ff0300 163.5px,#ff3b00 203.5px,#ff5000 231.5px,#ff5000 280.5px,#ff3d00 306.5px,#fe0001 352.5px,#e3001d 395.5px,#bb0044 441.5px,#af0050 521.5px,#af0051 528.5px)"></i>
<i style="background:linear-gradient(90deg,#c70038 98.5px,#cf0031 112.5px,#ef0010 137.5px,#ff0300 163.5px,#ff3c00 204.5px,#ff5000 232.5px,#ff5000 279.5px,#ff3b00 308.5px,#fe0001 352.5px,#e2001d 395.5px,#bc0044 441.5px,#af0050 523.5px,#af0051 528.5px)"></i>
<i style="background:linear-gradient(90deg,#c70038 98.5px,#d00030 113.5px,#f0000f 139.5px,#ff0300 163.5px,#ff3d00 205.5px,#ff5100 235.5px,#ff5000 277.5px,#ff3e00 304.5px,#fe0001 352.5px,#e1001f 397.5px,#bb0044 442.5px,#af0050 524.5px,#af0050 528.5px)"></i>
<i style="background:linear-gradient(90deg,#c80038 99.5px,#d0002f 114.5px,#ef0010 138.5px,#ff0300 163.5px,#ff3a00 203.5px,#ff4f00 231.5px,#ff5200 267.5px,#ff4400 297.5px,#ff2000 328.5px,#fe0001 352.5px,#e1001f 397.5px,#bb0044 442.5px,#af0050 526.5px,#af0050 527.5px)"></i>
<i style="background:linear-gradient(90deg,#c80038 99.5px,#d0002f 114.5px,#ef0010 139.5px,#ff0300 163.5px,#ff3b00 204.5px,#ff5000 233.5px,#ff5000 275.5px,#ff3e00 303.5px,#ff0600 346.5px,#fc0003 354.5px,#e1001f 397.5px,#bb0044 442.5px,#b00050 526.5px,#af0050 527.5px)"></i>
<i style="background:linear-gradient(90deg,#c80038 99.5px,#cf0031 113.5px,#f0000f 140.5px,#ff0300 163.5px,#ff3c00 205.5px,#ff4f00 232.5px,#ff4f00 277.5px,#ff3a00 307.5px,#fe0001 352.5px,#e00020 398.5px,#bc0043 441.5px,#b0004f 515.5px,#b00050 527.5px)"></i>
<i style="background:linear-gradient(90deg,#c80037 99.5px,#ce0031 113.5px,#f0000f 140.5px,#ff0300 163.5px,#ff3d00 206.5px,#ff4f00 233.5px,#ff4f00 276.5px,#ff3c00 304.5px,#fe0001 352.5px,#e00020 398.5px,#bc0043 441.5px,#b0004f 517.5px,#b00050 527.5px)"></i>
<i style="background:linear-gradient(90deg,#c80037 100.5px,#cf0030 114.5px,#f0000f 140.5px,#ff0300 163.5px,#ff3f00 208.5px,#ff5000 237.5px,#ff4f00 275.5px,#ff3b00 305.5px,#fe0001 352.5px,#df0021 399.5px,#bb0044 443.5px,#b0004f 521.5px,#b00050 526.5px)"></i>
<i style="background:linear-gradient(90deg,#c80037 100.5px,#cf0030 114.5px,#f1000e 142.5px,#ff0300 163.5px,#ff3f00 208.5px,#ff5000 237.5px,#ff4f00 274.5px,#ff3b00 304.5px,#fe0001 352.5px,#dd0022 401.5px,#bc0044 442.5px,#b0004f 524.5px,#b0004f 526.5px)"></i>
<i style="background:linear-gradient(90deg,#c80037 100.5px,#d00030 115.5px,#f2000d 143.5px,#ff0300 163.5px,#ff3c00 206.5px,#ff4f00 233.5px,#ff4f00 273.5px,#ff3c00 303.5px,#fe0001 352.5px,#dc0023 402.5px,#bc0044 443.5px,#b1004f 517.5px,#b0004f 526.5px)"></i>
<i style="background:linear-gradient(90deg,#c80037 101.5px,#d1002f 116.5px,#f2000d 143.5px,#ff0300 163.5px,#ff3c00 206.5px,#ff4f00 234.5px,#ff4e00 275.5px,#ff3b00 303.5px,#fe0001 352.5px,#db0024 403.5px,#bc0044 443.5px,#b1004f 520.5px,#b0004f 525.5px)"></i>
<i style="background:linear-gradient(90deg,#c80037 101.5px,#d0002f 116.5px,#f3000c 144.5px,#ff0200 162.5px,#ff3d00 207.5px,#ff4f00 235.5px,#ff4e00 274.5px,#ff3900 305.5px,#fe0001 352.5px,#db0024 403.5px,#bc0044 443.5px,#b1004f 520.5px,#b1004f 525.5px)"></i>
<i style="background:linear-gradient(90deg,#c80037 101.5px,#cf0030 115.5px,#f4000b 145.5px,#ff0200 162.5px,#ff3e00 208.5px,#ff4f00 235.5px,#ff4e00 273.5px,#ff3800 306.5px,#fe0001 352.5px,#da0025 404.5px,#bb0045 445.5px,#b1004f 525.5px)"></i>
<i style="background:linear-gradient(90deg,#c90037 102.5px,#d0002f 116.5px,#f5000a 146.5px,#ff0200 162.5px,#ff3e00 208.5px,#ff4f00 236.5px,#ff4e00 272.5px,#ff3b00 302.5px,#fe0002 352.5px,#dc0023 402.5px,#bb0044 444.5px,#b1004f 524.5px)"></i>
<i style="background:linear-gradient(90deg,#c90037 102.5px,#d00030 116.5px,#f5000a 146.5px,#ff0200 162.5px,#ff4000 210.5px,#ff4f00 237.5px,#ff4e00 271.5px,#ff3a00 303.5px,#fd0002 352.5px,#db0024 403.5px,#bc0044 444.5px,#b1004e 521.5px,#b1004f 524.5px)"></i>
<i style="background:linear-gradient(90deg,#c90037 102.5px,#d00030 116.5px,#f60009 147.5px,#ff0200 162.5px,#ff4000 210.5px,#ff4f00 237.5px,#ff4c00 276.5px,#ff3600 306.5px,#fd0002 352.5px,#db0024 403.5px,#bc0044 444.5px,#b2004e 514.5px,#b1004e 524.5px)"></i>
<i style="background:linear-gradient(90deg,#c90037 102.5px,#d0002f 117.5px,#f60009 147.5px,#ff0200 162.5px,#ff4000 210.5px,#ff4f00 237.5px,#ff4c00 276.5px,#ff3400 308.5px,#fe0001 351.5px,#db0024 403.5px,#bc0044 444.5px,#b2004e 514.5px,#b1004e 524.5px)"></i>
<i style="background:linear-gradient(90deg,#c90037 103.5px,#d1002e 118.5px,#f5000a 146.5px,#ff0200 162.5px,#ff4100 211.5px,#ff4f00 239.5px,#ff4c00 275.5px,#ff3500 307.5px,#fe0001 351.5px,#db0024 403.5px,#bb0045 446.5px,#b1004e 523.5px)"></i>
<i style="background:linear-gradient(90deg,#c90037 103.5px,#d1002e 118.5px,#f60009 147.5px,#ff0200 162.5px,#ff4100 211.5px,#ff4f00 239.5px,#ff4c00 274.5px,#ff3700 304.5px,#fe0001 351.5px,#db0024 403.5px,#bb0045 446.5px,#b2004e 523.5px)"></i>
<i style="background:linear-gradient(90deg,#c90037 103.5px,#d00030 117.5px,#f70008 148.5px,#ff0200 162.5px,#ff4200 212.5px,#ff4f00 240.5px,#ff4b00 276.5px,#ff3300 308.5px,#fe0001 351.5px,#db0024 403.5px,#bb0045 446.5px,#b2004e 523.5px)"></i>
<i style="background:linear-gradient(90deg,#c90037 104.5px,#d1002f 118.5px,#f70008 148.5px,#ff0200 162.5px,#ff4200 212.5px,#ff4f00 240.5px,#ff4b00 276.5px,#ff3300 308.5px,#fe0001 351.5px,#db0024 403.5px,#bb0045 446.5px,#b2004e 522.5px)"></i>
<i style="background:linear-gradient(90deg,#c90037 104.5px,#d1002f 118.5px,#f70008 148.5px,#ff0200 162.5px,#ff4300 213.5px,#ff4f00 241.5px,#ff4a00 278.5px,#ff3000 310.5px,#fe0001 351.5px,#d90026 405.5px,#ba0046 448.5px,#b2004e 522.5px)"></i>
<i style="background:linear-gradient(90deg,#c90037 104.5px,#d0002f 118.5px,#f70008 148.5px,#ff0200 162.5px,#ff4300 213.5px,#ff4f00 241.5px,#ff4a00 277.5px,#ff3100 309.5px,#fe0001 351.5px,#d90026 405.5px,#ba0046 448.5px,#b2004d 522.5px)"></i>
<i style="background:linear-gradient(90deg,#c90037 104.5px,#d0002f 118.5px,#f70008 148.5px,#ff0200 162.5px,#ff4300 213.5px,#ff4f00 241.5px,#ff4a00 277.5px,#ff3100 309.5px,#fe0001 351.5px,#d90026 405.5px,#ba0046 448.5px,#b2004d 522.5px)"></i>
<i style="background:linear-gradient(90deg,#c90036 105.5px,#d1002e 119.5px,#f60009 147.5px,#ff0200 162.5px,#ff4300 213.5px,#ff4f00 241.5px,#ff4900 279.5px,#ff2b00 314.5px,#fe0001 351.5px,#d90026 405.5px,#ba0046 448.5px,#b2004d 521.5px)"></i>
<i style="background:linear-gradient(90deg,#c90036 105.5px,#d1002e 119.5px,#f60009 147.5px,#ff0300 163.5px,#ff4300 213.5px,#ff4f00 241.5px,#ff4900 278.5px,#ff2f00 310.5px,#fe0001 351.5px,#d90026 405.5px,#ba0046 448.5px,#b3004d 521.5px)"></i>
<i style="background:linear-gradient(90deg,#c90036 105.5px,#d1002e 119.5px,#f60009 147.5px,#ff0300 163.5px,#ff4300 213.5px,#ff4e00 238.5px,#ff4b00 273.5px,#ff3600 303.5px,#fe0001 351.5px,#d90026 405.5px,#ba0046 448.5px,#b3004d 521.5px)"></i>
<i style="background:linear-gradient(90deg,#ca0036 106.5px,#d2002d 120.5px,#f60009 147.5px,#ff0300 163.5px,#ff4300 213.5px,#ff4e00 237.5px,#ff4b00 273.5px,#ff3400 305.5px,#fe0001 350.5px,#db0024 403.5px,#ba0046 448.5px,#b3004d 520.5px)"></i>
<i style="background:linear-gradient(90deg,#ca0036 106.5px,#d2002d 120.5px,#f60009 147.5px,#ff0300 163.5px,#ff4400 213.5px,#ff4f00 243.5px,#ff4800 279.5px,#ff2d00 311.5px,#fe0001 350.5px,#db0024 403.5px,#ba0046 448.5px,#b3004d 520.5px)"></i>
<i style="background:linear-gradient(90deg,#ca0036 106.5px,#d2002d 120.5px,#f60009 147.5px,#ff0300 163.5px,#ff4500 214.5px,#ff4f00 246.5px,#ff4600 283.5px,#ff1e00 323.5px,#fe0001 350.5px,#db0024 403.5px,#ba0046 448.5px,#b3004d 520.5px)"></i>
<i style="background:linear-gradient(90deg,#ca0036 106.5px,#d3002c 121.5px,#f5000a 146.5px,#ff0300 163.5px,#ff4600 215.5px,#ff4f00 248.5px,#ff4500 284.5px,#ff2100 321.5px,#fe0001 350.5px,#db0024 403.5px,#ba0046 448.5px,#b3004c 520.5px)"></i>
<i style="background:linear-gradient(90deg,#ca0035 107.5px,#d3002c 121.5px,#f5000a 146.5px,#ff0200 163.5px,#ff4700 216.5px,#ff4f00 253.5px,#ff4100 290.5px,#ff1200 333.5px,#fe0001 350.5px,#dc0023 402.5px,#ba0046 448.5px,#b3004c 519.5px)"></i>
<i style="background:linear-gradient(90deg,#cb0035 107.5px,#d3002c 121.5px,#f5000a 146.5px,#ff0300 164.5px,#ff4700 216.5px,#ff4f00 253.5px,#ff4200 288.5px,#ff1900 327.5px,#fe0001 350.5px,#dc0023 402.5px,#ba0046 448.5px,#b3004c 519.5px)"></i>
<i style="background:linear-gradient(90deg,#cb0034 107.5px,#d2002d 120.5px,#f60009 147.5px,#ff0300 164.5px,#ff4700 216.5px,#ff4f00 253.5px,#ff4200 288.5px,#ff1a00 326.5px,#fe0001 349.5px,#de0021 400.5px,#ba0046 448.5px,#b3004c 519.5px)"></i>
<i style="background:linear-gradient(90deg,#cb0034 108.5px,#d3002c 121.5px,#f5000a 146.5px,#ff0300 164.5px,#ff4700 216.5px,#ff4f00 253.5px,#ff4100 289.5px,#ff1600 329.5px,#fe0001 349.5px,#de0021 400.5px,#ba0046 448.5px,#b4004c 518.5px)"></i>
<i style="background:linear-gradient(90deg,#cc0034 108.5px,#d3002c 121.5px,#f5000a 146.5px,#ff0300 164.5px,#ff4700 216.5px,#ff4f00 252.5px,#ff4200 288.5px,#ff1100 333.5px,#fe0001 349.5px,#de0021 400.5px,#ba0046 448.5px,#b4004c 518.5px)"></i>
<i style="background:linear-gradient(90deg,#cc0034 108.5px,#d3002c 121.5px,#f4000b 145.5px,#ff0200 164.5px,#ff4800 216.5px,#ff4e00 254.5px,#ff4200 288.5px,#ff1200 332.5px,#fe0001 349.5px,#de0021 400.5px,#ba0046 448.5px,#b4004c 518.5px)"></i>
<i style="background:linear-gradient(90deg,#cc0034 108.5px,#d4002b 122.5px,#f3000c 144.5px,#ff0300 165.5px,#ff4900 217.5px,#ff4e00 258.5px,#ff4000 290.5px,#ff0800 340.5px,#fd0002 351.5px,#dd0022 401.5px,#ba0046 448.5px,#b4004c 518.5px)"></i>
<i style="background:linear-gradient(90deg,#cc0033 109.5px,#d4002b 122.5px,#f3000c 144.5px,#ff0300 165.5px,#ff4900 217.5px,#ff4e00 258.5px,#ff4000 290.5px,#fe0001 348.5px,#df0020 399.5px,#ba0046 447.5px,#b4004c 517.5px)"></i>
<i style="background:linear-gradient(90deg,#cc0033 109.5px,#d4002b 122.5px,#f2000d 143.5px,#ff0200 165.5px,#ff4900 217.5px,#ff4e00 257.5px,#ff4000 290.5px,#fe0001 348.5px,#df0020 399.5px,#ba0046 447.5px,#b4004b 517.5px)"></i>
<i style="background:linear-gradient(90deg,#cd0033 109.5px,#d4002b 122.5px,#f2000d 143.5px,#ff0300 166.5px,#ff4a00 218.5px,#ff4e00 257.5px,#ff4000 290.5px,#fe0001 348.5px,#df0020 399.5px,#ba0046 448.5px,#b4004b 517.5px)"></i>
<i style="background:linear-gradient(90deg,#cd0033 110.5px,#d4002b 122.5px,#f2000d 143.5px,#ff0300 166.5px,#ff4a00 218.5px,#ff4e00 256.5px,#ff4000 290.5px,#fe0001 348.5px,#e0001f 398.5px,#ba0046 448.5px,#b4004b 516.5px)"></i>
<i style="background:linear-gradient(90deg,#cd0032 110.5px,#d4002b 122.5px,#f0000f 141.5px,#ff0200 166.5px,#ff4a00 218.5px,#ff4e00 256.5px,#ff4000 290.5px,#fe0001 348.5px,#e0001f 398.5px,#ba0046 448.5px,#b4004b 516.5px)"></i>
<i style="background:linear-gradient(90deg,#cd0032 110.5px,#d4002b 122.5px,#f0000f 141.5px,#ff0300 167.5px,#ff4a00 218.5px,#ff4e00 256.5px,#ff4000 290.5px,#fe0001 347.5px,#e1001e 397.5px,#ba0046 448.5px,#b5004b 516.5px)"></i>
<i style="background:linear-gradient(90deg,#cd0032 110.5px,#d6002a 123.5px,#f1000f 141.5px,#ff0300 167.5px,#ff4900 218.5px,#ff4e00 255.5px,#ff4000 290.5px,#fe0001 347.5px,#e1001e 397.5px,#ba0046 448.5px,#b5004b 516.5px)"></i>
<i style="background:linear-gradient(90deg,#ce0032 111.5px,#d6002a 123.5px,#f0000f 140.5px,#ff0200 167.5px,#ff4900 218.5px,#ff4e00 255.5px,#ff4000 290.5px,#fe0001 347.5px,#e1001e 397.5px,#ba0046 448.5px,#b5004b 515.5px)"></i>
<i style="background:linear-gradient(90deg,#ce0031 111.5px,#d6002a 123.5px,#f1000e 141.5px,#ff0300 168.5px,#ff4800 217.5px,#ff4e00 254.5px,#ff4000 290.5px,#fe0001 346.5px,#e3001c 394.5px,#ba0046 448.5px,#b5004b 515.5px)"></i>
<i style="background:linear-gradient(90deg,#ce0031 111.5px,#d6002a 123.5px,#f0000f 140.5px,#ff0300 168.5px,#ff4800 218.5px,#ff4e00 254.5px,#ff4000 290.5px,#fe0001 346.5px,#e2001d 396.5px,#b90046 448.5px,#b5004b 515.5px)"></i>
<i style="background:linear-gradient(90deg,#cf0031 112.5px,#d4002b 122.5px,#f1000e 140.5px,#ff0300 169.5px,#ff4700 218.5px,#ff4e00 251.5px,#ff4100 289.5px,#fe0001 346.5px,#e2001d 396.5px,#b90046 448.5px,#b5004a 514.5px)"></i>
<i style="background:linear-gradient(90deg,#cf0031 112.5px,#d5002a 123.5px,#f1000e 140.5px,#ff0300 169.5px,#ff4500 217.5px,#ff4f00 248.5px,#ff4100 289.5px,#fe0001 345.5px,#e4001b 393.5px,#b90046 448.5px,#b5004a 514.5px)"></i>
<i style="background:linear-gradient(90deg,#cf0031 112.5px,#d5002a 123.5px,#f1000e 140.5px,#ff0200 169.5px,#ff4600 218.5px,#ff4e00 250.5px,#ff4100 289.5px,#fe0001 345.5px,#e3001c 395.5px,#b90046 448.5px,#b5004a 514.5px)"></i>
<i style="background:linear-gradient(90deg,#cf0030 113.5px,#d5002a 123.5px,#f1000e 140.5px,#ff0300 170.5px,#ff4500 218.5px,#ff4e00 248.5px,#ff4100 289.5px,#fe0001 345.5px,#e3001c 395.5px,#b90046 448.5px,#b5004a 513.5px)"></i>
<i style="background:linear-gradient(90deg,#cf0030 113.5px,#d80027 125.5px,#f1000e 140.5px,#ff0300 170.5px,#ff4500 219.5px,#ff4e00 250.5px,#ff4100 289.5px,#fe0001 344.5px,#e5001a 392.5px,#b90047 450.5px,#b5004a 513.5px)"></i>
<i style="background:linear-gradient(90deg,#d00030 113.5px,#d80027 125.5px,#f1000e 140.5px,#ff0300 171.5px,#ff4300 218.5px,#ff4e00 248.5px,#ff4100 289.5px,#fe0001 344.5px,#e4001b 394.5px,#b90046 449.5px,#b6004a 513.5px)"></i>
<i style="background:linear-gradient(90deg,#d0002f 113.5px,#d80027 125.5px,#f1000e 140.5px,#ff0300 171.5px,#ff4300 219.5px,#ff4d00 247.5px,#ff4100 289.5px,#fe0001 344.5px,#e4001b 394.5px,#b90047 450.5px,#b6004a 513.5px)"></i>
<i style="background:linear-gradient(90deg,#d0002f 114.5px,#da0026 126.5px,#f1000e 140.5px,#ff0300 172.5px,#ff4000 217.5px,#ff4d00 245.5px,#ff4200 287.5px,#fe0001 344.5px,#e5001a 393.5px,#b90047 450.5px,#b6004a 512.5px)"></i>
<i style="background:linear-gradient(90deg,#d0002f 114.5px,#d60029 124.5px,#f0000f 140.5px,#ff0300 172.5px,#ff4000 218.5px,#ff4c00 245.5px,#ff4100 288.5px,#fe0001 343.5px,#e5001a 393.5px,#b90047 450.5px,#b6004a 512.5px)"></i>
<i style="background:linear-gradient(90deg,#d0002f 114.5px,#d80028 125.5px,#f0000f 140.5px,#ff0200 172.5px,#ff3f00 218.5px,#ff4c00 245.5px,#ff4100 288.5px,#fe0001 343.5px,#e5001a 393.5px,#b90047 450.5px,#b6004a 512.5px)"></i>
<i style="background:linear-gradient(90deg,#d1002e 115.5px,#d80028 125.5px,#f0000f 140.5px,#ff0300 173.5px,#ff3e00 217.5px,#ff4b00 246.5px,#ff4100 287.5px,#fe0001 343.5px,#e5001a 393.5px,#b90046 449.5px,#b6004a 511.5px)"></i>
<i style="background:linear-gradient(90deg,#d1002e 115.5px,#d70028 125.5px,#f1000f 141.5px,#ff0200 173.5px,#ff3d00 217.5px,#ff4a00 244.5px,#ff4100 286.5px,#fe0001 342.5px,#e60019 392.5px,#b90046 450.5px,#b60049 511.5px)"></i>
<i style="background:linear-gradient(90deg,#d1002e 115.5px,#d90027 126.5px,#f1000e 142.5px,#ff0300 174.5px,#ff3d00 218.5px,#ff4a00 247.5px,#ff4000 287.5px,#fe0001 342.5px,#e60019 392.5px,#b90047 451.5px,#b60049 511.5px)"></i>
<i style="background:linear-gradient(90deg,#d2002e 115.5px,#d80027 126.5px,#f1000e 142.5px,#ff0200 174.5px,#ff3c00 218.5px,#ff4900 247.5px,#ff3f00 287.5px,#fe0001 342.5px,#e60019 392.5px,#ba0046 450.5px,#b60049 511.5px)"></i>
<i style="background:linear-gradient(90deg,#d2002d 116.5px,#d80027 126.5px,#f1000f 142.5px,#ff0300 175.5px,#ff3b00 218.5px,#ff4800 245.5px,#ff4000 285.5px,#fe0001 342.5px,#e60019 392.5px,#ba0046 450.5px,#b60049 510.5px)"></i>
<i style="background:linear-gradient(90deg,#d2002d 116.5px,#d80027 126.5px,#f1000e 143.5px,#ff0200 175.5px,#ff3a00 218.5px,#ff4700 245.5px,#ff3f00 285.5px,#fe0001 341.5px,#e5001a 393.5px,#b90046 451.5px,#b60049 510.5px)"></i>
<i style="background:linear-gradient(90deg,#d2002d 116.5px,#d90026 127.5px,#f0000f 142.5px,#ff0300 176.5px,#ff3a00 219.5px,#ff4700 248.5px,#ff3d00 287.5px,#fe0001 341.5px,#e5001a 393.5px,#ba0046 451.5px,#b70049 510.5px)"></i>
<i style="background:linear-gradient(90deg,#d3002d 117.5px,#d90026 127.5px,#f0000f 143.5px,#ff0200 176.5px,#ff3900 219.5px,#ff4600 248.5px,#ff3e00 284.5px,#ff0e00 327.5px,#fd0002 342.5px,#e5001a 393.5px,#b90046 452.5px,#b70049 509.5px)"></i>
<i style="background:linear-gradient(90deg,#d3002d 117.5px,#da0025 128.5px,#f0000f 143.5px,#ff0300 177.5px,#ff3800 219.5px,#ff4500 246.5px,#ff3e00 283.5px,#ff1b00 316.5px,#fe0001 340.5px,#e5001a 393.5px,#ba0046 451.5px,#b70049 509.5px)"></i>
<i style="background:linear-gradient(90deg,#d3002c 117.5px,#da0025 128.5px,#f0000f 144.5px,#ff0200 177.5px,#ff3700 219.5px,#ff4400 246.5px,#ff3e00 282.5px,#ff1800 318.5px,#fe0001 340.5px,#e5001a 393.5px,#ba0046 452.5px,#b70049 509.5px)"></i>
<i style="background:linear-gradient(90deg,#d3002c 117.5px,#db0024 129.5px,#f1000e 145.5px,#ff0300 178.5px,#ff3600 219.5px,#ff4300 246.5px,#ff3e00 280.5px,#ff1e00 312.5px,#fe0001 340.5px,#e5001a 393.5px,#ba0046 452.5px,#b70049 509.5px)"></i>
<i style="background:linear-gradient(90deg,#d4002c 118.5px,#db0024 129.5px,#f0000f 145.5px,#ff0200 178.5px,#ff3600 220.5px,#ff4300 249.5px,#ff3b00 284.5px,#ff0a00 329.5px,#fd0002 340.5px,#e60019 392.5px,#ba0045 452.5px,#b70049 508.5px)"></i>
<i style="background:linear-gradient(90deg,#d4002c 118.5px,#dc0023 130.5px,#f0000f 145.5px,#ff0300 179.5px,#ff3500 220.5px,#ff4200 249.5px,#ff3b00 283.5px,#ff1300 321.5px,#fe0001 339.5px,#f0000f 375.5px,#ba0046 454.5px,#b70049 508.5px)"></i>
<i style="background:linear-gradient(90deg,#d4002c 118.5px,#dc0023 130.5px,#f1000e 147.5px,#ff0200 179.5px,#ff3400 220.5px,#ff4100 247.5px,#ff3b00 281.5px,#ff1a00 314.5px,#fe0001 339.5px,#f0000f 375.5px,#ba0046 454.5px,#b70048 508.5px)"></i>
<i style="background:linear-gradient(90deg,#d4002b 119.5px,#dd0022 131.5px,#f1000e 147.5px,#ff0300 180.5px,#ff3400 221.5px,#ff4100 250.5px,#ff3900 283.5px,#ff1200 321.5px,#fd0002 339.5px,#e70018 391.5px,#bb0045 452.5px,#b70048 507.5px)"></i>
<i style="background:linear-gradient(90deg,#d4002b 119.5px,#dd0023 131.5px,#f1000e 147.5px,#ff0300 181.5px,#ff3300 221.5px,#ff4000 250.5px,#ff3800 284.5px,#ff0600 331.5px,#fc0003 341.5px,#e60019 392.5px,#bb0045 453.5px,#b70048 507.5px)"></i>
<i style="background:linear-gradient(90deg,#d5002a 119.5px,#dc0023 131.5px,#f1000e 148.5px,#ff0300 181.5px,#ff3200 221.5px,#ff3f00 250.5px,#ff3800 282.5px,#ff1500 317.5px,#fd0002 339.5px,#e60019 392.5px,#bb0045 453.5px,#b70048 507.5px)"></i>
<i style="background:linear-gradient(90deg,#d5002a 119.5px,#db0025 130.5px,#f1000e 148.5px,#ff0300 182.5px,#ff3200 222.5px,#ff3e00 250.5px,#ff3800 281.5px,#ff1300 319.5px,#fe0001 337.5px,#f0000f 374.5px,#cb0035 428.5px,#b90047 460.5px,#b70048 507.5px)"></i>
<i style="background:linear-gradient(90deg,#d5002a 120.5px,#dd0022 132.5px,#f1000e 148.5px,#ff0300 182.5px,#ff3100 222.5px,#ff3e00 251.5px,#ff3600 283.5px,#ff0700 329.5px,#fd0002 339.5px,#f0000f 374.5px,#c90037 431.5px,#b90047 463.5px,#b70048 506.5px)"></i>
<i style="background:linear-gradient(90deg,#d6002a 120.5px,#dc0024 131.5px,#f1000e 149.5px,#ff0300 183.5px,#ff3100 223.5px,#ff3d00 253.5px,#ff3500 283.5px,#ff1200 319.5px,#fe0001 337.5px,#f0000f 373.5px,#d3002d 418.5px,#ba0046 458.5px,#b70048 506.5px)"></i>
<i style="background:linear-gradient(90deg,#d6002a 120.5px,#db0024 131.5px,#f1000e 149.5px,#ff0300 183.5px,#ff3000 223.5px,#ff3c00 252.5px,#ff3500 282.5px,#ff0b00 324.5px,#fd0002 337.5px,#e60019 392.5px,#bc0044 454.5px,#b80048 506.5px)"></i>
<i style="background:linear-gradient(90deg,#d60029 121.5px,#de0022 133.5px,#f0000f 148.5px,#ff0300 184.5px,#ff3000 224.5px,#ff3c00 254.5px,#ff3100 287.5px,#fd0002 337.5px,#e60019 392.5px,#bc0044 454.5px,#b80048 505.5px)"></i>
<i style="background:linear-gradient(90deg,#d60029 121.5px,#dd0022 133.5px,#f1000e 150.5px,#ff0200 184.5px,#ff2f00 224.5px,#ff3b00 254.5px,#ff3200 284.5px,#ff0b00 324.5px,#fe0001 336.5px,#f1000e 370.5px,#db0024 407.5px,#bb0045 457.5px,#b80048 505.5px)"></i>
<i style="background:linear-gradient(90deg,#d70029 121.5px,#de0021 134.5px,#f1000f 150.5px,#ff0300 185.5px,#ff2f00 225.5px,#ff3a00 254.5px,#ff3200 283.5px,#ff0600 328.5px,#fc0003 338.5px,#e60019 392.5px,#bc0044 455.5px,#b80048 505.5px)"></i>
<i style="background:linear-gradient(90deg,#d70028 121.5px,#dd0022 133.5px,#f1000e 151.5px,#ff0300 186.5px,#ff2d00 224.5px,#ff3900 251.5px,#ff3300 280.5px,#ff1300 316.5px,#fd0002 336.5px,#f0000f 373.5px,#bb0044 457.5px,#b80048 505.5px)"></i>
<i style="background:linear-gradient(90deg,#d70028 122.5px,#df0020 135.5px,#f1000e 151.5px,#ff0300 186.5px,#ff2f00 227.5px,#ff3900 257.5px,#ff2e00 287.5px,#fe0001 335.5px,#f1000e 369.5px,#dc0023 406.5px,#bc0044 457.5px,#b80048 504.5px)"></i>
<i style="background:linear-gradient(90deg,#d70028 122.5px,#df0020 135.5px,#f1000e 153.5px,#ff0300 187.5px,#ff2b00 224.5px,#ff3800 251.5px,#ff3100 281.5px,#ff1000 317.5px,#fd0002 335.5px,#e60019 392.5px,#bc0044 457.5px,#b80048 504.5px)"></i>
<i style="background:linear-gradient(90deg,#d70028 122.5px,#df0020 135.5px,#f1000e 153.5px,#ff0300 187.5px,#ff2e00 228.5px,#ff3700 256.5px,#ff2f00 283.5px,#ff0b00 322.5px,#fd0002 335.5px,#e5001a 393.5px,#bd0043 456.5px,#b80048 501.5px,#b80048 504.5px)"></i>
<i style="background:linear-gradient(90deg,#d80028 123.5px,#e0001f 136.5px,#f1000e 153.5px,#ff0300 188.5px,#ff2b00 225.5px,#ff3700 255.5px,#ff2d00 285.5px,#fd0002 334.5px,#e60019 392.5px,#bd0043 456.5px,#b80048 503.5px)"></i>
<i style="background:linear-gradient(90deg,#d80028 123.5px,#e00020 136.5px,#f1000e 154.5px,#ff0300 188.5px,#ff2e00 230.5px,#ff3600 260.5px,#ff2900 290.5px,#fd0002 334.5px,#e60019 392.5px,#be0042 455.5px,#b80048 497.5px,#b80048 503.5px)"></i>
<i style="background:linear-gradient(90deg,#d80027 123.5px,#df0020 136.5px,#f1000e 154.5px,#ff0300 189.5px,#ff2e00 231.5px,#ff3500 259.5px,#ff2b00 286.5px,#fd0002 334.5px,#e60019 392.5px,#bd0042 456.5px,#b80048 503.5px)"></i>
<i style="background:linear-gradient(90deg,#d80027 123.5px,#e0001f 137.5px,#f1000e 154.5px,#ff0200 189.5px,#ff2b00 228.5px,#ff3500 258.5px,#ff2900 288.5px,#fd0002 333.5px,#e5001a 393.5px,#bd0043 458.5px,#b80048 503.5px)"></i>
<i style="background:linear-gradient(90deg,#d80027 124.5px,#e1001e 138.5px,#f1000e 155.5px,#ff0300 190.5px,#ff2b00 229.5px,#ff3400 257.5px,#ff2a00 286.5px,#fd0002 333.5px,#e5001a 393.5px,#bd0043 459.5px,#b80047 502.5px)"></i>
<i style="background:linear-gradient(90deg,#d80027 124.5px,#e2001d 139.5px,#f1000e 155.5px,#ff0300 191.5px,#ff2b00 230.5px,#ff3400 259.5px,#ff2500 292.5px,#fe0001 332.5px,#f1000e 367.5px,#dc0023 407.5px,#bd0043 460.5px,#b80047 502.5px)"></i>
<i style="background:linear-gradient(90deg,#d80027 124.5px,#e2001d 139.5px,#f1000e 155.5px,#ff0300 191.5px,#ff2a00 230.5px,#ff3300 257.5px,#ff2800 287.5px,#fd0002 332.5px,#e5001a 393.5px,#bd0042 459.5px,#b80047 502.5px)"></i>
<i style="background:linear-gradient(90deg,#d90027 125.5px,#e3001c 140.5px,#f1000e 157.5px,#ff0300 192.5px,#ff2900 229.5px,#ff3300 259.5px,#ff2500 290.5px,#fd0002 332.5px,#e5001a 393.5px,#be0042 459.5px,#b80047 501.5px)"></i>
<i style="background:linear-gradient(90deg,#d90026 125.5px,#e3001d 140.5px,#f1000e 156.5px,#ff0300 192.5px,#ff2b00 233.5px,#ff3200 261.5px,#ff2200 293.5px,#fe0001 331.5px,#f1000e 366.5px,#dd0022 405.5px,#bd0043 462.5px,#b80047 501.5px)"></i>
<i style="background:linear-gradient(90deg,#d90026 125.5px,#e2001d 140.5px,#f1000e 156.5px,#ff0300 193.5px,#ff2b00 234.5px,#ff3100 260.5px,#ff2500 289.5px,#fd0002 331.5px,#e60019 391.5px,#be0042 460.5px,#b80047 501.5px)"></i>
<i style="background:linear-gradient(90deg,#d90026 126.5px,#e4001b 142.5px,#f1000e 158.5px,#ff0300 193.5px,#ff2a00 233.5px,#ff3100 261.5px,#ff2100 293.5px,#fd0002 331.5px,#f0000f 370.5px,#be0042 462.5px,#b80047 500.5px)"></i>
<i style="background:linear-gradient(90deg,#da0026 126.5px,#e2001d 140.5px,#f1000e 158.5px,#ff0300 194.5px,#ff2a00 234.5px,#ff3100 260.5px,#ff2000 294.5px,#fe0001 330.5px,#f1000e 365.5px,#dd0022 406.5px,#be0042 462.5px,#b90047 500.5px)"></i>
<i style="background:linear-gradient(90deg,#da0026 126.5px,#e2001e 140.5px,#f1000e 158.5px,#ff0200 194.5px,#ff2700 231.5px,#ff3000 256.5px,#ff2600 285.5px,#fd0002 330.5px,#f0000f 370.5px,#be0042 463.5px,#b90047 500.5px)"></i>
<i style="background:linear-gradient(90deg,#da0026 126.5px,#e2001d 141.5px,#f1000e 159.5px,#ff0300 195.5px,#ff2900 234.5px,#ff3000 260.5px,#ff1f00 294.5px,#fe0001 329.5px,#f0000f 368.5px,#d90026 412.5px,#bd0042 465.5px,#b90047 500.5px)"></i>
<i style="background:linear-gradient(90deg,#da0025 127.5px,#e4001b 143.5px,#f1000e 159.5px,#ff0200 195.5px,#ff2900 235.5px,#ff2f00 261.5px,#ff1f00 293.5px,#fe0001 329.5px,#f1000e 364.5px,#df0020 403.5px,#bf0040 460.5px,#b90047 499.5px)"></i>
<i style="background:linear-gradient(90deg,#da0025 127.5px,#e4001b 143.5px,#f1000e 160.5px,#ff0300 196.5px,#ff2800 234.5px,#ff2f00 261.5px,#ff1d00 295.5px,#fd0002 329.5px,#f0000f 369.5px,#be0042 465.5px,#b90047 499.5px)"></i>
<i style="background:linear-gradient(90deg,#db0025 127.5px,#e3001c 142.5px,#f1000e 160.5px,#ff0300 197.5px,#ff2900 236.5px,#ff2e00 262.5px,#ff1c00 296.5px,#fe0001 328.5px,#f1000e 365.5px,#d70028 415.5px,#bd0042 468.5px,#b90047 499.5px)"></i>
<i style="background:linear-gradient(90deg,#db0024 128.5px,#e3001d 142.5px,#f1000e 160.5px,#ff0300 197.5px,#ff2700 234.5px,#ff2e00 259.5px,#ff2000 290.5px,#fd0002 328.5px,#f0000f 368.5px,#d1002e 425.5px,#bc0044 475.5px,#b90046 498.5px)"></i>
<i style="background:linear-gradient(90deg,#db0024 128.5px,#e3001c 143.5px,#f1000e 161.5px,#ff0300 198.5px,#ff2800 236.5px,#ff2e00 260.5px,#ff1d00 293.5px,#fd0002 328.5px,#f0000f 368.5px,#bf0041 466.5px,#ba0046 498.5px)"></i>
<i style="background:linear-gradient(90deg,#db0024 128.5px,#e3001c 143.5px,#f1000e 161.5px,#ff0300 198.5px,#ff2900 238.5px,#ff2d00 263.5px,#ff1800 299.5px,#fe0001 327.5px,#f1000e 364.5px,#d80027 414.5px,#be0041 467.5px,#ba0046 498.5px)"></i>
<i style="background:linear-gradient(90deg,#db0024 128.5px,#e3001c 143.5px,#f1000e 162.5px,#ff0300 199.5px,#ff2800 237.5px,#ff2d00 262.5px,#ff1900 297.5px,#fd0002 327.5px,#e4001b 394.5px,#c00040 464.5px,#ba0046 498.5px)"></i>
<i style="background:linear-gradient(90deg,#dc0024 129.5px,#e4001c 144.5px,#f1000e 162.5px,#ff0300 199.5px,#ff2800 238.5px,#ff2c00 262.5px,#ff1a00 295.5px,#fd0002 327.5px,#f0000f 367.5px,#d2002d 425.5px,#bd0042 474.5px,#ba0045 497.5px)"></i>
<i style="background:linear-gradient(90deg,#dc0023 129.5px,#e3001c 144.5px,#f1000e 162.5px,#ff0300 200.5px,#ff2700 237.5px,#ff2c00 260.5px,#ff1a00 295.5px,#fe0001 326.5px,#f1000e 363.5px,#dc0023 408.5px,#bf0040 467.5px,#ba0045 497.5px)"></i>
<i style="background:linear-gradient(90deg,#dc0023 129.5px,#e4001b 145.5px,#f1000e 163.5px,#ff0300 200.5px,#ff2800 239.5px,#ff2c00 262.5px,#ff1600 299.5px,#fd0002 326.5px,#f0000f 368.5px,#c00040 466.5px,#bb0045 497.5px)"></i>
<i style="background:linear-gradient(90deg,#dc0023 130.5px,#e5001a 146.5px,#f1000e 164.5px,#ff0200 200.5px,#ff2700 238.5px,#ff2c00 261.5px,#ff1600 299.5px,#fd0002 326.5px,#f0000f 366.5px,#cb0034 438.5px,#bc0044 488.5px,#bb0045 496.5px)"></i>
<i style="background:linear-gradient(90deg,#dc0023 130.5px,#e5001a 146.5px,#f1000e 164.5px,#ff0300 201.5px,#ff2800 240.5px,#ff2b00 263.5px,#ff1300 302.5px,#fe0001 325.5px,#f1000e 362.5px,#db0024 410.5px,#c00040 468.5px,#bb0044 496.5px)"></i>
<i style="background:linear-gradient(90deg,#dd0023 130.5px,#e5001b 146.5px,#f1000e 165.5px,#ff0300 201.5px,#ff2900 242.5px,#ff2900 268.5px,#ff0d00 308.5px,#fd0002 326.5px,#f0000f 366.5px,#c0003f 467.5px,#bc0044 496.5px)"></i>
<i style="background:linear-gradient(90deg,#dd0023 130.5px,#e60019 148.5px,#f1000e 166.5px,#ff0300 202.5px,#ff2800 241.5px,#ff2b00 261.5px,#ff1300 301.5px,#fd0002 325.5px,#f0000f 366.5px,#c1003f 466.5px,#bc0044 496.5px)"></i>
<i style="background:linear-gradient(90deg,#dd0022 131.5px,#e70018 149.5px,#f1000e 167.5px,#ff0300 202.5px,#ff2900 243.5px,#ff2900 266.5px,#ff0e00 306.5px,#fd0002 325.5px,#f0000f 365.5px,#c1003f 467.5px,#bc0043 495.5px)"></i>
<i style="background:linear-gradient(90deg,#dd0022 131.5px,#e70018 149.5px,#f1000e 169.5px,#ff0300 203.5px,#ff2700 240.5px,#ff2a00 263.5px,#ff0f00 305.5px,#fd0002 325.5px,#f1000e 362.5px,#d6002a 420.5px,#c00040 472.5px,#bc0043 495.5px)"></i>
<i style="background:linear-gradient(90deg,#dd0022 131.5px,#e70019 149.5px,#f1000e 168.5px,#ff0300 203.5px,#ff2800 242.5px,#ff2800 267.5px,#ff0b00 309.5px,#fd0002 325.5px,#f0000f 365.5px,#c1003e 467.5px,#bc0043 495.5px)"></i>
<i style="background:linear-gradient(90deg,#dd0022 132.5px,#e90016 152.5px,#f2000d 173.5px,#ff0200 203.5px,#ff2700 241.5px,#ff2a00 261.5px,#ff1000 303.5px,#fe0001 323.5px,#f1000e 360.5px,#dd0022 407.5px,#c2003e 467.5px,#bd0043 494.5px)"></i>
<i style="background:linear-gradient(90deg,#de0022 132.5px,#e60019 149.5px,#f1000e 168.5px,#ff0300 204.5px,#ff2800 243.5px,#ff2800 266.5px,#ff0b00 308.5px,#fd0002 324.5px,#f0000f 364.5px,#d2002e 428.5px,#bf0041 480.5px,#bd0042 494.5px)"></i>
<i style="background:linear-gradient(90deg,#de0022 132.5px,#e70018 150.5px,#f1000e 170.5px,#ff0300 204.5px,#ff2900 245.5px,#ff2700 267.5px,#ff0a00 309.5px,#fd0002 324.5px,#f0000f 364.5px,#cc0033 440.5px,#be0042 490.5px,#bd0042 494.5px)"></i>
<i style="background:linear-gradient(90deg,#de0022 132.5px,#ea0015 154.5px,#ff0300 205.5px,#ff2600 241.5px,#ff2900 261.5px,#ff1000 302.5px,#fd0002 323.5px,#f0000f 365.5px,#c2003e 468.5px,#be0042 494.5px)"></i>
<i style="background:linear-gradient(90deg,#de0021 133.5px,#e90016 153.5px,#f2000d 175.5px,#ff0300 205.5px,#ff2700 243.5px,#ff2700 266.5px,#ff0a00 308.5px,#fd0002 323.5px,#f0000f 364.5px,#c2003d 467.5px,#be0042 493.5px)"></i>
<i style="background:linear-gradient(90deg,#de0021 133.5px,#ea0015 155.5px,#ff0300 205.5px,#ff2800 245.5px,#ff2600 268.5px,#ff0400 315.5px,#f90006 331.5px,#e4001b 394.5px,#c3003c 464.5px,#be0041 493.5px)"></i>
<i style="background:linear-gradient(90deg,#df0021 133.5px,#ea0015 155.5px,#ff0300 206.5px,#ff2700 244.5px,#ff2600 267.5px,#ff0700 311.5px,#fc0003 325.5px,#f0000f 364.5px,#c3003d 467.5px,#be0041 493.5px)"></i>
<i style="background:linear-gradient(90deg,#df0020 134.5px,#e90016 154.5px,#f3000c 180.5px,#ff0300 206.5px,#ff2700 245.5px,#ff2500 268.5px,#ff0700 311.5px,#fd0002 323.5px,#f0000f 363.5px,#c2003d 469.5px,#bf0041 492.5px)"></i>
<i style="background:linear-gradient(90deg,#df0020 134.5px,#e90016 154.5px,#f2000d 178.5px,#ff0200 206.5px,#ff2500 242.5px,#ff2500 268.5px,#ff0500 313.5px,#fc0003 325.5px,#f0000f 364.5px,#c3003d 468.5px,#bf0040 492.5px)"></i>
<i style="background:linear-gradient(90deg,#df0020 134.5px,#ea0015 156.5px,#ff0300 207.5px,#ff2500 243.5px,#ff2500 267.5px,#ff0800 309.5px,#fd0002 323.5px,#f1000e 358.5px,#db0025 412.5px,#c2003d 472.5px,#bf0040 492.5px)"></i>
<i style="background:linear-gradient(90deg,#df0020 134.5px,#ea0015 156.5px,#ff0300 207.5px,#ff2500 244.5px,#ff2500 266.5px,#ff0800 309.5px,#fd0002 323.5px,#f0000f 362.5px,#c3003c 468.5px,#c00040 492.5px)"></i>
<i style="background:linear-gradient(90deg,#df0020 135.5px,#ec0013 159.5px,#ff0300 207.5px,#ff2500 244.5px,#ff2400 268.5px,#ff0500 312.5px,#fc0003 324.5px,#f0000f 363.5px,#c3003c 468.5px,#c00040 491.5px)"></i>
<i style="background:linear-gradient(90deg,#e00020 135.5px,#ec0013 159.5px,#ff0300 208.5px,#ff2400 243.5px,#ff2400 267.5px,#ff0900 307.5px,#fd0002 321.5px,#f0000f 363.5px,#c3003c 469.5px,#c0003f 491.5px)"></i>
<i style="background:linear-gradient(90deg,#e0001f 135.5px,#e80017 154.5px,#f2000d 179.5px,#ff0300 208.5px,#ff2400 244.5px,#ff2300 269.5px,#ff0300 314.5px,#f0000f 363.5px,#c4003c 468.5px,#c0003f 491.5px)"></i>
<i style="background:linear-gradient(90deg,#e0001f 136.5px,#f1000e 176.5px,#ff0300 208.5px,#ff2300 243.5px,#ff2300 268.5px,#ff0600 310.5px,#fc0003 324.5px,#f0000f 362.5px,#c3003c 470.5px,#c1003f 490.5px)"></i>
<i style="background:linear-gradient(90deg,#e0001f 136.5px,#f1000e 176.5px,#ff0200 208.5px,#ff2200 242.5px,#ff2200 270.5px,#ff0300 313.5px,#f0000f 362.5px,#c4003c 469.5px,#c1003f 490.5px)"></i>
<i style="background:linear-gradient(90deg,#e0001f 136.5px,#f1000e 177.5px,#ff0300 209.5px,#ff2200 243.5px,#ff2200 269.5px,#ff0500 311.5px,#fc0003 323.5px,#f0000f 362.5px,#c4003b 468.5px,#c1003e 490.5px)"></i>
<i style="background:linear-gradient(90deg,#e1001f 137.5px,#f1000e 177.5px,#ff0300 209.5px,#ff2200 243.5px,#ff2200 269.5px,#ff0300 313.5px,#f0000f 362.5px,#c4003b 468.5px,#c1003e 489.5px)"></i>
<i style="background:linear-gradient(90deg,#e1001f 137.5px,#f2000d 180.5px,#ff0300 209.5px,#ff2200 244.5px,#ff2100 271.5px,#fd0002 320.5px,#f0000f 362.5px,#c4003b 469.5px,#c1003e 489.5px)"></i>
<i style="background:linear-gradient(90deg,#e1001e 137.5px,#f2000d 181.5px,#ff0200 209.5px,#ff2000 241.5px,#ff2300 264.5px,#ff0c00 302.5px,#fd0002 320.5px,#f0000f 361.5px,#c4003b 469.5px,#c2003e 489.5px)"></i>
<i style="background:linear-gradient(90deg,#e1001e 137.5px,#f2000d 181.5px,#ff0300 210.5px,#ff2100 243.5px,#ff2100 270.5px,#ff0100 315.5px,#f0000f 360.5px,#c5003b 468.5px,#c2003e 489.5px)"></i>
<i style="background:linear-gradient(90deg,#e1001e 138.5px,#f2000d 181.5px,#ff0300 210.5px,#ff2000 242.5px,#ff2000 271.5px,#fd0002 320.5px,#f0000f 360.5px,#c4003b 470.5px,#c2003d 488.5px)"></i>
<i style="background:linear-gradient(90deg,#e1001e 138.5px,#f2000d 182.5px,#ff0300 210.5px,#ff1f00 241.5px,#ff2200 265.5px,#ff0b00 303.5px,#fd0002 320.5px,#f0000f 360.5px,#c5003b 469.5px,#c2003d 488.5px)"></i>
<i style="background:linear-gradient(90deg,#e1001e 138.5px,#f2000d 182.5px,#ff0300 210.5px,#ff2000 243.5px,#ff2000 271.5px,#ff0100 314.5px,#f0000f 360.5px,#c5003b 469.5px,#c2003d 488.5px)"></i>
<i style="background:linear-gradient(90deg,#e2001e 139.5px,#f2000d 183.5px,#ff0300 210.5px,#ff1f00 242.5px,#ff2100 267.5px,#ff0800 306.5px,#fd0002 320.5px,#f0000f 360.5px,#c5003b 470.5px,#c3003d 487.5px)"></i>
<i style="background:linear-gradient(90deg,#e2001d 139.5px,#fe0001 206.5px,#ff2000 244.5px,#ff1f00 272.5px,#fd0002 319.5px,#f0000f 360.5px,#c5003a 468.5px,#c3003d 487.5px)"></i>
<i style="background:linear-gradient(90deg,#e2001d 139.5px,#fd0002 205.5px,#ff2000 245.5px,#ff1f00 272.5px,#fd0002 319.5px,#f0000f 360.5px,#c5003a 468.5px,#c3003d 487.5px)"></i>
<i style="background:linear-gradient(90deg,#e2001d 139.5px,#fd0002 205.5px,#ff2000 245.5px,#ff1f00 272.5px,#fd0002 319.5px,#f0000f 360.5px,#c5003a 468.5px,#c3003c 487.5px)"></i>
<i style="background:linear-gradient(90deg,#e3001d 140.5px,#fc0003 203.5px,#ff0600 214.5px,#ff1f00 243.5px,#ff1f00 270.5px,#ff0600 308.5px,#fc0003 322.5px,#f0000f 359.5px,#c5003a 469.5px,#c3003c 486.5px)"></i>
<i style="background:linear-gradient(90deg,#e3001c 140.5px,#fc0003 203.5px,#ff0700 215.5px,#ff1f00 244.5px,#ff1f00 271.5px,#ff0100 314.5px,#f0000f 359.5px,#c5003a 469.5px,#c3003c 486.5px)"></i>
<i style="background:linear-gradient(90deg,#e3001c 140.5px,#fd0002 205.5px,#ff1f00 244.5px,#ff1f00 271.5px,#ff0100 314.5px,#f0000f 359.5px,#c5003a 469.5px,#c3003c 486.5px)"></i>
<i style="background:linear-gradient(90deg,#e3001c 141.5px,#fd0002 205.5px,#ff2000 246.5px,#ff1d00 275.5px,#fd0002 319.5px,#f0000f 359.5px,#c5003a 469.5px,#c3003c 485.5px)"></i>
<i style="background:linear-gradient(90deg,#e3001c 141.5px,#fd0002 205.5px,#ff1f00 245.5px,#ff1e00 273.5px,#fd0002 319.5px,#f0000f 359.5px,#c5003a 469.5px,#c3003c 485.5px)"></i>
</div>
<svg width="947" height="637" viewBox="0 0 947 637" font-family="Liberation Sans, sans-serif">
<defs><linearGradient id="cbg" x1="0" x2="1" y1="0" y2="0">
<stop offset="0" stop-color="#0000ff"/><stop offset="0.25" stop-color="#00ff00"/><stop offset="0.5" stop-color="#ffff00"/><stop offset="0.75" stop-color="#ff0000"/><stop offset="1" stop-color="#800080"/>
</linearGradient></defs>
<g id="cont">
<path stroke-width="1" d="M297,84C297.6,85.3 298.7,89.6 300.3,92C301.9,94.4 304.3,96.7 306.6,98.4C308.9,100.1 311.4,101.3 314.2,102.2C317,103.1 321.6,103.5 323.1,103.8"/>
<text transform="translate(339 103.6) rotate(3)">30</text>
<path stroke-width="1" d="M351,106C352.7,106.2 357.7,107.1 361.1,107.2C364.5,107.3 367.9,107.1 371.3,106.6C374.7,106.1 378,105 381.4,104.1C384.8,103.2 388,101.8 391.5,101C395,100.2 399.2,100.1 402.7,99C406.2,97.9 410.5,96.3 412.8,94.6C415.1,92.9 415.9,90.7 416.6,88.9C417.3,87.1 416.9,84.8 417,84"/>
<path stroke-width="1" d="M192.5,84C193,85.4 194.6,89.3 195.8,92.6C197,95.9 198.3,101.5 199.6,103.9C200.9,106.3 201.4,106.7 203.4,107.2C205.4,107.7 208.3,107 211.4,106.8C214.5,106.6 219.3,106.1 222.2,105.8C225.1,105.5 226.6,105.8 228.8,104.9C231,104 233.5,101.9 235.4,100.2C237.3,98.5 238.7,96.7 240,94.5C241.3,92.3 242.3,88.8 243,87C243.7,85.2 243.8,84.5 244,84"/>
<path stroke-width="1" d="M185.4,117.1C186.5,116.6 190,114.9 192,114.3C194,113.7 195.5,112.8 197.2,113.4C198.9,114 200.3,116.2 202.4,118.1C204.5,120 207.6,122.7 210,124.7C212.4,126.7 214.2,128.4 216.5,130C218.8,131.6 220.1,132.7 224,134C227.9,135.3 235,136.7 240,138C245,139.3 249.3,139.5 254,142C258.7,144.5 264.3,151.2 268,153C271.7,154.8 271.5,154 276,153C280.5,152 291.8,148 295,147"/>
<text transform="translate(311 146.5) rotate(0)">47</text>
<path stroke-width="1" d="M323.1,147.2C324.4,146.1 327.3,142.8 330.7,140.8C334.1,138.8 339.2,136.8 343.4,135.1C347.6,133.4 352.4,132 356,130.7C359.6,129.4 361.7,127.6 364.9,127.1C368.1,126.6 371.6,127.1 375,127.5C378.4,127.9 381,129 385.2,129.4C389.4,129.8 395.6,130.5 400,130.1C404.4,129.7 408.3,128 411.5,126.9C414.7,125.8 417.9,124.2 419.2,123.7"/>
<text transform="translate(432.2 111.5) rotate(-50)">47</text>
<path stroke-width="1" d="M440,106C441.2,105 444.4,102.5 447,100.3C449.6,98.1 452.9,95.2 455.9,92.7C458.9,90.2 463.1,86.6 464.8,85.1C466.5,83.6 465.8,84.2 466,84"/>
<path stroke-width="1" d="M485.2,84C486.9,85 491.7,87.9 495.3,90.1C498.9,92.3 503.8,95.8 506.8,97.1C509.8,98.4 510.8,98.1 513.1,97.7C515.4,97.3 517.8,95.8 520.7,94.6C523.7,93.4 527.8,91.3 530.8,90.8C533.8,90.3 535.4,90.8 538.4,91.4C541.4,92 545.2,93.6 548.6,94.6C552,95.6 556.1,96.9 558.7,97.1C561.3,97.3 563.4,96 564.4,95.8"/>
<text transform="translate(580.5 91.4) rotate(-20)">47</text>
<path stroke-width="1" d="M592.2,90.5C593.4,91 597.1,92.6 599.4,93.4C601.7,94.2 603.2,95.3 605.9,95.2C608.6,95.1 612.8,93.9 615.3,92.7C617.8,91.6 619.5,89.8 621.1,88.3C622.7,86.8 624.4,84.7 625.1,84"/>
<path stroke-width="1" d="M793,84C792.7,86 791.6,91.6 791.1,95.8C790.6,100 789.8,105 789.7,109C789.6,113 790.3,118 790.6,120C790.9,122 791.4,120.8 791.6,121"/>
<path stroke-width="1" d="M193,143C195.2,144.2 201.2,147.3 206,150C210.8,152.7 215.3,156.3 222,159C228.7,161.7 238.7,163.8 246,166C253.3,168.2 260,170.7 266,172C272,173.3 275.7,173.5 282,174C288.3,174.5 300.3,174.8 304,175"/>
<text transform="translate(320 174) rotate(0)">74</text>
<path stroke-width="1" d="M334,173C338.2,172.2 353,169.3 359,168C365,166.7 364.8,166.5 370,165C375.2,163.5 384.6,160.9 390,159.2C395.4,157.5 398.5,156.3 402.7,154.8C406.9,153.3 411.1,152.2 415.3,150.3C419.5,148.4 423.8,146.2 428,143.4C432.2,140.6 437.1,135.6 440.7,133.2C444.3,130.8 448.1,129.5 449.6,128.8"/>
<text transform="translate(464.4 119) rotate(-22)">74</text>
<path stroke-width="1" d="M473.7,114.9C475.6,114.3 481,112.2 485,111.1C489,110 493.9,109.2 497.7,108.5C501.5,107.8 503.8,107.7 508,107.2C512.2,106.7 518.6,105.9 523.2,105.3C527.8,104.7 531,103.7 535.9,103.4C540.8,103.1 546.9,103.6 552.4,103.4C557.9,103.2 564.7,102.7 568.9,102.2C573.1,101.7 573.2,100.6 577.7,100.3C582.2,100 592.8,100.2 595.8,100.2"/>
<text transform="translate(614.6 99) rotate(-8)">74</text>
<path stroke-width="1" d="M622.2,99.2C623.8,98.6 628.7,96.2 632,95.6C635.3,95 638.8,95.1 642,95.6C645.2,96.1 648.7,97.8 651.3,98.4C653.9,99 654.9,99.4 657.6,99C660.3,98.6 663.8,96.8 667.7,95.8C671.6,94.8 675.3,92.3 681,93C686.7,93.7 695.3,99.2 702,100C708.7,100.8 717.8,97.9 721,97.5"/>
<text transform="translate(738 97) rotate(5)">74</text>
<path stroke-width="1" d="M748,100C749.7,101.7 754.3,106 758,110C761.7,114 765.7,118.3 770,124C774.3,129.7 781.5,140.4 784,144C786.5,147.6 784.8,145.2 785,145.5"/>
<path stroke-width="1" d="M199,165C200.8,166 204.8,168.9 210,171C215.2,173.1 223.3,175.2 230,177.5C236.7,179.8 243.3,182.7 250,185C256.7,187.3 262.4,189.5 270,191.5C277.6,193.5 291.2,196.1 295.5,197"/>
<text transform="translate(316 198) rotate(3)">117</text>
<path stroke-width="1" d="M334,200C336.7,199.7 344.7,198.8 350,198C355.3,197.2 360,196.3 366,195C372,193.7 378.7,192.7 386,190C393.3,187.3 402.7,182.7 410,179C417.3,175.3 424.2,171.2 430,168C435.8,164.8 442.5,161.3 445,160"/>
<text transform="translate(459.7 144.5) rotate(-37)">117</text>
<path stroke-width="1" d="M473.8,136.4C476.3,134.9 483.3,130.1 489,127.5C494.7,124.9 501.7,122.5 508,120.6C514.3,118.7 521.7,117.5 527,116.1C532.3,114.7 534.8,113.4 539.7,112.3C544.6,111.2 550.9,110.3 556.2,109.8C561.5,109.3 566.6,109.4 571.4,109.2C576.2,109 583,108.6 585.3,108.5"/>
<text transform="translate(605 108.5) rotate(5)">117</text>
<path stroke-width="1" d="M622.5,107.1C624.8,106.9 631.6,106.2 636,106C640.4,105.8 644.5,105.9 648.7,106C652.9,106.1 657.8,106.4 661.4,106.6C664.9,106.8 665.9,106.4 670,107C674.1,107.6 679,108.5 686,110C693,111.5 707.7,115 712,116"/>
<text transform="translate(732 125) rotate(25)">117</text>
<path stroke-width="1" d="M746,133C748.7,134.8 756.7,138.8 762,144C767.3,149.2 775.2,160.4 778,164C780.8,167.6 778.8,165.2 779,165.5"/>
<path stroke-width="2" d="M203,184C205.8,185.3 214.5,189.2 220,192C225.5,194.8 229.4,197.5 236,201C242.6,204.5 252.2,209.3 259.8,213C267.4,216.7 273.5,219.8 281.8,223C290.1,226.2 305,230.9 309.7,232.5"/>
<text transform="translate(331.6 239) rotate(12)">185</text>
<path stroke-width="2" d="M346,243C347.7,243.5 352,245.3 356,246C360,246.7 365.3,247.2 370,247.3C374.7,247.4 379.4,247.2 384,246.5C388.6,245.8 393.6,244.7 397.9,242.9C402.2,241.1 406.2,238.4 409.8,235.9C413.4,233.4 416.5,231 419.8,227.9C423.1,224.8 426.5,220.8 429.8,217C433.1,213.2 436.5,208.7 439.8,205C443.1,201.3 446,199.8 449.7,195C453.4,190.2 460,179.2 462,176"/>
<text transform="translate(477.9 157.5) rotate(-45)">185</text>
<path stroke-width="2" d="M489,149.1C491.1,147.5 496.8,142.4 501.7,139.6C506.6,136.8 512.9,134.2 518.2,132C523.5,129.8 528.3,128.4 533.4,126.3C538.5,124.2 544.6,121 548.6,119.3C552.6,117.6 553.7,116.6 557.5,116.1C561.3,115.6 566.9,116 571.4,116.1C575.9,116.2 582.5,116.7 584.7,116.8"/>
<text transform="translate(607 116) rotate(8)">185</text>
<path stroke-width="2" d="M621.1,113.6C622.6,113.6 627.4,113.4 629.8,113.6C632.2,113.8 633,115 635.5,115C638,115 642.4,114 645,113.6C647.6,113.2 648.6,112.6 651.3,112.7C654,112.8 657.6,113.3 661.4,114.2C665.2,115.1 669.2,116.2 674,118C678.8,119.8 683.8,122.3 690,125C696.2,127.7 707.5,132.5 711,134"/>
<text transform="translate(730 146) rotate(30)">185</text>
<path stroke-width="2" d="M742,154C744.3,156 751,161.2 756,166C761,170.8 769.1,179.8 772,183C774.9,186.2 773.3,184.7 773.6,185"/>
<path stroke-width="1" d="M211.9,210.6C214.9,212.7 223.6,218.6 229.9,223C236.2,227.4 243.2,232.2 249.8,237C256.4,241.8 264.2,247.5 269.8,252C275.4,256.5 279,258.9 283.7,264C288.3,269.1 295.4,279.7 297.7,282.8"/>
<text transform="translate(309.7 300.8) rotate(50)">291</text>
<path stroke-width="1" d="M323.7,314.7C326.4,316.6 334.4,322.1 339.7,326C345,329.9 350.7,333.7 355.7,338C360.7,342.3 365.6,347.2 369.6,351.9C373.6,356.5 376.4,360.6 379.6,365.9C382.8,371.2 386.6,379.5 389,383.8C391.4,388.1 391.1,388.3 393.9,391.8C396.7,395.3 401,400.3 405.9,404.8C410.8,409.3 420.6,416.6 423.6,419"/>
<text transform="translate(443.5 415) rotate(-8)">291</text>
<path stroke-width="1" d="M458.7,412.4C460.9,410.3 468.8,403.9 471.8,399.8C474.8,395.7 476.2,391.8 476.7,387.8C477.2,383.8 476,380.5 474.7,375.9C473.4,371.2 470.1,365.6 468.8,359.9C467.5,354.2 467,347.2 466.8,341.9C466.6,336.6 467,331.3 467.8,328C468.6,324.7 470.6,324.9 471.7,322C472.8,319.1 474.2,312.6 474.7,310.7"/>
<text transform="translate(478 289) rotate(-90)">291</text>
<path stroke-width="1" d="M478.7,275.3C478.6,272.9 478.3,266 478.1,260.9C477.9,255.8 477.6,251 477.7,245C477.8,239 478,231.3 478.7,225C479.4,218.7 480.4,212 481.7,207C483,202 485.2,198.8 486.7,195C488.2,191.2 490.3,185.8 491,184"/>
<text transform="translate(502.3 166) rotate(-61)">291</text>
<path stroke-width="1" d="M510,152C513.3,150.3 523.6,145.3 530,142C536.4,138.7 543.4,134.4 548.6,132C553.8,129.6 556.6,128.4 561.3,127.5C565.9,126.6 571,127 576.5,126.6C582,126.2 591.4,125.4 594.4,125.2"/>
<text transform="translate(616.5 124) rotate(0)">291</text>
<path stroke-width="1" d="M632,125.2C634.8,125.2 644.2,124.9 648.7,125C653.2,125.1 655,124.6 658.9,125.6C662.8,126.6 666.8,128.3 672,131C677.2,133.7 684,138.5 690,142C696,145.5 703.3,149.2 708,152C712.7,154.8 716.3,157.8 718,159"/>
<text transform="translate(732 174) rotate(35)">291</text>
<path stroke-width="1" d="M744,184C746.3,185.7 754.5,190.5 758,194C761.5,197.5 763.6,202.9 765,205C766.4,207.1 766.2,206.2 766.5,206.5"/>
<path stroke-width="1" d="M225.9,255.9C227.9,258 234.6,264.3 237.9,268.8C241.2,273.3 243.2,277.5 245.8,282.8C248.4,288.1 251.8,295.9 253.8,300.8C255.8,305.7 255.3,307.1 258,312C260.7,316.9 265.5,324 269.8,330C274.1,336 279.8,342.6 283.8,347.9C287.8,353.2 290.8,356.9 293.8,361.9C296.8,366.9 299.3,371.9 301.8,377.9C304.3,383.9 307.5,394.2 308.8,397.8C310.1,401.4 309.5,399.1 309.6,399.4"/>
<text transform="translate(312 419) rotate(80)">459</text>
<path stroke-width="1" d="M316.7,434C316.7,440.3 317.1,463.6 316.9,471.9C316.7,480.2 315,479.9 315.5,483.9C316,487.9 318.7,493.2 319.8,495.9C320.9,498.6 320.3,496.2 322,500C323.7,503.8 328.6,515.8 329.9,518.9"/>
<text transform="translate(337.5 538.5) rotate(68)">459</text>
<path stroke-width="1" d="M344.9,552.8C346.6,557.3 353.2,575.5 354.9,580"/>
<path stroke-width="1" d="M526.9,580C527.7,576 530.1,563.5 531.9,555.8C533.7,548.1 535.9,541.4 537.9,533.8C539.9,526.2 542.2,517.2 543.9,509.9C545.6,502.6 547,496.6 547.9,489.9C548.8,483.2 549.1,476.6 549.4,470C549.7,463.4 549.7,456 549.8,450C549.9,444 549.8,436.7 549.8,434"/>
<text transform="translate(550.9 413.2) rotate(-90)">459</text>
<path stroke-width="1" d="M552.3,398.7C551.9,395.6 551.3,386 549.9,379.9C548.5,373.8 545.9,367.9 543.9,361.9C541.9,355.9 539.7,349.9 537.9,343.9C536.1,337.9 534.1,331.3 532.9,326C531.7,320.7 531.4,315.2 530.9,312C530.4,308.8 530.4,310.3 529.9,306.8C529.4,303.3 528.2,293.5 527.9,290.8"/>
<text transform="translate(524.7 274.5) rotate(85)">459</text>
<path stroke-width="1" d="M523.9,257C523.7,254.9 523.6,249.1 522.9,244.3C522.2,239.5 520.6,233.4 519.8,228C518.9,222.6 518.1,216.7 517.8,211.6C517.5,206.5 517.1,201.4 517.8,197.3C518.5,193.2 520.1,190.8 521.8,187.1C523.5,183.4 526,178.6 528,174.9C530,171.2 532,167.9 534,164.7C536,161.5 537.8,158.2 540.2,155.5C542.6,152.8 545.7,150.3 548.4,148.4C551.1,146.5 552.7,145.6 556.5,144.3C560.3,143 565.8,141.7 571.4,140.8C577,139.9 585.2,139.4 590,138.9C594.8,138.4 598.3,138.2 600,138"/>
<text transform="translate(614.2 136.8) rotate(0)">459</text>
<path stroke-width="1" d="M629.7,137.7C632.9,138 643,138.4 648.7,139.6C654.4,140.8 659.4,142.5 663.9,144.6C668.4,146.7 671.6,148.8 676,152C680.4,155.2 685,160.3 690,164C695,167.7 701,170 706,174C711,178 716,183.2 720,188C724,192.8 726.8,198.2 729.8,203C732.8,207.8 735.1,212.3 737.8,217C740.5,221.7 743.1,226.5 745.8,231C748.5,235.5 752.2,241.6 753.8,243.9C755.4,246.2 755.2,244.8 755.5,245"/>
<path stroke-width="1" d="M673.5,525.8C670.2,524.1 659.2,519.1 653.9,515.8C648.6,512.5 645.6,509.8 641.9,505.8C638.2,501.8 634.4,496.2 631.9,491.9C629.4,487.6 627.6,485.2 626.9,479.9C626.2,474.6 627.6,467.6 627.9,460C628.2,452.4 628.6,438.3 628.7,434"/>
<text transform="translate(622.3 419) rotate(80)">724</text>
<path stroke-width="1" d="M617,399.3C616.3,395.4 614,382.8 612.8,375.9C611.6,369 611.3,363.6 609.8,357.9C608.3,352.2 606.5,347.2 603.8,341.9C601.1,336.6 597.4,331.2 593.8,326C590.2,320.8 584,313.1 582.1,310.5"/>
<text transform="translate(576.7 293) rotate(75)">724</text>
<path stroke-width="1" d="M572.9,275.3C572.7,273.6 572.3,269.1 571.8,265C571.3,260.9 570.8,255.9 569.8,250.9C568.8,245.9 567.8,240.2 565.8,234.9C563.8,229.6 560.2,224 557.9,219C555.6,214 552.7,209 551.9,205C551.1,201 551.9,198.8 552.9,195C553.9,191.2 555.2,186.5 558,182C560.8,177.5 565.3,171.7 570,168C574.7,164.3 580.7,162.6 586,160C591.3,157.4 599.2,153.5 601.8,152.2"/>
<text transform="translate(622 156) rotate(12)">724</text>
<path stroke-width="1" d="M636,161C638.3,161.5 646,162.2 650,164C654,165.8 656.3,169 660,172C663.7,175 668.3,178.7 672,182C675.7,185.3 678.7,188.2 682,192C685.3,195.8 689.2,200.8 691.9,205C694.6,209.2 695.9,212.4 697.9,217C699.9,221.6 701.9,228.6 703.9,232.9C705.9,237.2 707.6,239.2 709.9,242.9C712.2,246.6 715.2,250.2 717.8,254.9C720.4,259.6 724.5,268.2 725.8,270.8"/>
<text transform="translate(727.8 290.8) rotate(90)">724</text>
<path stroke-width="1" d="M729.8,308.7C729.9,312.5 730.5,327.7 730.6,331.5"/>
</g>
<g fill="#000">
<rect x="174" y="82" width="629" height="2"/>
<rect x="174" y="82" width="1" height="496"/>
<rect x="802" y="82" width="1" height="496"/>
<rect x="197.0" y="77" width="2" height="5"/>
<text class="t" x="198.3" y="72.2" text-anchor="middle">4</text>
<rect x="245.3" y="77" width="2" height="5"/>
<text class="t" x="246.6" y="72.2" text-anchor="middle">6</text>
<rect x="293.6" y="77" width="2" height="5"/>
<text class="t" x="294.9" y="72.2" text-anchor="middle">8</text>
<rect x="341.8" y="77" width="2" height="5"/>
<text class="t" x="343.1" y="72.2" text-anchor="middle">10</text>
<rect x="390.1" y="77" width="2" height="5"/>
<text class="t" x="391.4" y="72.2" text-anchor="middle">12</text>
<rect x="438.4" y="77" width="2" height="5"/>
<text class="t" x="439.7" y="72.2" text-anchor="middle">14</text>
<rect x="486.7" y="77" width="2" height="5"/>
<text class="t" x="488.0" y="72.2" text-anchor="middle">16</text>
<rect x="535.0" y="77" width="2" height="5"/>
<text class="t" x="536.3" y="72.2" text-anchor="middle">18</text>
<rect x="583.2" y="77" width="2" height="5"/>
<text class="t" x="584.5" y="72.2" text-anchor="middle">20</text>
<rect x="631.5" y="77" width="2" height="5"/>
<text class="t" x="632.8" y="72.2" text-anchor="middle">22</text>
<rect x="679.8" y="77" width="2" height="5"/>
<text class="t" x="681.1" y="72.2" text-anchor="middle">24</text>
<rect x="728.1" y="77" width="2" height="5"/>
<text class="t" x="729.4" y="72.2" text-anchor="middle">26</text>
<rect x="776.4" y="77" width="2" height="5"/>
<text class="t" x="777.7" y="72.2" text-anchor="middle">28</text>
<rect x="169" y="83.40" width="5" height="1.2"/>
<rect x="803" y="83.40" width="5" height="1.2"/>
<text class="t" x="145.3" y="89.1" text-anchor="middle">0.0</text>
<text class="t" x="813.5" y="89.1">0.0</text>
<rect x="169" y="130.50" width="5" height="1.2"/>
<rect x="803" y="130.50" width="5" height="1.2"/>
<text class="t" x="145.3" y="136.2" text-anchor="middle">2.0</text>
<text class="t" x="813.5" y="136.2">2.0</text>
<rect x="169" y="177.60" width="5" height="1.2"/>
<rect x="803" y="177.60" width="5" height="1.2"/>
<text class="t" x="145.3" y="183.3" text-anchor="middle">4.0</text>
<text class="t" x="813.5" y="183.3">4.0</text>
<rect x="169" y="224.70" width="5" height="1.2"/>
<rect x="803" y="224.70" width="5" height="1.2"/>
<text class="t" x="145.3" y="230.4" text-anchor="middle">6.0</text>
<text class="t" x="813.5" y="230.4">6.0</text>
<rect x="169" y="271.80" width="5" height="1.2"/>
<rect x="803" y="271.80" width="5" height="1.2"/>
<text class="t" x="145.3" y="277.5" text-anchor="middle">8.0</text>
<text class="t" x="813.5" y="277.5">8.0</text>
<rect x="169" y="318.90" width="5" height="1.2"/>
<rect x="803" y="318.90" width="5" height="1.2"/>
<text class="t" x="145.3" y="324.6" text-anchor="middle">10.0</text>
<text class="t" x="813.5" y="324.6">10.0</text>
<rect x="169" y="366.00" width="5" height="1.2"/>
<rect x="803" y="366.00" width="5" height="1.2"/>
<text class="t" x="145.3" y="371.7" text-anchor="middle">12.0</text>
<text class="t" x="813.5" y="371.7">12.0</text>
<rect x="169" y="413.10" width="5" height="1.2"/>
<rect x="803" y="413.10" width="5" height="1.2"/>
<text class="t" x="145.3" y="418.8" text-anchor="middle">14.0</text>
<text class="t" x="813.5" y="418.8">14.0</text>
<rect x="169" y="460.20" width="5" height="1.2"/>
<rect x="803" y="460.20" width="5" height="1.2"/>
<text class="t" x="145.3" y="465.9" text-anchor="middle">16.0</text>
<text class="t" x="813.5" y="465.9">16.0</text>
<rect x="169" y="507.30" width="5" height="1.2"/>
<rect x="803" y="507.30" width="5" height="1.2"/>
<text class="t" x="145.3" y="513.0" text-anchor="middle">18.0</text>
<text class="t" x="813.5" y="513.0">18.0</text>
<rect x="169" y="554.40" width="5" height="1.2"/>
<rect x="803" y="554.40" width="5" height="1.2"/>
<text class="t" x="145.3" y="560.1" text-anchor="middle">20.0</text>
<text class="t" x="813.5" y="560.1">20.0</text>
<rect x="101.8" y="589.2" width="217.6" height="11" fill="url(#cbg)" stroke="#000" stroke-width="1.5"/>
<rect x="101.0" y="601" width="1.2" height="5.5"/>
<text class="t" x="101.6" y="618.5" text-anchor="middle">19</text>
<rect x="155.6" y="601" width="1.2" height="5.5"/>
<text class="t" x="155.0" y="618.5" text-anchor="middle">52</text>
<rect x="210.0" y="601" width="1.2" height="5.5"/>
<text class="t" x="210.0" y="618.5" text-anchor="middle">147</text>
<rect x="264.1" y="601" width="1.2" height="5.5"/>
<text class="t" x="264.1" y="618.5" text-anchor="middle">409</text>
<rect x="318.5" y="601" width="1.2" height="5.5"/>
<text class="t" x="319.1" y="618.5" text-anchor="middle">1140</text>
<text class="t" x="336" y="618.5">(ohm-m)</text>
<text x="120.2" y="331.5" transform="rotate(-90 120.2 331.5)" text-anchor="middle" font-weight="bold" font-size="21">DEPTH (METER)</text>
</g>
</svg>
</body></html>
